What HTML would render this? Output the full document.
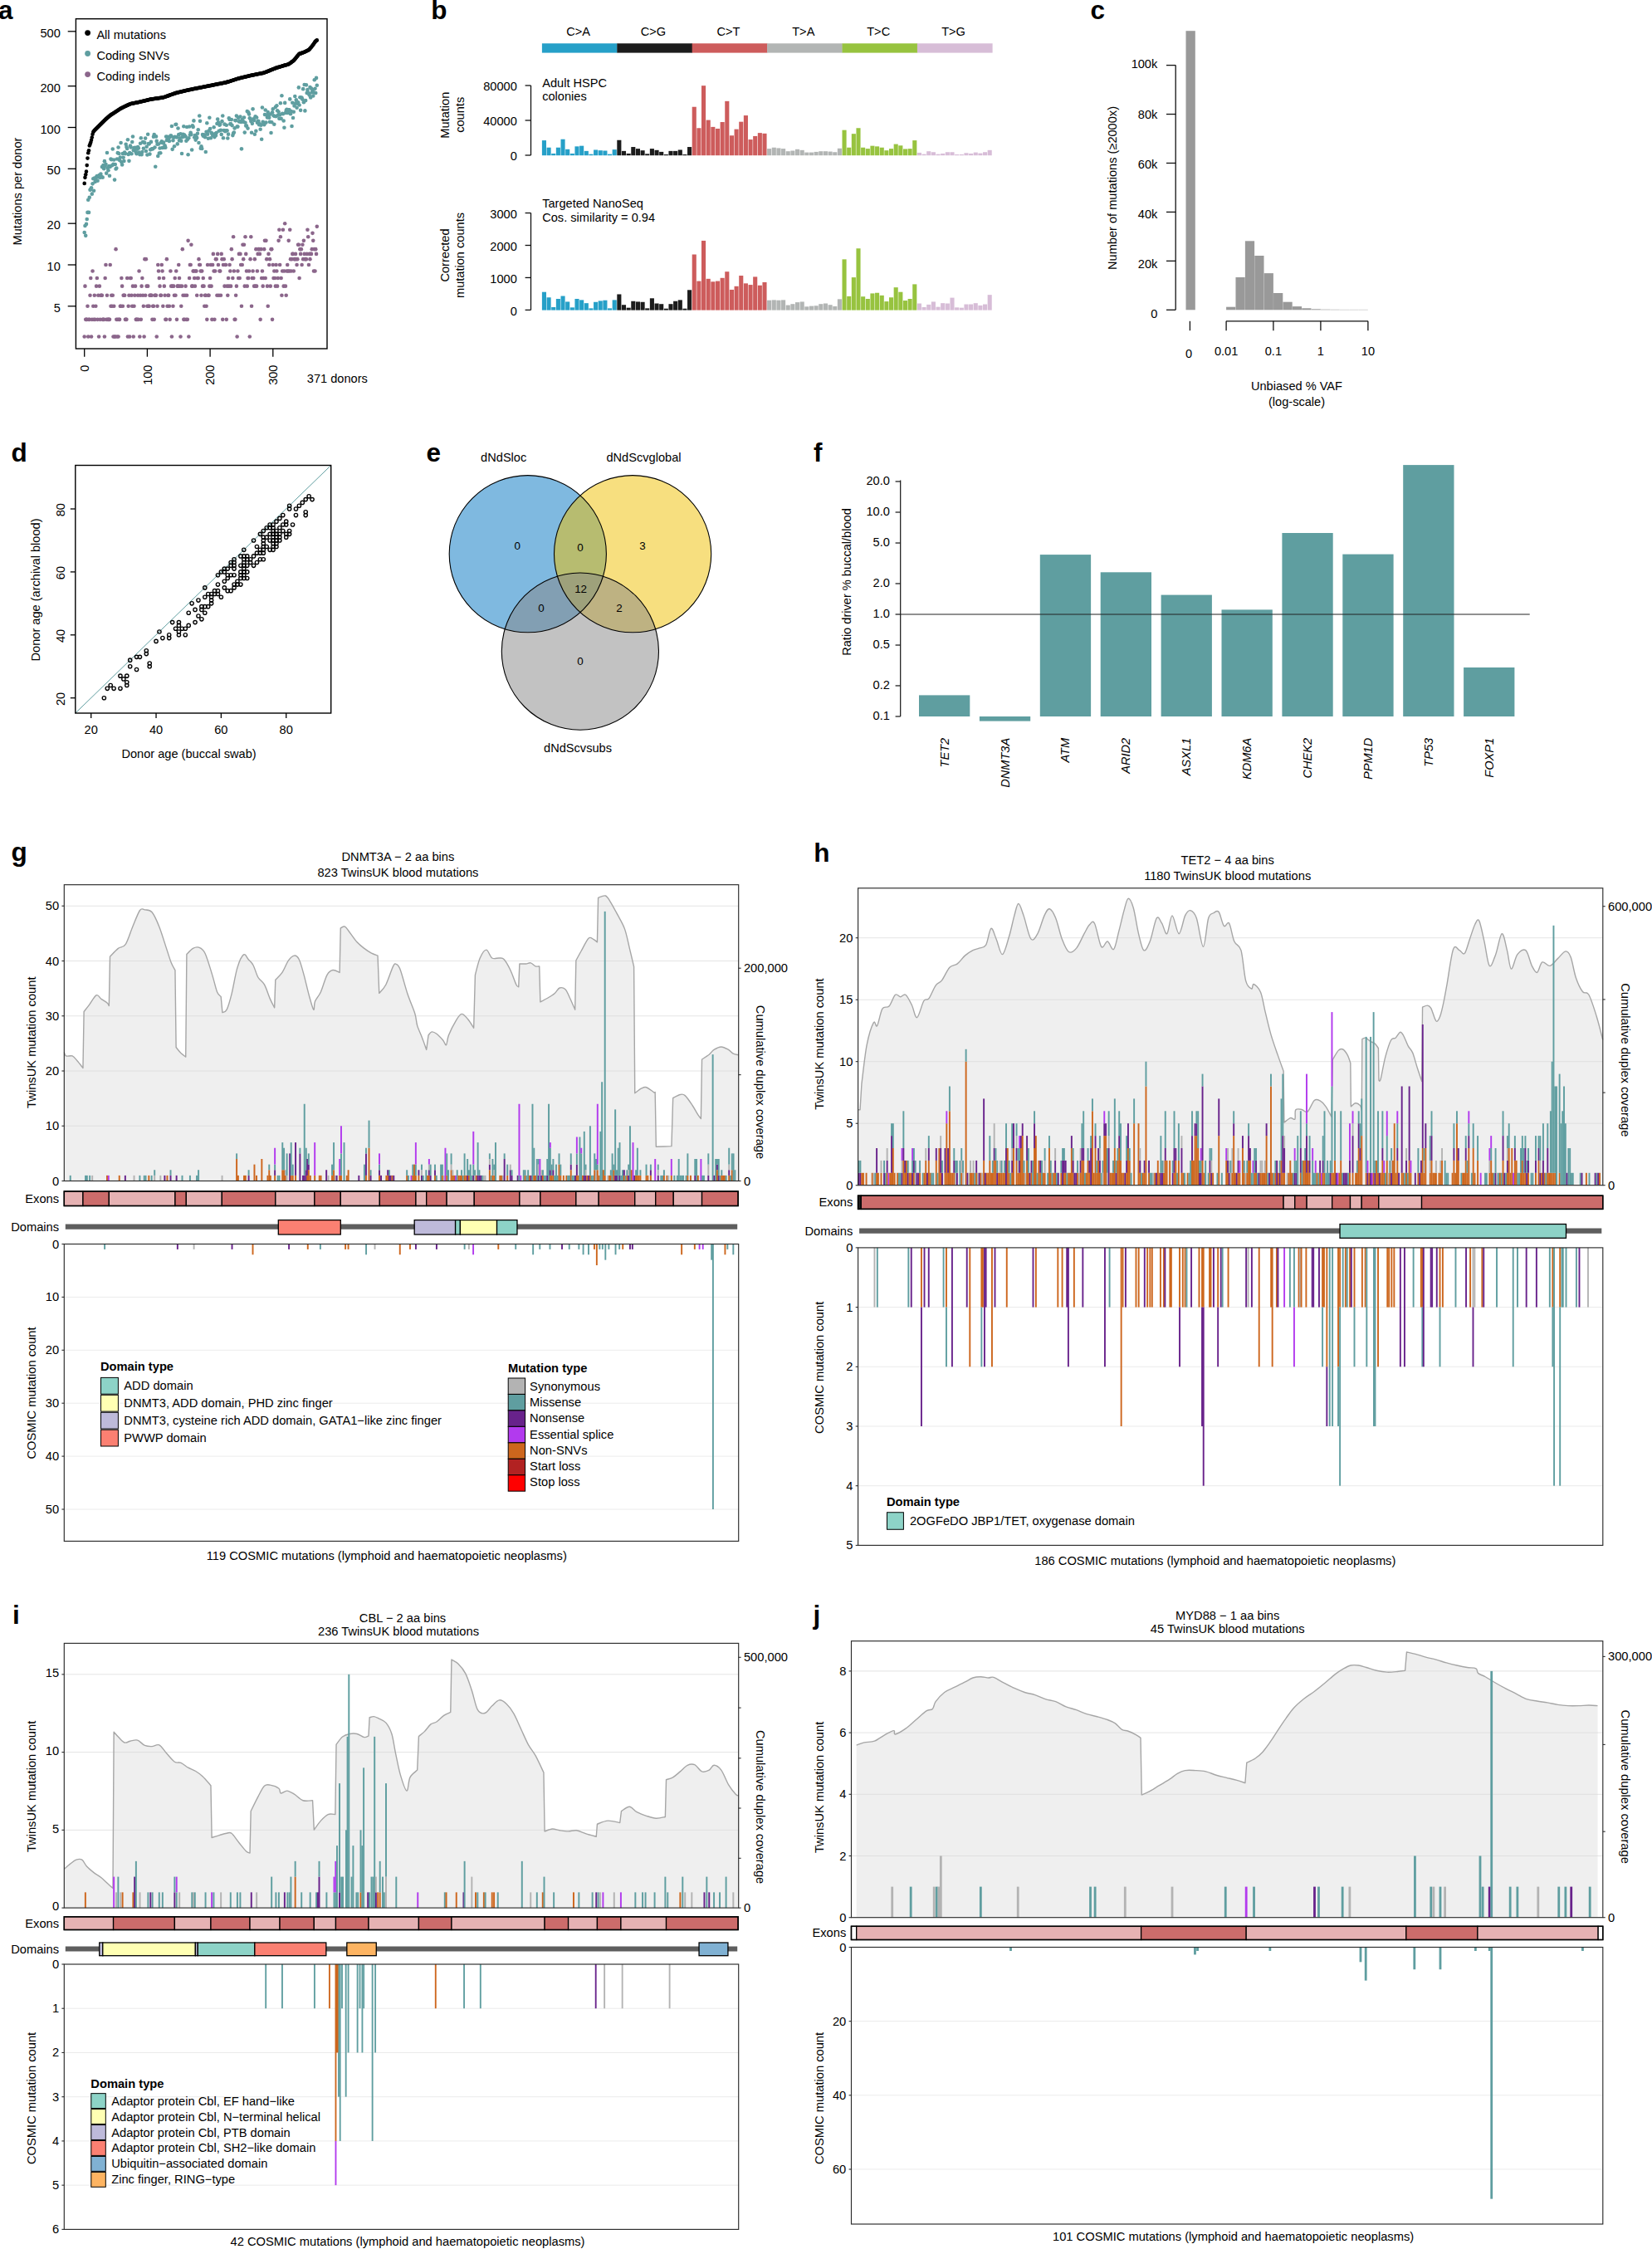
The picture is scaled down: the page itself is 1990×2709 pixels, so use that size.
<!DOCTYPE html>
<html lang="en"><head><meta charset="utf-8"><title>Figure</title>
<style>
html,body{margin:0;padding:0;background:#fff;}
body{width:1990px;height:2709px;overflow:hidden;}
svg{display:block;font-family:"Liberation Sans", Arial, Helvetica, sans-serif;}
svg text{font-family:"Liberation Sans", Arial, Helvetica, sans-serif;}
</style></head><body>
<svg width="1990" height="2709" viewBox="0 0 1990 2709">
<rect x="0" y="0" width="1990" height="2709" fill="#fff"/>
<text x="-2" y="22.7" font-size="31.5" font-weight="bold">a</text>
<text x="519.3" y="22.7" font-size="31.5" font-weight="bold">b</text>
<text x="1313.5" y="22.7" font-size="31.5" font-weight="bold">c</text>
<text x="13.5" y="556" font-size="31.5" font-weight="bold">d</text>
<text x="513.5" y="556" font-size="31.5" font-weight="bold">e</text>
<text x="980" y="556" font-size="31.5" font-weight="bold">f</text>
<text x="13.5" y="1036.5" font-size="31.5" font-weight="bold">g</text>
<text x="980.2" y="1037.9" font-size="31.5" font-weight="bold">h</text>
<text x="15" y="1956" font-size="31.5" font-weight="bold">i</text>
<text x="979.5" y="1955.5" font-size="31.5" font-weight="bold">j</text>
<line x1="81.7" y1="37.82" x2="91.4" y2="37.82" stroke="#000" stroke-width="1.3"/>
<text x="72.8" y="44.82" font-size="14.6" text-anchor="end">500</text>
<line x1="81.7" y1="103.68" x2="91.4" y2="103.68" stroke="#000" stroke-width="1.3"/>
<text x="72.8" y="110.68" font-size="14.6" text-anchor="end">200</text>
<line x1="81.7" y1="153.5" x2="91.4" y2="153.5" stroke="#000" stroke-width="1.3"/>
<text x="72.8" y="160.5" font-size="14.6" text-anchor="end">100</text>
<line x1="81.7" y1="203.32" x2="91.4" y2="203.32" stroke="#000" stroke-width="1.3"/>
<text x="72.8" y="210.32" font-size="14.6" text-anchor="end">50</text>
<line x1="81.7" y1="269.18" x2="91.4" y2="269.18" stroke="#000" stroke-width="1.3"/>
<text x="72.8" y="276.18" font-size="14.6" text-anchor="end">20</text>
<line x1="81.7" y1="319" x2="91.4" y2="319" stroke="#000" stroke-width="1.3"/>
<text x="72.8" y="326" font-size="14.6" text-anchor="end">10</text>
<line x1="81.7" y1="368.82" x2="91.4" y2="368.82" stroke="#000" stroke-width="1.3"/>
<text x="72.8" y="375.82" font-size="14.6" text-anchor="end">5</text>
<line x1="101.7" y1="420" x2="101.7" y2="429.7" stroke="#000" stroke-width="1.3"/>
<text font-size="14.6" text-anchor="end" transform="translate(106.9 439.5) rotate(-90)">0</text>
<line x1="177.4" y1="420" x2="177.4" y2="429.7" stroke="#000" stroke-width="1.3"/>
<text font-size="14.6" text-anchor="end" transform="translate(182.6 439.5) rotate(-90)">100</text>
<line x1="253.1" y1="420" x2="253.1" y2="429.7" stroke="#000" stroke-width="1.3"/>
<text font-size="14.6" text-anchor="end" transform="translate(258.3 439.5) rotate(-90)">200</text>
<line x1="328.8" y1="420" x2="328.8" y2="429.7" stroke="#000" stroke-width="1.3"/>
<text font-size="14.6" text-anchor="end" transform="translate(334 439.5) rotate(-90)">300</text>
<text x="369.8" y="461.3" font-size="14.6">371 donors</text>
<text font-size="14.6" text-anchor="middle" transform="translate(25.6 230.5) rotate(-90)">Mutations per donor</text>
<g fill="#8B668B"><circle cx="101.7" cy="405.54" r="2.3"/><circle cx="102.46" cy="344.64" r="2.3"/><circle cx="103.21" cy="384.86" r="2.3"/><circle cx="103.97" cy="384.86" r="2.3"/><circle cx="104.73" cy="384.86" r="2.3"/><circle cx="105.48" cy="368.82" r="2.3"/><circle cx="106.24" cy="405.54" r="2.3"/><circle cx="107" cy="384.86" r="2.3"/><circle cx="107.76" cy="384.86" r="2.3"/><circle cx="108.51" cy="355.72" r="2.3"/><circle cx="109.27" cy="335.04" r="2.3"/><circle cx="110.03" cy="405.54" r="2.3"/><circle cx="110.78" cy="384.86" r="2.3"/><circle cx="111.54" cy="326.57" r="2.3"/><circle cx="112.3" cy="368.82" r="2.3"/><circle cx="113.05" cy="384.86" r="2.3"/><circle cx="113.81" cy="355.72" r="2.3"/><circle cx="114.57" cy="384.86" r="2.3"/><circle cx="115.33" cy="368.82" r="2.3"/><circle cx="116.08" cy="344.64" r="2.3"/><circle cx="116.84" cy="335.04" r="2.3"/><circle cx="117.6" cy="384.86" r="2.3"/><circle cx="118.35" cy="355.72" r="2.3"/><circle cx="119.11" cy="405.54" r="2.3"/><circle cx="119.87" cy="344.64" r="2.3"/><circle cx="120.62" cy="384.86" r="2.3"/><circle cx="121.38" cy="355.72" r="2.3"/><circle cx="122.14" cy="355.72" r="2.3"/><circle cx="122.9" cy="355.72" r="2.3"/><circle cx="123.65" cy="384.86" r="2.3"/><circle cx="124.41" cy="384.86" r="2.3"/><circle cx="125.17" cy="384.86" r="2.3"/><circle cx="125.92" cy="405.54" r="2.3"/><circle cx="126.68" cy="335.04" r="2.3"/><circle cx="127.44" cy="319" r="2.3"/><circle cx="128.19" cy="384.86" r="2.3"/><circle cx="128.95" cy="355.72" r="2.3"/><circle cx="129.71" cy="384.86" r="2.3"/><circle cx="130.47" cy="384.86" r="2.3"/><circle cx="131.22" cy="384.86" r="2.3"/><circle cx="131.98" cy="384.86" r="2.3"/><circle cx="132.74" cy="319" r="2.3"/><circle cx="133.49" cy="368.82" r="2.3"/><circle cx="134.25" cy="355.72" r="2.3"/><circle cx="135.01" cy="368.82" r="2.3"/><circle cx="135.76" cy="355.72" r="2.3"/><circle cx="136.52" cy="405.54" r="2.3"/><circle cx="137.28" cy="368.82" r="2.3"/><circle cx="138.04" cy="405.54" r="2.3"/><circle cx="138.79" cy="405.54" r="2.3"/><circle cx="139.55" cy="300.14" r="2.3"/><circle cx="140.31" cy="384.86" r="2.3"/><circle cx="141.06" cy="405.54" r="2.3"/><circle cx="141.82" cy="384.86" r="2.3"/><circle cx="142.58" cy="405.54" r="2.3"/><circle cx="143.34" cy="384.86" r="2.3"/><circle cx="144.09" cy="384.86" r="2.3"/><circle cx="144.85" cy="368.82" r="2.3"/><circle cx="145.61" cy="368.82" r="2.3"/><circle cx="146.36" cy="335.04" r="2.3"/><circle cx="147.12" cy="344.64" r="2.3"/><circle cx="147.88" cy="368.82" r="2.3"/><circle cx="148.63" cy="355.72" r="2.3"/><circle cx="149.39" cy="355.72" r="2.3"/><circle cx="150.15" cy="355.72" r="2.3"/><circle cx="150.91" cy="384.86" r="2.3"/><circle cx="151.66" cy="384.86" r="2.3"/><circle cx="152.42" cy="384.86" r="2.3"/><circle cx="153.18" cy="335.04" r="2.3"/><circle cx="153.93" cy="405.54" r="2.3"/><circle cx="154.69" cy="368.82" r="2.3"/><circle cx="155.45" cy="355.72" r="2.3"/><circle cx="156.2" cy="405.54" r="2.3"/><circle cx="156.96" cy="335.04" r="2.3"/><circle cx="157.72" cy="335.04" r="2.3"/><circle cx="158.47" cy="355.72" r="2.3"/><circle cx="159.23" cy="368.82" r="2.3"/><circle cx="159.99" cy="344.64" r="2.3"/><circle cx="160.75" cy="405.54" r="2.3"/><circle cx="161.5" cy="368.82" r="2.3"/><circle cx="162.26" cy="355.72" r="2.3"/><circle cx="163.02" cy="344.64" r="2.3"/><circle cx="163.77" cy="384.86" r="2.3"/><circle cx="164.53" cy="384.86" r="2.3"/><circle cx="165.29" cy="384.86" r="2.3"/><circle cx="166.05" cy="355.72" r="2.3"/><circle cx="166.8" cy="384.86" r="2.3"/><circle cx="167.56" cy="326.57" r="2.3"/><circle cx="168.32" cy="405.54" r="2.3"/><circle cx="169.07" cy="355.72" r="2.3"/><circle cx="169.83" cy="384.86" r="2.3"/><circle cx="170.59" cy="344.64" r="2.3"/><circle cx="171.34" cy="335.04" r="2.3"/><circle cx="172.1" cy="355.72" r="2.3"/><circle cx="172.86" cy="368.82" r="2.3"/><circle cx="173.62" cy="405.54" r="2.3"/><circle cx="174.37" cy="312.15" r="2.3"/><circle cx="175.13" cy="355.72" r="2.3"/><circle cx="175.89" cy="312.15" r="2.3"/><circle cx="176.64" cy="344.64" r="2.3"/><circle cx="177.4" cy="368.82" r="2.3"/><circle cx="178.16" cy="344.64" r="2.3"/><circle cx="178.91" cy="368.82" r="2.3"/><circle cx="179.67" cy="368.82" r="2.3"/><circle cx="180.43" cy="355.72" r="2.3"/><circle cx="181.19" cy="355.72" r="2.3"/><circle cx="181.94" cy="355.72" r="2.3"/><circle cx="182.7" cy="355.72" r="2.3"/><circle cx="183.46" cy="384.86" r="2.3"/><circle cx="184.21" cy="368.82" r="2.3"/><circle cx="184.97" cy="368.82" r="2.3"/><circle cx="185.73" cy="384.86" r="2.3"/><circle cx="186.48" cy="355.72" r="2.3"/><circle cx="187.24" cy="355.72" r="2.3"/><circle cx="188" cy="355.72" r="2.3"/><circle cx="188.75" cy="405.54" r="2.3"/><circle cx="189.51" cy="368.82" r="2.3"/><circle cx="190.27" cy="319" r="2.3"/><circle cx="191.03" cy="326.57" r="2.3"/><circle cx="191.78" cy="335.04" r="2.3"/><circle cx="192.54" cy="344.64" r="2.3"/><circle cx="193.3" cy="355.72" r="2.3"/><circle cx="194.05" cy="355.72" r="2.3"/><circle cx="194.81" cy="319" r="2.3"/><circle cx="195.57" cy="326.57" r="2.3"/><circle cx="196.32" cy="368.82" r="2.3"/><circle cx="197.08" cy="335.04" r="2.3"/><circle cx="197.84" cy="344.64" r="2.3"/><circle cx="198.6" cy="355.72" r="2.3"/><circle cx="199.35" cy="384.86" r="2.3"/><circle cx="200.11" cy="384.86" r="2.3"/><circle cx="200.87" cy="312.15" r="2.3"/><circle cx="201.62" cy="368.82" r="2.3"/><circle cx="202.38" cy="355.72" r="2.3"/><circle cx="203.14" cy="355.72" r="2.3"/><circle cx="203.89" cy="368.82" r="2.3"/><circle cx="204.65" cy="384.86" r="2.3"/><circle cx="205.41" cy="326.57" r="2.3"/><circle cx="206.17" cy="344.64" r="2.3"/><circle cx="206.92" cy="405.54" r="2.3"/><circle cx="207.68" cy="344.64" r="2.3"/><circle cx="208.44" cy="368.82" r="2.3"/><circle cx="209.19" cy="344.64" r="2.3"/><circle cx="209.95" cy="355.72" r="2.3"/><circle cx="210.71" cy="335.04" r="2.3"/><circle cx="211.47" cy="355.72" r="2.3"/><circle cx="212.22" cy="326.57" r="2.3"/><circle cx="212.98" cy="384.86" r="2.3"/><circle cx="213.74" cy="344.64" r="2.3"/><circle cx="214.49" cy="344.64" r="2.3"/><circle cx="215.25" cy="319" r="2.3"/><circle cx="216.01" cy="335.04" r="2.3"/><circle cx="216.76" cy="344.64" r="2.3"/><circle cx="217.52" cy="405.54" r="2.3"/><circle cx="218.28" cy="368.82" r="2.3"/><circle cx="219.03" cy="344.64" r="2.3"/><circle cx="219.79" cy="300.14" r="2.3"/><circle cx="220.55" cy="355.72" r="2.3"/><circle cx="221.31" cy="384.86" r="2.3"/><circle cx="222.06" cy="384.86" r="2.3"/><circle cx="222.82" cy="355.72" r="2.3"/><circle cx="223.58" cy="344.64" r="2.3"/><circle cx="224.33" cy="384.86" r="2.3"/><circle cx="225.09" cy="355.72" r="2.3"/><circle cx="225.85" cy="384.86" r="2.3"/><circle cx="226.61" cy="289.86" r="2.3"/><circle cx="227.36" cy="405.54" r="2.3"/><circle cx="228.12" cy="335.04" r="2.3"/><circle cx="228.88" cy="319" r="2.3"/><circle cx="229.63" cy="319" r="2.3"/><circle cx="230.39" cy="294.82" r="2.3"/><circle cx="231.15" cy="344.64" r="2.3"/><circle cx="231.9" cy="344.64" r="2.3"/><circle cx="232.66" cy="326.57" r="2.3"/><circle cx="233.42" cy="326.57" r="2.3"/><circle cx="234.18" cy="335.04" r="2.3"/><circle cx="234.93" cy="344.64" r="2.3"/><circle cx="235.69" cy="326.57" r="2.3"/><circle cx="236.45" cy="326.57" r="2.3"/><circle cx="237.2" cy="355.72" r="2.3"/><circle cx="237.96" cy="335.04" r="2.3"/><circle cx="238.72" cy="335.04" r="2.3"/><circle cx="239.47" cy="312.15" r="2.3"/><circle cx="240.23" cy="319" r="2.3"/><circle cx="240.99" cy="319" r="2.3"/><circle cx="241.75" cy="326.57" r="2.3"/><circle cx="242.5" cy="355.72" r="2.3"/><circle cx="243.26" cy="326.57" r="2.3"/><circle cx="244.02" cy="344.64" r="2.3"/><circle cx="244.77" cy="335.04" r="2.3"/><circle cx="245.53" cy="344.64" r="2.3"/><circle cx="246.29" cy="368.82" r="2.3"/><circle cx="247.04" cy="355.72" r="2.3"/><circle cx="247.8" cy="355.72" r="2.3"/><circle cx="248.56" cy="368.82" r="2.3"/><circle cx="249.31" cy="384.86" r="2.3"/><circle cx="250.07" cy="319" r="2.3"/><circle cx="250.83" cy="355.72" r="2.3"/><circle cx="251.59" cy="355.72" r="2.3"/><circle cx="252.34" cy="344.64" r="2.3"/><circle cx="253.1" cy="335.04" r="2.3"/><circle cx="253.86" cy="319" r="2.3"/><circle cx="254.61" cy="344.64" r="2.3"/><circle cx="255.37" cy="384.86" r="2.3"/><circle cx="256.13" cy="319" r="2.3"/><circle cx="256.88" cy="305.9" r="2.3"/><circle cx="257.64" cy="326.57" r="2.3"/><circle cx="258.4" cy="384.86" r="2.3"/><circle cx="259.16" cy="326.57" r="2.3"/><circle cx="259.91" cy="312.15" r="2.3"/><circle cx="260.67" cy="312.15" r="2.3"/><circle cx="261.43" cy="355.72" r="2.3"/><circle cx="262.18" cy="305.9" r="2.3"/><circle cx="262.94" cy="319" r="2.3"/><circle cx="263.7" cy="355.72" r="2.3"/><circle cx="264.45" cy="326.57" r="2.3"/><circle cx="265.21" cy="326.57" r="2.3"/><circle cx="265.97" cy="355.72" r="2.3"/><circle cx="266.73" cy="305.9" r="2.3"/><circle cx="267.48" cy="312.15" r="2.3"/><circle cx="268.24" cy="384.86" r="2.3"/><circle cx="269" cy="319" r="2.3"/><circle cx="269.75" cy="312.15" r="2.3"/><circle cx="270.51" cy="344.64" r="2.3"/><circle cx="271.27" cy="319" r="2.3"/><circle cx="272.02" cy="319" r="2.3"/><circle cx="272.78" cy="384.86" r="2.3"/><circle cx="273.54" cy="344.64" r="2.3"/><circle cx="274.3" cy="355.72" r="2.3"/><circle cx="275.05" cy="335.04" r="2.3"/><circle cx="275.81" cy="344.64" r="2.3"/><circle cx="276.57" cy="319" r="2.3"/><circle cx="277.32" cy="326.57" r="2.3"/><circle cx="278.08" cy="344.64" r="2.3"/><circle cx="278.84" cy="300.14" r="2.3"/><circle cx="279.6" cy="312.15" r="2.3"/><circle cx="280.35" cy="335.04" r="2.3"/><circle cx="281.11" cy="285.22" r="2.3"/><circle cx="281.87" cy="326.57" r="2.3"/><circle cx="282.62" cy="384.86" r="2.3"/><circle cx="283.38" cy="384.86" r="2.3"/><circle cx="284.14" cy="355.72" r="2.3"/><circle cx="284.89" cy="344.64" r="2.3"/><circle cx="285.65" cy="405.54" r="2.3"/><circle cx="286.41" cy="326.57" r="2.3"/><circle cx="287.17" cy="335.04" r="2.3"/><circle cx="287.92" cy="305.9" r="2.3"/><circle cx="288.68" cy="335.04" r="2.3"/><circle cx="289.44" cy="305.9" r="2.3"/><circle cx="290.19" cy="319" r="2.3"/><circle cx="290.95" cy="368.82" r="2.3"/><circle cx="291.71" cy="319" r="2.3"/><circle cx="292.46" cy="294.82" r="2.3"/><circle cx="293.22" cy="312.15" r="2.3"/><circle cx="293.98" cy="294.82" r="2.3"/><circle cx="294.74" cy="344.64" r="2.3"/><circle cx="295.49" cy="285.22" r="2.3"/><circle cx="296.25" cy="305.9" r="2.3"/><circle cx="297.01" cy="326.57" r="2.3"/><circle cx="297.76" cy="344.64" r="2.3"/><circle cx="298.52" cy="335.04" r="2.3"/><circle cx="299.28" cy="335.04" r="2.3"/><circle cx="300.03" cy="326.57" r="2.3"/><circle cx="300.79" cy="405.54" r="2.3"/><circle cx="301.55" cy="312.15" r="2.3"/><circle cx="302.31" cy="285.22" r="2.3"/><circle cx="303.06" cy="368.82" r="2.3"/><circle cx="303.82" cy="335.04" r="2.3"/><circle cx="304.58" cy="326.57" r="2.3"/><circle cx="305.33" cy="335.04" r="2.3"/><circle cx="306.09" cy="344.64" r="2.3"/><circle cx="306.85" cy="312.15" r="2.3"/><circle cx="307.6" cy="344.64" r="2.3"/><circle cx="308.36" cy="300.14" r="2.3"/><circle cx="309.12" cy="344.64" r="2.3"/><circle cx="309.88" cy="326.57" r="2.3"/><circle cx="310.63" cy="305.9" r="2.3"/><circle cx="311.39" cy="300.14" r="2.3"/><circle cx="312.15" cy="300.14" r="2.3"/><circle cx="312.9" cy="305.9" r="2.3"/><circle cx="313.66" cy="384.86" r="2.3"/><circle cx="314.42" cy="300.14" r="2.3"/><circle cx="315.17" cy="335.04" r="2.3"/><circle cx="315.93" cy="326.57" r="2.3"/><circle cx="316.69" cy="344.64" r="2.3"/><circle cx="317.44" cy="335.04" r="2.3"/><circle cx="318.2" cy="300.14" r="2.3"/><circle cx="318.96" cy="289.86" r="2.3"/><circle cx="319.72" cy="335.04" r="2.3"/><circle cx="320.47" cy="289.86" r="2.3"/><circle cx="321.23" cy="312.15" r="2.3"/><circle cx="321.99" cy="344.64" r="2.3"/><circle cx="322.74" cy="368.82" r="2.3"/><circle cx="323.5" cy="305.9" r="2.3"/><circle cx="324.26" cy="319" r="2.3"/><circle cx="325.01" cy="312.15" r="2.3"/><circle cx="325.77" cy="344.64" r="2.3"/><circle cx="326.53" cy="300.14" r="2.3"/><circle cx="327.29" cy="300.14" r="2.3"/><circle cx="328.04" cy="384.86" r="2.3"/><circle cx="328.8" cy="319" r="2.3"/><circle cx="329.56" cy="335.04" r="2.3"/><circle cx="330.31" cy="326.57" r="2.3"/><circle cx="331.07" cy="335.04" r="2.3"/><circle cx="331.83" cy="344.64" r="2.3"/><circle cx="332.58" cy="319" r="2.3"/><circle cx="333.34" cy="326.57" r="2.3"/><circle cx="334.1" cy="344.64" r="2.3"/><circle cx="334.86" cy="335.04" r="2.3"/><circle cx="335.61" cy="289.86" r="2.3"/><circle cx="336.37" cy="276.75" r="2.3"/><circle cx="337.13" cy="319" r="2.3"/><circle cx="337.88" cy="285.22" r="2.3"/><circle cx="338.64" cy="335.04" r="2.3"/><circle cx="339.4" cy="355.72" r="2.3"/><circle cx="340.15" cy="326.57" r="2.3"/><circle cx="340.91" cy="276.75" r="2.3"/><circle cx="341.67" cy="344.64" r="2.3"/><circle cx="342.43" cy="326.57" r="2.3"/><circle cx="343.18" cy="269.18" r="2.3"/><circle cx="343.94" cy="344.64" r="2.3"/><circle cx="344.7" cy="355.72" r="2.3"/><circle cx="345.45" cy="326.57" r="2.3"/><circle cx="346.21" cy="319" r="2.3"/><circle cx="346.97" cy="326.57" r="2.3"/><circle cx="347.73" cy="289.86" r="2.3"/><circle cx="348.48" cy="326.57" r="2.3"/><circle cx="349.24" cy="276.75" r="2.3"/><circle cx="350" cy="312.15" r="2.3"/><circle cx="350.75" cy="326.57" r="2.3"/><circle cx="351.51" cy="312.15" r="2.3"/><circle cx="352.27" cy="305.9" r="2.3"/><circle cx="353.02" cy="305.9" r="2.3"/><circle cx="353.78" cy="326.57" r="2.3"/><circle cx="354.54" cy="312.15" r="2.3"/><circle cx="355.3" cy="312.15" r="2.3"/><circle cx="356.05" cy="305.9" r="2.3"/><circle cx="356.81" cy="312.15" r="2.3"/><circle cx="357.57" cy="319" r="2.3"/><circle cx="358.32" cy="312.15" r="2.3"/><circle cx="359.08" cy="294.82" r="2.3"/><circle cx="359.84" cy="294.82" r="2.3"/><circle cx="360.59" cy="335.04" r="2.3"/><circle cx="361.35" cy="300.14" r="2.3"/><circle cx="362.11" cy="305.9" r="2.3"/><circle cx="362.87" cy="300.14" r="2.3"/><circle cx="363.62" cy="319" r="2.3"/><circle cx="364.38" cy="294.82" r="2.3"/><circle cx="365.14" cy="312.15" r="2.3"/><circle cx="365.89" cy="289.86" r="2.3"/><circle cx="366.65" cy="305.9" r="2.3"/><circle cx="367.41" cy="312.15" r="2.3"/><circle cx="368.16" cy="312.15" r="2.3"/><circle cx="368.92" cy="312.15" r="2.3"/><circle cx="369.68" cy="305.9" r="2.3"/><circle cx="370.44" cy="276.75" r="2.3"/><circle cx="371.19" cy="285.22" r="2.3"/><circle cx="371.95" cy="319" r="2.3"/><circle cx="372.71" cy="305.9" r="2.3"/><circle cx="373.46" cy="312.15" r="2.3"/><circle cx="374.22" cy="305.9" r="2.3"/><circle cx="374.98" cy="305.9" r="2.3"/><circle cx="375.73" cy="300.14" r="2.3"/><circle cx="376.49" cy="280.86" r="2.3"/><circle cx="377.25" cy="289.86" r="2.3"/><circle cx="378" cy="326.57" r="2.3"/><circle cx="378.76" cy="300.14" r="2.3"/><circle cx="379.52" cy="326.57" r="2.3"/><circle cx="380.28" cy="300.14" r="2.3"/><circle cx="381.03" cy="305.9" r="2.3"/><circle cx="381.79" cy="272.87" r="2.3"/></g><g fill="#5F9EA0"><circle cx="101.7" cy="279.99" r="2.3"/><circle cx="102.46" cy="272.06" r="2.3"/><circle cx="103.21" cy="283.83" r="2.3"/><circle cx="103.97" cy="269.89" r="2.3"/><circle cx="104.73" cy="263.93" r="2.3"/><circle cx="105.48" cy="255.92" r="2.3"/><circle cx="106.24" cy="240.68" r="2.3"/><circle cx="107" cy="255.89" r="2.3"/><circle cx="107.76" cy="237.86" r="2.3"/><circle cx="108.51" cy="228.72" r="2.3"/><circle cx="109.27" cy="228.12" r="2.3"/><circle cx="110.03" cy="226.29" r="2.3"/><circle cx="110.78" cy="233.65" r="2.3"/><circle cx="111.54" cy="221.33" r="2.3"/><circle cx="112.3" cy="215.27" r="2.3"/><circle cx="113.05" cy="229.79" r="2.3"/><circle cx="113.81" cy="214.59" r="2.3"/><circle cx="114.57" cy="219" r="2.3"/><circle cx="115.33" cy="216.22" r="2.3"/><circle cx="116.08" cy="213.29" r="2.3"/><circle cx="116.84" cy="212.15" r="2.3"/><circle cx="117.6" cy="217.68" r="2.3"/><circle cx="118.35" cy="213.22" r="2.3"/><circle cx="119.11" cy="211.6" r="2.3"/><circle cx="119.87" cy="210.93" r="2.3"/><circle cx="120.62" cy="213.84" r="2.3"/><circle cx="121.38" cy="209.56" r="2.3"/><circle cx="122.14" cy="212.78" r="2.3"/><circle cx="122.9" cy="200.96" r="2.3"/><circle cx="123.65" cy="213.63" r="2.3"/><circle cx="124.41" cy="199.14" r="2.3"/><circle cx="125.17" cy="203.16" r="2.3"/><circle cx="125.92" cy="194.16" r="2.3"/><circle cx="126.68" cy="200.01" r="2.3"/><circle cx="127.44" cy="197.69" r="2.3"/><circle cx="128.19" cy="208.66" r="2.3"/><circle cx="128.95" cy="183.98" r="2.3"/><circle cx="129.71" cy="202.62" r="2.3"/><circle cx="130.47" cy="205.18" r="2.3"/><circle cx="131.22" cy="199.95" r="2.3"/><circle cx="131.98" cy="211.73" r="2.3"/><circle cx="132.74" cy="200.86" r="2.3"/><circle cx="133.49" cy="191.43" r="2.3"/><circle cx="134.25" cy="192.28" r="2.3"/><circle cx="135.01" cy="199.22" r="2.3"/><circle cx="135.76" cy="179.51" r="2.3"/><circle cx="136.52" cy="197.92" r="2.3"/><circle cx="137.28" cy="192.49" r="2.3"/><circle cx="138.04" cy="216.62" r="2.3"/><circle cx="138.79" cy="197.93" r="2.3"/><circle cx="139.55" cy="203.43" r="2.3"/><circle cx="140.31" cy="202.47" r="2.3"/><circle cx="141.06" cy="191.47" r="2.3"/><circle cx="141.82" cy="184.15" r="2.3"/><circle cx="142.58" cy="177.45" r="2.3"/><circle cx="143.34" cy="185" r="2.3"/><circle cx="144.09" cy="192.95" r="2.3"/><circle cx="144.85" cy="189.59" r="2.3"/><circle cx="145.61" cy="171.93" r="2.3"/><circle cx="146.36" cy="195.13" r="2.3"/><circle cx="147.12" cy="198.42" r="2.3"/><circle cx="147.88" cy="185.11" r="2.3"/><circle cx="148.63" cy="189.74" r="2.3"/><circle cx="149.39" cy="193.96" r="2.3"/><circle cx="150.15" cy="183.55" r="2.3"/><circle cx="150.91" cy="185.08" r="2.3"/><circle cx="151.66" cy="173.7" r="2.3"/><circle cx="152.42" cy="176.99" r="2.3"/><circle cx="153.18" cy="179.04" r="2.3"/><circle cx="153.93" cy="168.26" r="2.3"/><circle cx="154.69" cy="185.92" r="2.3"/><circle cx="155.45" cy="193.83" r="2.3"/><circle cx="156.2" cy="184.04" r="2.3"/><circle cx="156.96" cy="175.63" r="2.3"/><circle cx="157.72" cy="177.54" r="2.3"/><circle cx="158.47" cy="185.3" r="2.3"/><circle cx="159.23" cy="171.06" r="2.3"/><circle cx="159.99" cy="164.43" r="2.3"/><circle cx="160.75" cy="181" r="2.3"/><circle cx="161.5" cy="178.08" r="2.3"/><circle cx="162.26" cy="179.84" r="2.3"/><circle cx="163.02" cy="177.83" r="2.3"/><circle cx="163.77" cy="183.37" r="2.3"/><circle cx="164.53" cy="185.17" r="2.3"/><circle cx="165.29" cy="179.6" r="2.3"/><circle cx="166.05" cy="177.08" r="2.3"/><circle cx="166.8" cy="178.38" r="2.3"/><circle cx="167.56" cy="183.49" r="2.3"/><circle cx="168.32" cy="186.11" r="2.3"/><circle cx="169.07" cy="172.77" r="2.3"/><circle cx="169.83" cy="166.18" r="2.3"/><circle cx="170.59" cy="186.14" r="2.3"/><circle cx="171.34" cy="182.98" r="2.3"/><circle cx="172.1" cy="171.13" r="2.3"/><circle cx="172.86" cy="178.79" r="2.3"/><circle cx="173.62" cy="171.5" r="2.3"/><circle cx="174.37" cy="172.08" r="2.3"/><circle cx="175.13" cy="166.6" r="2.3"/><circle cx="175.89" cy="182" r="2.3"/><circle cx="176.64" cy="176.79" r="2.3"/><circle cx="177.4" cy="186.55" r="2.3"/><circle cx="178.16" cy="161.81" r="2.3"/><circle cx="178.91" cy="173.13" r="2.3"/><circle cx="179.67" cy="173.37" r="2.3"/><circle cx="180.43" cy="185.58" r="2.3"/><circle cx="181.19" cy="180.37" r="2.3"/><circle cx="181.94" cy="170.88" r="2.3"/><circle cx="182.7" cy="179.53" r="2.3"/><circle cx="183.46" cy="179.18" r="2.3"/><circle cx="184.21" cy="179.23" r="2.3"/><circle cx="184.97" cy="164.65" r="2.3"/><circle cx="185.73" cy="162.06" r="2.3"/><circle cx="186.48" cy="177.45" r="2.3"/><circle cx="187.24" cy="200.69" r="2.3"/><circle cx="188" cy="164.42" r="2.3"/><circle cx="188.75" cy="169.9" r="2.3"/><circle cx="189.51" cy="173.67" r="2.3"/><circle cx="190.27" cy="188.05" r="2.3"/><circle cx="191.03" cy="173.48" r="2.3"/><circle cx="191.78" cy="184.48" r="2.3"/><circle cx="192.54" cy="178.5" r="2.3"/><circle cx="193.3" cy="184.26" r="2.3"/><circle cx="194.05" cy="171.79" r="2.3"/><circle cx="194.81" cy="170.41" r="2.3"/><circle cx="195.57" cy="178.01" r="2.3"/><circle cx="196.32" cy="172.2" r="2.3"/><circle cx="197.08" cy="171.59" r="2.3"/><circle cx="197.84" cy="177.74" r="2.3"/><circle cx="198.6" cy="175.2" r="2.3"/><circle cx="199.35" cy="177.71" r="2.3"/><circle cx="200.11" cy="164.61" r="2.3"/><circle cx="200.87" cy="168.93" r="2.3"/><circle cx="201.62" cy="164.81" r="2.3"/><circle cx="202.38" cy="165.21" r="2.3"/><circle cx="203.14" cy="166.46" r="2.3"/><circle cx="203.89" cy="169.94" r="2.3"/><circle cx="204.65" cy="165.14" r="2.3"/><circle cx="205.41" cy="163.45" r="2.3"/><circle cx="206.17" cy="163.52" r="2.3"/><circle cx="206.92" cy="152" r="2.3"/><circle cx="207.68" cy="179.86" r="2.3"/><circle cx="208.44" cy="169.32" r="2.3"/><circle cx="209.19" cy="165.65" r="2.3"/><circle cx="209.95" cy="176.22" r="2.3"/><circle cx="210.71" cy="164.73" r="2.3"/><circle cx="211.47" cy="149.99" r="2.3"/><circle cx="212.22" cy="149.81" r="2.3"/><circle cx="212.98" cy="165.4" r="2.3"/><circle cx="213.74" cy="173.39" r="2.3"/><circle cx="214.49" cy="154.49" r="2.3"/><circle cx="215.25" cy="162.13" r="2.3"/><circle cx="216.01" cy="169.18" r="2.3"/><circle cx="216.76" cy="166.34" r="2.3"/><circle cx="217.52" cy="161.31" r="2.3"/><circle cx="218.28" cy="169.74" r="2.3"/><circle cx="219.03" cy="185" r="2.3"/><circle cx="219.79" cy="165.17" r="2.3"/><circle cx="220.55" cy="161.86" r="2.3"/><circle cx="221.31" cy="152.21" r="2.3"/><circle cx="222.06" cy="162.48" r="2.3"/><circle cx="222.82" cy="164.09" r="2.3"/><circle cx="223.58" cy="164.47" r="2.3"/><circle cx="224.33" cy="169.73" r="2.3"/><circle cx="225.09" cy="153.07" r="2.3"/><circle cx="225.85" cy="167.91" r="2.3"/><circle cx="226.61" cy="186.28" r="2.3"/><circle cx="227.36" cy="166.22" r="2.3"/><circle cx="228.12" cy="152.56" r="2.3"/><circle cx="228.88" cy="162.55" r="2.3"/><circle cx="229.63" cy="159.75" r="2.3"/><circle cx="230.39" cy="162.03" r="2.3"/><circle cx="231.15" cy="180.55" r="2.3"/><circle cx="231.9" cy="151.4" r="2.3"/><circle cx="232.66" cy="152.88" r="2.3"/><circle cx="233.42" cy="145.42" r="2.3"/><circle cx="234.18" cy="165.49" r="2.3"/><circle cx="234.93" cy="162.95" r="2.3"/><circle cx="235.69" cy="168.61" r="2.3"/><circle cx="236.45" cy="164.65" r="2.3"/><circle cx="237.2" cy="166.03" r="2.3"/><circle cx="237.96" cy="160.77" r="2.3"/><circle cx="238.72" cy="156.23" r="2.3"/><circle cx="239.47" cy="171.95" r="2.3"/><circle cx="240.23" cy="139.5" r="2.3"/><circle cx="240.99" cy="145.84" r="2.3"/><circle cx="241.75" cy="178.82" r="2.3"/><circle cx="242.5" cy="176.25" r="2.3"/><circle cx="243.26" cy="178.93" r="2.3"/><circle cx="244.02" cy="162.04" r="2.3"/><circle cx="244.77" cy="163.73" r="2.3"/><circle cx="245.53" cy="162.56" r="2.3"/><circle cx="246.29" cy="162.67" r="2.3"/><circle cx="247.04" cy="165.13" r="2.3"/><circle cx="247.8" cy="182.99" r="2.3"/><circle cx="248.56" cy="158.83" r="2.3"/><circle cx="249.31" cy="148.32" r="2.3"/><circle cx="250.07" cy="161.63" r="2.3"/><circle cx="250.83" cy="166.69" r="2.3"/><circle cx="251.59" cy="157.61" r="2.3"/><circle cx="252.34" cy="141.69" r="2.3"/><circle cx="253.1" cy="154.93" r="2.3"/><circle cx="253.86" cy="166.2" r="2.3"/><circle cx="254.61" cy="159.79" r="2.3"/><circle cx="255.37" cy="161.01" r="2.3"/><circle cx="256.13" cy="162.53" r="2.3"/><circle cx="256.88" cy="163.24" r="2.3"/><circle cx="257.64" cy="153.25" r="2.3"/><circle cx="258.4" cy="165.11" r="2.3"/><circle cx="259.16" cy="161.13" r="2.3"/><circle cx="259.91" cy="163.15" r="2.3"/><circle cx="260.67" cy="160.02" r="2.3"/><circle cx="261.43" cy="149.06" r="2.3"/><circle cx="262.18" cy="143.56" r="2.3"/><circle cx="262.94" cy="147.4" r="2.3"/><circle cx="263.7" cy="157.68" r="2.3"/><circle cx="264.45" cy="150.71" r="2.3"/><circle cx="265.21" cy="149.65" r="2.3"/><circle cx="265.97" cy="156.85" r="2.3"/><circle cx="266.73" cy="161.92" r="2.3"/><circle cx="267.48" cy="146.16" r="2.3"/><circle cx="268.24" cy="139.51" r="2.3"/><circle cx="269" cy="166.21" r="2.3"/><circle cx="269.75" cy="157.06" r="2.3"/><circle cx="270.51" cy="149.63" r="2.3"/><circle cx="271.27" cy="158.3" r="2.3"/><circle cx="272.02" cy="157.22" r="2.3"/><circle cx="272.78" cy="150.8" r="2.3"/><circle cx="273.54" cy="157.31" r="2.3"/><circle cx="274.3" cy="166.51" r="2.3"/><circle cx="275.05" cy="161.66" r="2.3"/><circle cx="275.81" cy="142.25" r="2.3"/><circle cx="276.57" cy="143.89" r="2.3"/><circle cx="277.32" cy="149.4" r="2.3"/><circle cx="278.08" cy="149.29" r="2.3"/><circle cx="278.84" cy="144.12" r="2.3"/><circle cx="279.6" cy="151.09" r="2.3"/><circle cx="280.35" cy="163.11" r="2.3"/><circle cx="281.11" cy="160.65" r="2.3"/><circle cx="281.87" cy="159.43" r="2.3"/><circle cx="282.62" cy="154.42" r="2.3"/><circle cx="283.38" cy="145.12" r="2.3"/><circle cx="284.14" cy="145.1" r="2.3"/><circle cx="284.89" cy="139.62" r="2.3"/><circle cx="285.65" cy="152.51" r="2.3"/><circle cx="286.41" cy="152.6" r="2.3"/><circle cx="287.17" cy="141.85" r="2.3"/><circle cx="287.92" cy="146.47" r="2.3"/><circle cx="288.68" cy="145.96" r="2.3"/><circle cx="289.44" cy="140.44" r="2.3"/><circle cx="290.19" cy="146.95" r="2.3"/><circle cx="290.95" cy="179.34" r="2.3"/><circle cx="291.71" cy="144.13" r="2.3"/><circle cx="292.46" cy="146.47" r="2.3"/><circle cx="293.22" cy="146.58" r="2.3"/><circle cx="293.98" cy="141.49" r="2.3"/><circle cx="294.74" cy="159.62" r="2.3"/><circle cx="295.49" cy="147.77" r="2.3"/><circle cx="296.25" cy="151.55" r="2.3"/><circle cx="297.01" cy="151.47" r="2.3"/><circle cx="297.76" cy="134.02" r="2.3"/><circle cx="298.52" cy="154.59" r="2.3"/><circle cx="299.28" cy="135.38" r="2.3"/><circle cx="300.03" cy="137.59" r="2.3"/><circle cx="300.79" cy="142.23" r="2.3"/><circle cx="301.55" cy="143.02" r="2.3"/><circle cx="302.31" cy="146.01" r="2.3"/><circle cx="303.06" cy="159.78" r="2.3"/><circle cx="303.82" cy="148.85" r="2.3"/><circle cx="304.58" cy="131.34" r="2.3"/><circle cx="305.33" cy="143.23" r="2.3"/><circle cx="306.09" cy="145.06" r="2.3"/><circle cx="306.85" cy="161.82" r="2.3"/><circle cx="307.6" cy="140.26" r="2.3"/><circle cx="308.36" cy="157.82" r="2.3"/><circle cx="309.12" cy="141.51" r="2.3"/><circle cx="309.88" cy="147.78" r="2.3"/><circle cx="310.63" cy="145.81" r="2.3"/><circle cx="311.39" cy="146.09" r="2.3"/><circle cx="312.15" cy="150.14" r="2.3"/><circle cx="312.9" cy="149.32" r="2.3"/><circle cx="313.66" cy="155.7" r="2.3"/><circle cx="314.42" cy="150.82" r="2.3"/><circle cx="315.17" cy="167.74" r="2.3"/><circle cx="315.93" cy="129.55" r="2.3"/><circle cx="316.69" cy="146.7" r="2.3"/><circle cx="317.44" cy="147.97" r="2.3"/><circle cx="318.2" cy="150.18" r="2.3"/><circle cx="318.96" cy="137.97" r="2.3"/><circle cx="319.72" cy="132.57" r="2.3"/><circle cx="320.47" cy="147.58" r="2.3"/><circle cx="321.23" cy="138.64" r="2.3"/><circle cx="321.99" cy="141.54" r="2.3"/><circle cx="322.74" cy="135.06" r="2.3"/><circle cx="323.5" cy="139.14" r="2.3"/><circle cx="324.26" cy="141.78" r="2.3"/><circle cx="325.01" cy="146.87" r="2.3"/><circle cx="325.77" cy="137.44" r="2.3"/><circle cx="326.53" cy="160.03" r="2.3"/><circle cx="327.29" cy="147.3" r="2.3"/><circle cx="328.04" cy="135.34" r="2.3"/><circle cx="328.8" cy="131.24" r="2.3"/><circle cx="329.56" cy="139.33" r="2.3"/><circle cx="330.31" cy="149.68" r="2.3"/><circle cx="331.07" cy="139.96" r="2.3"/><circle cx="331.83" cy="129" r="2.3"/><circle cx="332.58" cy="140.1" r="2.3"/><circle cx="333.34" cy="127.23" r="2.3"/><circle cx="334.1" cy="133.2" r="2.3"/><circle cx="334.86" cy="138.74" r="2.3"/><circle cx="335.61" cy="134.86" r="2.3"/><circle cx="336.37" cy="142.85" r="2.3"/><circle cx="337.13" cy="138.33" r="2.3"/><circle cx="337.88" cy="124.25" r="2.3"/><circle cx="338.64" cy="142.83" r="2.3"/><circle cx="339.4" cy="115.21" r="2.3"/><circle cx="340.15" cy="136.77" r="2.3"/><circle cx="340.91" cy="137.27" r="2.3"/><circle cx="341.67" cy="145.49" r="2.3"/><circle cx="342.43" cy="153.73" r="2.3"/><circle cx="343.18" cy="123.9" r="2.3"/><circle cx="343.94" cy="136.04" r="2.3"/><circle cx="344.7" cy="133" r="2.3"/><circle cx="345.45" cy="131.8" r="2.3"/><circle cx="346.21" cy="135.92" r="2.3"/><circle cx="346.97" cy="135.8" r="2.3"/><circle cx="347.73" cy="132.35" r="2.3"/><circle cx="348.48" cy="132.39" r="2.3"/><circle cx="349.24" cy="119.39" r="2.3"/><circle cx="350" cy="137.27" r="2.3"/><circle cx="350.75" cy="133.94" r="2.3"/><circle cx="351.51" cy="152" r="2.3"/><circle cx="352.27" cy="123.77" r="2.3"/><circle cx="353.02" cy="142.01" r="2.3"/><circle cx="353.78" cy="134.71" r="2.3"/><circle cx="354.54" cy="127.42" r="2.3"/><circle cx="355.3" cy="115.99" r="2.3"/><circle cx="356.05" cy="124.41" r="2.3"/><circle cx="356.81" cy="120.19" r="2.3"/><circle cx="357.57" cy="129.82" r="2.3"/><circle cx="358.32" cy="124.63" r="2.3"/><circle cx="359.08" cy="123.2" r="2.3"/><circle cx="359.84" cy="105.38" r="2.3"/><circle cx="360.59" cy="126.48" r="2.3"/><circle cx="361.35" cy="117.2" r="2.3"/><circle cx="362.11" cy="132.85" r="2.3"/><circle cx="362.87" cy="117.43" r="2.3"/><circle cx="363.62" cy="117.9" r="2.3"/><circle cx="364.38" cy="119.81" r="2.3"/><circle cx="365.14" cy="107.16" r="2.3"/><circle cx="365.89" cy="123.25" r="2.3"/><circle cx="366.65" cy="101.93" r="2.3"/><circle cx="367.41" cy="133.38" r="2.3"/><circle cx="368.16" cy="121.07" r="2.3"/><circle cx="368.92" cy="102.33" r="2.3"/><circle cx="369.68" cy="111.97" r="2.3"/><circle cx="370.44" cy="108.14" r="2.3"/><circle cx="371.19" cy="111.72" r="2.3"/><circle cx="371.95" cy="112.68" r="2.3"/><circle cx="372.71" cy="114.62" r="2.3"/><circle cx="373.46" cy="105.02" r="2.3"/><circle cx="374.22" cy="117.51" r="2.3"/><circle cx="374.98" cy="106.46" r="2.3"/><circle cx="375.73" cy="111.21" r="2.3"/><circle cx="376.49" cy="108.17" r="2.3"/><circle cx="377.25" cy="115.47" r="2.3"/><circle cx="378" cy="111.34" r="2.3"/><circle cx="378.76" cy="96.28" r="2.3"/><circle cx="379.52" cy="106.68" r="2.3"/><circle cx="380.28" cy="112.06" r="2.3"/><circle cx="381.03" cy="93.92" r="2.3"/><circle cx="381.79" cy="102.72" r="2.3"/></g><g fill="#000"><circle cx="101.7" cy="220.9" r="2.3"/><circle cx="102.46" cy="213.83" r="2.3"/><circle cx="103.21" cy="210.33" r="2.3"/><circle cx="103.97" cy="206.66" r="2.3"/><circle cx="104.73" cy="199.09" r="2.3"/><circle cx="105.48" cy="190.6" r="2.3"/><circle cx="106.24" cy="184.3" r="2.3"/><circle cx="107" cy="181.29" r="2.3"/><circle cx="107.76" cy="175.53" r="2.3"/><circle cx="108.51" cy="173.63" r="2.3"/><circle cx="109.27" cy="171.48" r="2.3"/><circle cx="110.03" cy="168.8" r="2.3"/><circle cx="110.78" cy="165.51" r="2.3"/><circle cx="111.54" cy="161.73" r="2.3"/><circle cx="112.3" cy="159.07" r="2.3"/><circle cx="113.05" cy="158.01" r="2.3"/><circle cx="113.81" cy="157.07" r="2.3"/><circle cx="114.57" cy="156.31" r="2.3"/><circle cx="115.33" cy="155.56" r="2.3"/><circle cx="116.08" cy="154.8" r="2.3"/><circle cx="116.84" cy="154.04" r="2.3"/><circle cx="117.6" cy="153.29" r="2.3"/><circle cx="118.35" cy="152.53" r="2.3"/><circle cx="119.11" cy="151.77" r="2.3"/><circle cx="119.87" cy="151.02" r="2.3"/><circle cx="120.62" cy="150.26" r="2.3"/><circle cx="121.38" cy="149.5" r="2.3"/><circle cx="122.14" cy="148.74" r="2.3"/><circle cx="122.9" cy="147.99" r="2.3"/><circle cx="123.65" cy="147.23" r="2.3"/><circle cx="124.41" cy="146.47" r="2.3"/><circle cx="125.17" cy="145.72" r="2.3"/><circle cx="125.92" cy="144.96" r="2.3"/><circle cx="126.68" cy="144.2" r="2.3"/><circle cx="127.44" cy="143.49" r="2.3"/><circle cx="128.19" cy="142.85" r="2.3"/><circle cx="128.95" cy="142.21" r="2.3"/><circle cx="129.71" cy="141.56" r="2.3"/><circle cx="130.47" cy="140.92" r="2.3"/><circle cx="131.22" cy="140.28" r="2.3"/><circle cx="131.98" cy="139.63" r="2.3"/><circle cx="132.74" cy="138.99" r="2.3"/><circle cx="133.49" cy="138.41" r="2.3"/><circle cx="134.25" cy="137.92" r="2.3"/><circle cx="135.01" cy="137.43" r="2.3"/><circle cx="135.76" cy="136.93" r="2.3"/><circle cx="136.52" cy="136.44" r="2.3"/><circle cx="137.28" cy="135.95" r="2.3"/><circle cx="138.04" cy="135.46" r="2.3"/><circle cx="138.79" cy="134.97" r="2.3"/><circle cx="139.55" cy="134.47" r="2.3"/><circle cx="140.31" cy="133.98" r="2.3"/><circle cx="141.06" cy="133.49" r="2.3"/><circle cx="141.82" cy="133" r="2.3"/><circle cx="142.58" cy="132.51" r="2.3"/><circle cx="143.34" cy="132.01" r="2.3"/><circle cx="144.09" cy="131.52" r="2.3"/><circle cx="144.85" cy="131.03" r="2.3"/><circle cx="145.61" cy="130.59" r="2.3"/><circle cx="146.36" cy="130.21" r="2.3"/><circle cx="147.12" cy="129.83" r="2.3"/><circle cx="147.88" cy="129.45" r="2.3"/><circle cx="148.63" cy="129.07" r="2.3"/><circle cx="149.39" cy="128.69" r="2.3"/><circle cx="150.15" cy="128.32" r="2.3"/><circle cx="150.91" cy="127.94" r="2.3"/><circle cx="151.66" cy="127.58" r="2.3"/><circle cx="152.42" cy="127.23" r="2.3"/><circle cx="153.18" cy="126.89" r="2.3"/><circle cx="153.93" cy="126.55" r="2.3"/><circle cx="154.69" cy="126.21" r="2.3"/><circle cx="155.45" cy="125.87" r="2.3"/><circle cx="156.2" cy="125.53" r="2.3"/><circle cx="156.96" cy="125.19" r="2.3"/><circle cx="157.72" cy="124.93" r="2.3"/><circle cx="158.47" cy="124.78" r="2.3"/><circle cx="159.23" cy="124.63" r="2.3"/><circle cx="159.99" cy="124.48" r="2.3"/><circle cx="160.75" cy="124.33" r="2.3"/><circle cx="161.5" cy="124.18" r="2.3"/><circle cx="162.26" cy="124.02" r="2.3"/><circle cx="163.02" cy="123.87" r="2.3"/><circle cx="163.77" cy="123.72" r="2.3"/><circle cx="164.53" cy="123.57" r="2.3"/><circle cx="165.29" cy="123.42" r="2.3"/><circle cx="166.05" cy="123.27" r="2.3"/><circle cx="166.8" cy="123.11" r="2.3"/><circle cx="167.56" cy="122.93" r="2.3"/><circle cx="168.32" cy="122.75" r="2.3"/><circle cx="169.07" cy="122.58" r="2.3"/><circle cx="169.83" cy="122.4" r="2.3"/><circle cx="170.59" cy="122.22" r="2.3"/><circle cx="171.34" cy="122.05" r="2.3"/><circle cx="172.1" cy="121.87" r="2.3"/><circle cx="172.86" cy="121.69" r="2.3"/><circle cx="173.62" cy="121.52" r="2.3"/><circle cx="174.37" cy="121.34" r="2.3"/><circle cx="175.13" cy="121.16" r="2.3"/><circle cx="175.89" cy="120.98" r="2.3"/><circle cx="176.64" cy="120.79" r="2.3"/><circle cx="177.4" cy="120.6" r="2.3"/><circle cx="178.16" cy="120.41" r="2.3"/><circle cx="178.91" cy="120.22" r="2.3"/><circle cx="179.67" cy="120.03" r="2.3"/><circle cx="180.43" cy="119.84" r="2.3"/><circle cx="181.19" cy="119.66" r="2.3"/><circle cx="181.94" cy="119.5" r="2.3"/><circle cx="182.7" cy="119.4" r="2.3"/><circle cx="183.46" cy="119.29" r="2.3"/><circle cx="184.21" cy="119.19" r="2.3"/><circle cx="184.97" cy="119.08" r="2.3"/><circle cx="185.73" cy="118.97" r="2.3"/><circle cx="186.48" cy="118.87" r="2.3"/><circle cx="187.24" cy="118.76" r="2.3"/><circle cx="188" cy="118.66" r="2.3"/><circle cx="188.75" cy="118.55" r="2.3"/><circle cx="189.51" cy="118.44" r="2.3"/><circle cx="190.27" cy="118.34" r="2.3"/><circle cx="191.03" cy="118.23" r="2.3"/><circle cx="191.78" cy="118.13" r="2.3"/><circle cx="192.54" cy="118.02" r="2.3"/><circle cx="193.3" cy="117.91" r="2.3"/><circle cx="194.05" cy="117.81" r="2.3"/><circle cx="194.81" cy="117.7" r="2.3"/><circle cx="195.57" cy="117.6" r="2.3"/><circle cx="196.32" cy="117.49" r="2.3"/><circle cx="197.08" cy="117.31" r="2.3"/><circle cx="197.84" cy="117.03" r="2.3"/><circle cx="198.6" cy="116.76" r="2.3"/><circle cx="199.35" cy="116.49" r="2.3"/><circle cx="200.11" cy="116.22" r="2.3"/><circle cx="200.87" cy="115.94" r="2.3"/><circle cx="201.62" cy="115.67" r="2.3"/><circle cx="202.38" cy="115.4" r="2.3"/><circle cx="203.14" cy="115.13" r="2.3"/><circle cx="203.89" cy="114.85" r="2.3"/><circle cx="204.65" cy="114.58" r="2.3"/><circle cx="205.41" cy="114.31" r="2.3"/><circle cx="206.17" cy="114.04" r="2.3"/><circle cx="206.92" cy="113.76" r="2.3"/><circle cx="207.68" cy="113.49" r="2.3"/><circle cx="208.44" cy="113.22" r="2.3"/><circle cx="209.19" cy="112.95" r="2.3"/><circle cx="209.95" cy="112.67" r="2.3"/><circle cx="210.71" cy="112.4" r="2.3"/><circle cx="211.47" cy="112.13" r="2.3"/><circle cx="212.22" cy="111.9" r="2.3"/><circle cx="212.98" cy="111.72" r="2.3"/><circle cx="213.74" cy="111.54" r="2.3"/><circle cx="214.49" cy="111.35" r="2.3"/><circle cx="215.25" cy="111.17" r="2.3"/><circle cx="216.01" cy="110.99" r="2.3"/><circle cx="216.76" cy="110.81" r="2.3"/><circle cx="217.52" cy="110.63" r="2.3"/><circle cx="218.28" cy="110.45" r="2.3"/><circle cx="219.03" cy="110.26" r="2.3"/><circle cx="219.79" cy="110.08" r="2.3"/><circle cx="220.55" cy="109.9" r="2.3"/><circle cx="221.31" cy="109.72" r="2.3"/><circle cx="222.06" cy="109.54" r="2.3"/><circle cx="222.82" cy="109.36" r="2.3"/><circle cx="223.58" cy="109.17" r="2.3"/><circle cx="224.33" cy="108.99" r="2.3"/><circle cx="225.09" cy="108.81" r="2.3"/><circle cx="225.85" cy="108.63" r="2.3"/><circle cx="226.61" cy="108.45" r="2.3"/><circle cx="227.36" cy="108.28" r="2.3"/><circle cx="228.12" cy="108.13" r="2.3"/><circle cx="228.88" cy="107.98" r="2.3"/><circle cx="229.63" cy="107.83" r="2.3"/><circle cx="230.39" cy="107.68" r="2.3"/><circle cx="231.15" cy="107.52" r="2.3"/><circle cx="231.9" cy="107.37" r="2.3"/><circle cx="232.66" cy="107.22" r="2.3"/><circle cx="233.42" cy="107.07" r="2.3"/><circle cx="234.18" cy="106.92" r="2.3"/><circle cx="234.93" cy="106.77" r="2.3"/><circle cx="235.69" cy="106.62" r="2.3"/><circle cx="236.45" cy="106.46" r="2.3"/><circle cx="237.2" cy="106.31" r="2.3"/><circle cx="237.96" cy="106.16" r="2.3"/><circle cx="238.72" cy="106.01" r="2.3"/><circle cx="239.47" cy="105.86" r="2.3"/><circle cx="240.23" cy="105.71" r="2.3"/><circle cx="240.99" cy="105.56" r="2.3"/><circle cx="241.75" cy="105.4" r="2.3"/><circle cx="242.5" cy="105.25" r="2.3"/><circle cx="243.26" cy="105.1" r="2.3"/><circle cx="244.02" cy="104.95" r="2.3"/><circle cx="244.77" cy="104.8" r="2.3"/><circle cx="245.53" cy="104.65" r="2.3"/><circle cx="246.29" cy="104.5" r="2.3"/><circle cx="247.04" cy="104.34" r="2.3"/><circle cx="247.8" cy="104.19" r="2.3"/><circle cx="248.56" cy="104.04" r="2.3"/><circle cx="249.31" cy="103.89" r="2.3"/><circle cx="250.07" cy="103.74" r="2.3"/><circle cx="250.83" cy="103.59" r="2.3"/><circle cx="251.59" cy="103.44" r="2.3"/><circle cx="252.34" cy="103.28" r="2.3"/><circle cx="253.1" cy="103.13" r="2.3"/><circle cx="253.86" cy="102.98" r="2.3"/><circle cx="254.61" cy="102.83" r="2.3"/><circle cx="255.37" cy="102.68" r="2.3"/><circle cx="256.13" cy="102.53" r="2.3"/><circle cx="256.88" cy="102.38" r="2.3"/><circle cx="257.64" cy="102.22" r="2.3"/><circle cx="258.4" cy="102.07" r="2.3"/><circle cx="259.16" cy="101.92" r="2.3"/><circle cx="259.91" cy="101.77" r="2.3"/><circle cx="260.67" cy="101.62" r="2.3"/><circle cx="261.43" cy="101.47" r="2.3"/><circle cx="262.18" cy="101.32" r="2.3"/><circle cx="262.94" cy="101.16" r="2.3"/><circle cx="263.7" cy="101.01" r="2.3"/><circle cx="264.45" cy="100.86" r="2.3"/><circle cx="265.21" cy="100.71" r="2.3"/><circle cx="265.97" cy="100.56" r="2.3"/><circle cx="266.73" cy="100.41" r="2.3"/><circle cx="267.48" cy="100.26" r="2.3"/><circle cx="268.24" cy="100.11" r="2.3"/><circle cx="269" cy="99.95" r="2.3"/><circle cx="269.75" cy="99.8" r="2.3"/><circle cx="270.51" cy="99.65" r="2.3"/><circle cx="271.27" cy="99.5" r="2.3"/><circle cx="272.02" cy="99.35" r="2.3"/><circle cx="272.78" cy="99.15" r="2.3"/><circle cx="273.54" cy="98.91" r="2.3"/><circle cx="274.3" cy="98.67" r="2.3"/><circle cx="275.05" cy="98.42" r="2.3"/><circle cx="275.81" cy="98.18" r="2.3"/><circle cx="276.57" cy="97.94" r="2.3"/><circle cx="277.32" cy="97.7" r="2.3"/><circle cx="278.08" cy="97.45" r="2.3"/><circle cx="278.84" cy="97.21" r="2.3"/><circle cx="279.6" cy="96.97" r="2.3"/><circle cx="280.35" cy="96.73" r="2.3"/><circle cx="281.11" cy="96.49" r="2.3"/><circle cx="281.87" cy="96.24" r="2.3"/><circle cx="282.62" cy="96" r="2.3"/><circle cx="283.38" cy="95.76" r="2.3"/><circle cx="284.14" cy="95.52" r="2.3"/><circle cx="284.89" cy="95.27" r="2.3"/><circle cx="285.65" cy="95.03" r="2.3"/><circle cx="286.41" cy="94.79" r="2.3"/><circle cx="287.17" cy="94.55" r="2.3"/><circle cx="287.92" cy="94.34" r="2.3"/><circle cx="288.68" cy="94.16" r="2.3"/><circle cx="289.44" cy="93.97" r="2.3"/><circle cx="290.19" cy="93.79" r="2.3"/><circle cx="290.95" cy="93.61" r="2.3"/><circle cx="291.71" cy="93.43" r="2.3"/><circle cx="292.46" cy="93.25" r="2.3"/><circle cx="293.22" cy="93.07" r="2.3"/><circle cx="293.98" cy="92.88" r="2.3"/><circle cx="294.74" cy="92.7" r="2.3"/><circle cx="295.49" cy="92.52" r="2.3"/><circle cx="296.25" cy="92.34" r="2.3"/><circle cx="297.01" cy="92.16" r="2.3"/><circle cx="297.76" cy="91.98" r="2.3"/><circle cx="298.52" cy="91.79" r="2.3"/><circle cx="299.28" cy="91.61" r="2.3"/><circle cx="300.03" cy="91.43" r="2.3"/><circle cx="300.79" cy="91.25" r="2.3"/><circle cx="301.55" cy="91.07" r="2.3"/><circle cx="302.31" cy="90.89" r="2.3"/><circle cx="303.06" cy="90.72" r="2.3"/><circle cx="303.82" cy="90.57" r="2.3"/><circle cx="304.58" cy="90.42" r="2.3"/><circle cx="305.33" cy="90.27" r="2.3"/><circle cx="306.09" cy="90.11" r="2.3"/><circle cx="306.85" cy="89.96" r="2.3"/><circle cx="307.6" cy="89.81" r="2.3"/><circle cx="308.36" cy="89.66" r="2.3"/><circle cx="309.12" cy="89.51" r="2.3"/><circle cx="309.88" cy="89.36" r="2.3"/><circle cx="310.63" cy="89.21" r="2.3"/><circle cx="311.39" cy="89.05" r="2.3"/><circle cx="312.15" cy="88.9" r="2.3"/><circle cx="312.9" cy="88.75" r="2.3"/><circle cx="313.66" cy="88.6" r="2.3"/><circle cx="314.42" cy="88.45" r="2.3"/><circle cx="315.17" cy="88.3" r="2.3"/><circle cx="315.93" cy="88.15" r="2.3"/><circle cx="316.69" cy="87.99" r="2.3"/><circle cx="317.44" cy="87.84" r="2.3"/><circle cx="318.2" cy="87.61" r="2.3"/><circle cx="318.96" cy="87.31" r="2.3"/><circle cx="319.72" cy="87" r="2.3"/><circle cx="320.47" cy="86.7" r="2.3"/><circle cx="321.23" cy="86.4" r="2.3"/><circle cx="321.99" cy="86.1" r="2.3"/><circle cx="322.74" cy="85.79" r="2.3"/><circle cx="323.5" cy="85.49" r="2.3"/><circle cx="324.26" cy="85.19" r="2.3"/><circle cx="325.01" cy="84.89" r="2.3"/><circle cx="325.77" cy="84.58" r="2.3"/><circle cx="326.53" cy="84.28" r="2.3"/><circle cx="327.29" cy="83.98" r="2.3"/><circle cx="328.04" cy="83.67" r="2.3"/><circle cx="328.8" cy="83.37" r="2.3"/><circle cx="329.56" cy="83.07" r="2.3"/><circle cx="330.31" cy="82.77" r="2.3"/><circle cx="331.07" cy="82.46" r="2.3"/><circle cx="331.83" cy="82.16" r="2.3"/><circle cx="332.58" cy="81.86" r="2.3"/><circle cx="333.34" cy="81.6" r="2.3"/><circle cx="334.1" cy="81.37" r="2.3"/><circle cx="334.86" cy="81.14" r="2.3"/><circle cx="335.61" cy="80.91" r="2.3"/><circle cx="336.37" cy="80.69" r="2.3"/><circle cx="337.13" cy="80.46" r="2.3"/><circle cx="337.88" cy="80.23" r="2.3"/><circle cx="338.64" cy="80.01" r="2.3"/><circle cx="339.4" cy="79.78" r="2.3"/><circle cx="340.15" cy="79.55" r="2.3"/><circle cx="340.91" cy="79.32" r="2.3"/><circle cx="341.67" cy="79.1" r="2.3"/><circle cx="342.43" cy="78.87" r="2.3"/><circle cx="343.18" cy="78.64" r="2.3"/><circle cx="343.94" cy="78.42" r="2.3"/><circle cx="344.7" cy="78.19" r="2.3"/><circle cx="345.45" cy="77.96" r="2.3"/><circle cx="346.21" cy="77.73" r="2.3"/><circle cx="346.97" cy="77.51" r="2.3"/><circle cx="347.73" cy="77.28" r="2.3"/><circle cx="348.48" cy="76.86" r="2.3"/><circle cx="349.24" cy="76.3" r="2.3"/><circle cx="350" cy="75.73" r="2.3"/><circle cx="350.75" cy="75.16" r="2.3"/><circle cx="351.51" cy="74.59" r="2.3"/><circle cx="352.27" cy="74.03" r="2.3"/><circle cx="353.02" cy="73.46" r="2.3"/><circle cx="353.78" cy="72.89" r="2.3"/><circle cx="354.54" cy="72.11" r="2.3"/><circle cx="355.3" cy="71.17" r="2.3"/><circle cx="356.05" cy="70.22" r="2.3"/><circle cx="356.81" cy="69.27" r="2.3"/><circle cx="357.57" cy="68.33" r="2.3"/><circle cx="358.32" cy="67.38" r="2.3"/><circle cx="359.08" cy="66.43" r="2.3"/><circle cx="359.84" cy="65.49" r="2.3"/><circle cx="360.59" cy="64.92" r="2.3"/><circle cx="361.35" cy="64.66" r="2.3"/><circle cx="362.11" cy="64.39" r="2.3"/><circle cx="362.87" cy="64.13" r="2.3"/><circle cx="363.62" cy="63.86" r="2.3"/><circle cx="364.38" cy="63.6" r="2.3"/><circle cx="365.14" cy="63.33" r="2.3"/><circle cx="365.89" cy="63.07" r="2.3"/><circle cx="366.65" cy="62.74" r="2.3"/><circle cx="367.41" cy="62.36" r="2.3"/><circle cx="368.16" cy="61.98" r="2.3"/><circle cx="368.92" cy="61.6" r="2.3"/><circle cx="369.68" cy="61.23" r="2.3"/><circle cx="370.44" cy="60.85" r="2.3"/><circle cx="371.19" cy="60.47" r="2.3"/><circle cx="371.95" cy="60.09" r="2.3"/><circle cx="372.71" cy="59.41" r="2.3"/><circle cx="373.46" cy="58.5" r="2.3"/><circle cx="374.22" cy="57.59" r="2.3"/><circle cx="374.98" cy="56.69" r="2.3"/><circle cx="375.73" cy="55.78" r="2.3"/><circle cx="376.49" cy="54.87" r="2.3"/><circle cx="377.25" cy="53.83" r="2.3"/><circle cx="378" cy="52.7" r="2.3"/><circle cx="378.76" cy="51.56" r="2.3"/><circle cx="379.52" cy="50.42" r="2.3"/><circle cx="380.28" cy="49.59" r="2.3"/><circle cx="381.03" cy="48.99" r="2.3"/><circle cx="381.79" cy="48.38" r="2.3"/></g>
<rect x="91.4" y="22.7" width="302.6" height="397.3" fill="none" stroke="#000" stroke-width="1.4"/>
<circle cx="105.6" cy="39.6" r="3.4" fill="#000"/>
<text x="116.4" y="46.9" font-size="14.6">All mutations</text>
<circle cx="105.6" cy="64.5" r="3.4" fill="#5F9EA0"/>
<text x="116.4" y="71.8" font-size="14.6">Coding SNVs</text>
<circle cx="105.6" cy="89.6" r="3.4" fill="#8B668B"/>
<text x="116.4" y="96.9" font-size="14.6">Coding indels</text>
<rect x="652.9" y="52.3" width="90.7" height="11.3" fill="#26A0C8"/>
<text x="696.6" y="43.2" font-size="14.6" text-anchor="middle">C&gt;A</text>
<rect x="743.3" y="52.3" width="90.7" height="11.3" fill="#1C1C1C"/>
<text x="787" y="43.2" font-size="14.6" text-anchor="middle">C&gt;G</text>
<rect x="833.7" y="52.3" width="90.7" height="11.3" fill="#CD5C5C"/>
<text x="877.4" y="43.2" font-size="14.6" text-anchor="middle">C&gt;T</text>
<rect x="924.1" y="52.3" width="90.7" height="11.3" fill="#B2B5B4"/>
<text x="967.8" y="43.2" font-size="14.6" text-anchor="middle">T&gt;A</text>
<rect x="1014.5" y="52.3" width="90.7" height="11.3" fill="#97C33F"/>
<text x="1058.2" y="43.2" font-size="14.6" text-anchor="middle">T&gt;C</text>
<rect x="1104.9" y="52.3" width="90.7" height="11.3" fill="#D7BDD7"/>
<text x="1148.6" y="43.2" font-size="14.6" text-anchor="middle">T&gt;G</text>
<rect x="652.9" y="169.1" width="5.1" height="18.1" fill="#26A0C8"/><rect x="658.55" y="177.73" width="5.1" height="9.47" fill="#26A0C8"/><rect x="664.2" y="184.97" width="5.1" height="2.23" fill="#26A0C8"/><rect x="669.85" y="177.73" width="5.1" height="9.47" fill="#26A0C8"/><rect x="675.5" y="167.72" width="5.1" height="19.48" fill="#26A0C8"/><rect x="681.15" y="179.8" width="5.1" height="7.4" fill="#26A0C8"/><rect x="686.8" y="184.97" width="5.1" height="2.23" fill="#26A0C8"/><rect x="692.45" y="176.35" width="5.1" height="10.85" fill="#26A0C8"/><rect x="698.1" y="175.66" width="5.1" height="11.54" fill="#26A0C8"/><rect x="703.75" y="181.87" width="5.1" height="5.33" fill="#26A0C8"/><rect x="709.4" y="185.66" width="5.1" height="1.54" fill="#26A0C8"/><rect x="715.05" y="180.49" width="5.1" height="6.71" fill="#26A0C8"/><rect x="720.7" y="181.18" width="5.1" height="6.02" fill="#26A0C8"/><rect x="726.35" y="181.52" width="5.1" height="5.68" fill="#26A0C8"/><rect x="732" y="185.66" width="5.1" height="1.54" fill="#26A0C8"/><rect x="737.65" y="180.14" width="5.1" height="7.06" fill="#26A0C8"/><rect x="743.3" y="168.76" width="5.1" height="18.44" fill="#1C1C1C"/><rect x="748.95" y="181.87" width="5.1" height="5.33" fill="#1C1C1C"/><rect x="754.6" y="184.97" width="5.1" height="2.23" fill="#1C1C1C"/><rect x="760.25" y="177.04" width="5.1" height="10.16" fill="#1C1C1C"/><rect x="765.9" y="179.11" width="5.1" height="8.09" fill="#1C1C1C"/><rect x="771.55" y="181.18" width="5.1" height="6.02" fill="#1C1C1C"/><rect x="777.2" y="185.32" width="5.1" height="1.88" fill="#1C1C1C"/><rect x="782.85" y="179.11" width="5.1" height="8.09" fill="#1C1C1C"/><rect x="788.5" y="180.83" width="5.1" height="6.37" fill="#1C1C1C"/><rect x="794.15" y="182.9" width="5.1" height="4.3" fill="#1C1C1C"/><rect x="799.8" y="186.01" width="5.1" height="1.19" fill="#1C1C1C"/><rect x="805.45" y="181.87" width="5.1" height="5.33" fill="#1C1C1C"/><rect x="811.1" y="181.87" width="5.1" height="5.33" fill="#1C1C1C"/><rect x="816.75" y="180.49" width="5.1" height="6.71" fill="#1C1C1C"/><rect x="822.4" y="186.01" width="5.1" height="1.19" fill="#1C1C1C"/><rect x="828.05" y="177.04" width="5.1" height="10.16" fill="#1C1C1C"/><rect x="833.7" y="128.73" width="5.1" height="58.47" fill="#CD5C5C"/><rect x="839.35" y="154.26" width="5.1" height="32.94" fill="#CD5C5C"/><rect x="845" y="103.19" width="5.1" height="84.01" fill="#CD5C5C"/><rect x="850.65" y="144.6" width="5.1" height="42.6" fill="#CD5C5C"/><rect x="856.3" y="152.88" width="5.1" height="34.32" fill="#CD5C5C"/><rect x="861.95" y="154.95" width="5.1" height="32.25" fill="#CD5C5C"/><rect x="867.6" y="147.02" width="5.1" height="40.18" fill="#CD5C5C"/><rect x="873.25" y="121.83" width="5.1" height="65.37" fill="#CD5C5C"/><rect x="878.9" y="163.24" width="5.1" height="23.96" fill="#CD5C5C"/><rect x="884.55" y="155.64" width="5.1" height="31.56" fill="#CD5C5C"/><rect x="890.2" y="146.67" width="5.1" height="40.53" fill="#CD5C5C"/><rect x="895.85" y="139.08" width="5.1" height="48.12" fill="#CD5C5C"/><rect x="901.5" y="168.07" width="5.1" height="19.13" fill="#CD5C5C"/><rect x="907.15" y="163.93" width="5.1" height="23.27" fill="#CD5C5C"/><rect x="912.8" y="160.13" width="5.1" height="27.07" fill="#CD5C5C"/><rect x="918.45" y="160.82" width="5.1" height="26.38" fill="#CD5C5C"/><rect x="924.1" y="179.11" width="5.1" height="8.09" fill="#B2B5B4"/><rect x="929.75" y="177.73" width="5.1" height="9.47" fill="#B2B5B4"/><rect x="935.4" y="178.42" width="5.1" height="8.78" fill="#B2B5B4"/><rect x="941.05" y="179.11" width="5.1" height="8.09" fill="#B2B5B4"/><rect x="946.7" y="182.21" width="5.1" height="4.99" fill="#B2B5B4"/><rect x="952.35" y="181.52" width="5.1" height="5.68" fill="#B2B5B4"/><rect x="958" y="179.8" width="5.1" height="7.4" fill="#B2B5B4"/><rect x="963.65" y="180.83" width="5.1" height="6.37" fill="#B2B5B4"/><rect x="969.3" y="183.59" width="5.1" height="3.61" fill="#B2B5B4"/><rect x="974.95" y="183.59" width="5.1" height="3.61" fill="#B2B5B4"/><rect x="980.6" y="182.9" width="5.1" height="4.3" fill="#B2B5B4"/><rect x="986.25" y="182.21" width="5.1" height="4.99" fill="#B2B5B4"/><rect x="991.9" y="182.21" width="5.1" height="4.99" fill="#B2B5B4"/><rect x="997.55" y="182.56" width="5.1" height="4.64" fill="#B2B5B4"/><rect x="1003.2" y="183.25" width="5.1" height="3.95" fill="#B2B5B4"/><rect x="1008.85" y="178.76" width="5.1" height="8.44" fill="#B2B5B4"/><rect x="1014.5" y="156.68" width="5.1" height="30.52" fill="#97C33F"/><rect x="1020.15" y="177.73" width="5.1" height="9.47" fill="#97C33F"/><rect x="1025.8" y="161.17" width="5.1" height="26.03" fill="#97C33F"/><rect x="1031.45" y="154.26" width="5.1" height="32.94" fill="#97C33F"/><rect x="1037.1" y="177.73" width="5.1" height="9.47" fill="#97C33F"/><rect x="1042.75" y="179.11" width="5.1" height="8.09" fill="#97C33F"/><rect x="1048.4" y="175.66" width="5.1" height="11.54" fill="#97C33F"/><rect x="1054.05" y="176.35" width="5.1" height="10.85" fill="#97C33F"/><rect x="1059.7" y="177.73" width="5.1" height="9.47" fill="#97C33F"/><rect x="1065.35" y="181.18" width="5.1" height="6.02" fill="#97C33F"/><rect x="1071" y="179.11" width="5.1" height="8.09" fill="#97C33F"/><rect x="1076.65" y="173.59" width="5.1" height="13.61" fill="#97C33F"/><rect x="1082.3" y="175.31" width="5.1" height="11.89" fill="#97C33F"/><rect x="1087.95" y="179.45" width="5.1" height="7.75" fill="#97C33F"/><rect x="1093.6" y="179.11" width="5.1" height="8.09" fill="#97C33F"/><rect x="1099.25" y="169.1" width="5.1" height="18.1" fill="#97C33F"/><rect x="1104.9" y="183.94" width="5.1" height="3.26" fill="#D7BDD7"/><rect x="1110.55" y="185.66" width="5.1" height="1.54" fill="#D7BDD7"/><rect x="1116.2" y="182.21" width="5.1" height="4.99" fill="#D7BDD7"/><rect x="1121.85" y="183.25" width="5.1" height="3.95" fill="#D7BDD7"/><rect x="1127.5" y="185.66" width="5.1" height="1.54" fill="#D7BDD7"/><rect x="1133.15" y="184.97" width="5.1" height="2.23" fill="#D7BDD7"/><rect x="1138.8" y="183.25" width="5.1" height="3.95" fill="#D7BDD7"/><rect x="1144.45" y="183.25" width="5.1" height="3.95" fill="#D7BDD7"/><rect x="1150.1" y="186.01" width="5.1" height="1.19" fill="#D7BDD7"/><rect x="1155.75" y="186.01" width="5.1" height="1.19" fill="#D7BDD7"/><rect x="1161.4" y="184.28" width="5.1" height="2.92" fill="#D7BDD7"/><rect x="1167.05" y="184.97" width="5.1" height="2.23" fill="#D7BDD7"/><rect x="1172.7" y="183.59" width="5.1" height="3.61" fill="#D7BDD7"/><rect x="1178.35" y="184.63" width="5.1" height="2.57" fill="#D7BDD7"/><rect x="1184" y="183.25" width="5.1" height="3.95" fill="#D7BDD7"/><rect x="1189.65" y="180.83" width="5.1" height="6.37" fill="#D7BDD7"/>
<rect x="652.9" y="351.71" width="5.1" height="21.89" fill="#26A0C8"/><rect x="658.55" y="358.26" width="5.1" height="15.34" fill="#26A0C8"/><rect x="664.2" y="369.99" width="5.1" height="3.61" fill="#26A0C8"/><rect x="669.85" y="359.99" width="5.1" height="13.61" fill="#26A0C8"/><rect x="675.5" y="356.54" width="5.1" height="17.06" fill="#26A0C8"/><rect x="681.15" y="363.44" width="5.1" height="10.16" fill="#26A0C8"/><rect x="686.8" y="370.34" width="5.1" height="3.26" fill="#26A0C8"/><rect x="692.45" y="359.99" width="5.1" height="13.61" fill="#26A0C8"/><rect x="698.1" y="361.37" width="5.1" height="12.23" fill="#26A0C8"/><rect x="703.75" y="365.16" width="5.1" height="8.44" fill="#26A0C8"/><rect x="709.4" y="371.37" width="5.1" height="2.23" fill="#26A0C8"/><rect x="715.05" y="363.78" width="5.1" height="9.82" fill="#26A0C8"/><rect x="720.7" y="362.4" width="5.1" height="11.2" fill="#26A0C8"/><rect x="726.35" y="361.71" width="5.1" height="11.89" fill="#26A0C8"/><rect x="732" y="371.37" width="5.1" height="2.23" fill="#26A0C8"/><rect x="737.65" y="361.37" width="5.1" height="12.23" fill="#26A0C8"/><rect x="743.3" y="354.47" width="5.1" height="19.13" fill="#1C1C1C"/><rect x="748.95" y="367.23" width="5.1" height="6.37" fill="#1C1C1C"/><rect x="754.6" y="370.68" width="5.1" height="2.92" fill="#1C1C1C"/><rect x="760.25" y="362.75" width="5.1" height="10.85" fill="#1C1C1C"/><rect x="765.9" y="363.44" width="5.1" height="10.16" fill="#1C1C1C"/><rect x="771.55" y="363.78" width="5.1" height="9.82" fill="#1C1C1C"/><rect x="777.2" y="371.37" width="5.1" height="2.23" fill="#1C1C1C"/><rect x="782.85" y="359.3" width="5.1" height="14.3" fill="#1C1C1C"/><rect x="788.5" y="365.51" width="5.1" height="8.09" fill="#1C1C1C"/><rect x="794.15" y="366.2" width="5.1" height="7.4" fill="#1C1C1C"/><rect x="799.8" y="371.72" width="5.1" height="1.88" fill="#1C1C1C"/><rect x="805.45" y="366.2" width="5.1" height="7.4" fill="#1C1C1C"/><rect x="811.1" y="362.75" width="5.1" height="10.85" fill="#1C1C1C"/><rect x="816.75" y="361.37" width="5.1" height="12.23" fill="#1C1C1C"/><rect x="822.4" y="371.72" width="5.1" height="1.88" fill="#1C1C1C"/><rect x="828.05" y="349.29" width="5.1" height="24.31" fill="#1C1C1C"/><rect x="833.7" y="306.5" width="5.1" height="67.1" fill="#CD5C5C"/><rect x="839.35" y="338.59" width="5.1" height="35.01" fill="#CD5C5C"/><rect x="845" y="289.94" width="5.1" height="83.66" fill="#CD5C5C"/><rect x="850.65" y="335.83" width="5.1" height="37.77" fill="#CD5C5C"/><rect x="856.3" y="339.28" width="5.1" height="34.32" fill="#CD5C5C"/><rect x="861.95" y="338.59" width="5.1" height="35.01" fill="#CD5C5C"/><rect x="867.6" y="334.8" width="5.1" height="38.8" fill="#CD5C5C"/><rect x="873.25" y="327.21" width="5.1" height="46.39" fill="#CD5C5C"/><rect x="878.9" y="348.95" width="5.1" height="24.65" fill="#CD5C5C"/><rect x="884.55" y="344.8" width="5.1" height="28.8" fill="#CD5C5C"/><rect x="890.2" y="332.04" width="5.1" height="41.56" fill="#CD5C5C"/><rect x="895.85" y="341.35" width="5.1" height="32.25" fill="#CD5C5C"/><rect x="901.5" y="343.08" width="5.1" height="30.52" fill="#CD5C5C"/><rect x="907.15" y="333.42" width="5.1" height="40.18" fill="#CD5C5C"/><rect x="912.8" y="343.77" width="5.1" height="29.83" fill="#CD5C5C"/><rect x="918.45" y="339.97" width="5.1" height="33.63" fill="#CD5C5C"/><rect x="924.1" y="361.71" width="5.1" height="11.89" fill="#B2B5B4"/><rect x="929.75" y="361.37" width="5.1" height="12.23" fill="#B2B5B4"/><rect x="935.4" y="361.71" width="5.1" height="11.89" fill="#B2B5B4"/><rect x="941.05" y="361.37" width="5.1" height="12.23" fill="#B2B5B4"/><rect x="946.7" y="367.58" width="5.1" height="6.02" fill="#B2B5B4"/><rect x="952.35" y="366.2" width="5.1" height="7.4" fill="#B2B5B4"/><rect x="958" y="364.13" width="5.1" height="9.47" fill="#B2B5B4"/><rect x="963.65" y="363.44" width="5.1" height="10.16" fill="#B2B5B4"/><rect x="969.3" y="369.3" width="5.1" height="4.3" fill="#B2B5B4"/><rect x="974.95" y="368.61" width="5.1" height="4.99" fill="#B2B5B4"/><rect x="980.6" y="368.27" width="5.1" height="5.33" fill="#B2B5B4"/><rect x="986.25" y="366.2" width="5.1" height="7.4" fill="#B2B5B4"/><rect x="991.9" y="365.51" width="5.1" height="8.09" fill="#B2B5B4"/><rect x="997.55" y="367.23" width="5.1" height="6.37" fill="#B2B5B4"/><rect x="1003.2" y="368.96" width="5.1" height="4.64" fill="#B2B5B4"/><rect x="1008.85" y="360.33" width="5.1" height="13.27" fill="#B2B5B4"/><rect x="1014.5" y="312.37" width="5.1" height="61.23" fill="#97C33F"/><rect x="1020.15" y="356.88" width="5.1" height="16.72" fill="#97C33F"/><rect x="1025.8" y="334.11" width="5.1" height="39.49" fill="#97C33F"/><rect x="1031.45" y="299.26" width="5.1" height="74.34" fill="#97C33F"/><rect x="1037.1" y="357.23" width="5.1" height="16.37" fill="#97C33F"/><rect x="1042.75" y="359.99" width="5.1" height="13.61" fill="#97C33F"/><rect x="1048.4" y="353.43" width="5.1" height="20.17" fill="#97C33F"/><rect x="1054.05" y="352.74" width="5.1" height="20.86" fill="#97C33F"/><rect x="1059.7" y="355.85" width="5.1" height="17.75" fill="#97C33F"/><rect x="1065.35" y="363.09" width="5.1" height="10.51" fill="#97C33F"/><rect x="1071" y="358.26" width="5.1" height="15.34" fill="#97C33F"/><rect x="1076.65" y="346.18" width="5.1" height="27.42" fill="#97C33F"/><rect x="1082.3" y="351.71" width="5.1" height="21.89" fill="#97C33F"/><rect x="1087.95" y="362.06" width="5.1" height="11.54" fill="#97C33F"/><rect x="1093.6" y="359.99" width="5.1" height="13.61" fill="#97C33F"/><rect x="1099.25" y="342.39" width="5.1" height="31.21" fill="#97C33F"/><rect x="1104.9" y="365.51" width="5.1" height="8.09" fill="#D7BDD7"/><rect x="1110.55" y="369.99" width="5.1" height="3.61" fill="#D7BDD7"/><rect x="1116.2" y="366.89" width="5.1" height="6.71" fill="#D7BDD7"/><rect x="1121.85" y="363.44" width="5.1" height="10.16" fill="#D7BDD7"/><rect x="1127.5" y="369.65" width="5.1" height="3.95" fill="#D7BDD7"/><rect x="1133.15" y="365.16" width="5.1" height="8.44" fill="#D7BDD7"/><rect x="1138.8" y="365.51" width="5.1" height="8.09" fill="#D7BDD7"/><rect x="1144.45" y="358.61" width="5.1" height="14.99" fill="#D7BDD7"/><rect x="1150.1" y="370.34" width="5.1" height="3.26" fill="#D7BDD7"/><rect x="1155.75" y="370.68" width="5.1" height="2.92" fill="#D7BDD7"/><rect x="1161.4" y="366.54" width="5.1" height="7.06" fill="#D7BDD7"/><rect x="1167.05" y="366.54" width="5.1" height="7.06" fill="#D7BDD7"/><rect x="1172.7" y="365.16" width="5.1" height="8.44" fill="#D7BDD7"/><rect x="1178.35" y="367.92" width="5.1" height="5.68" fill="#D7BDD7"/><rect x="1184" y="366.54" width="5.1" height="7.06" fill="#D7BDD7"/><rect x="1189.65" y="355.16" width="5.1" height="18.44" fill="#D7BDD7"/>
<line x1="639.5" y1="103" x2="639.5" y2="187" stroke="#111" stroke-width="1.3"/>
<line x1="632.6" y1="103" x2="639.5" y2="103" stroke="#111" stroke-width="1.3"/>
<text x="622.8" y="109.4" font-size="14.6" text-anchor="end">80000</text>
<line x1="632.6" y1="145" x2="639.5" y2="145" stroke="#111" stroke-width="1.3"/>
<text x="622.8" y="151.4" font-size="14.6" text-anchor="end">40000</text>
<line x1="632.6" y1="187" x2="639.5" y2="187" stroke="#111" stroke-width="1.3"/>
<text x="622.8" y="193.4" font-size="14.6" text-anchor="end">0</text>
<line x1="639.5" y1="256.5" x2="639.5" y2="373.4" stroke="#111" stroke-width="1.3"/>
<line x1="632.6" y1="373.4" x2="639.5" y2="373.4" stroke="#111" stroke-width="1.3"/>
<text x="622.8" y="379.8" font-size="14.6" text-anchor="end">0</text>
<line x1="632.6" y1="334.45" x2="639.5" y2="334.45" stroke="#111" stroke-width="1.3"/>
<text x="622.8" y="340.85" font-size="14.6" text-anchor="end">1000</text>
<line x1="632.6" y1="295.5" x2="639.5" y2="295.5" stroke="#111" stroke-width="1.3"/>
<text x="622.8" y="301.9" font-size="14.6" text-anchor="end">2000</text>
<line x1="632.6" y1="256.55" x2="639.5" y2="256.55" stroke="#111" stroke-width="1.3"/>
<text x="622.8" y="262.95" font-size="14.6" text-anchor="end">3000</text>
<text font-size="14.6" text-anchor="middle" transform="translate(541 138.7) rotate(-90)">Mutation</text>
<text font-size="14.6" text-anchor="middle" transform="translate(558.6 138.3) rotate(-90)">counts</text>
<text font-size="14.6" text-anchor="middle" transform="translate(541 307.5) rotate(-90)">Corrected</text>
<text font-size="14.6" text-anchor="middle" transform="translate(558.6 307.5) rotate(-90)">mutation counts</text>
<text x="653.2" y="105" font-size="14.6">Adult HSPC</text>
<text x="653.2" y="121.4" font-size="14.6">colonies</text>
<text x="653.2" y="250.3" font-size="14.6">Targeted NanoSeq</text>
<text x="653.2" y="266.7" font-size="14.6">Cos. similarity = 0.94</text>
<rect x="1428.5" y="37.2" width="11.3" height="336.1" fill="#999999"/>
<rect x="1477.1" y="369.7" width="11.24" height="3.6" fill="#999999"/>
<rect x="1488.49" y="334" width="11.24" height="39.3" fill="#999999"/>
<rect x="1499.88" y="290.3" width="11.24" height="83" fill="#999999"/>
<rect x="1511.27" y="308" width="11.24" height="65.3" fill="#999999"/>
<rect x="1522.66" y="329.1" width="11.24" height="44.2" fill="#999999"/>
<rect x="1534.05" y="353" width="11.24" height="20.3" fill="#999999"/>
<rect x="1545.44" y="363.7" width="11.24" height="9.6" fill="#999999"/>
<rect x="1556.83" y="369.1" width="11.24" height="4.2" fill="#999999"/>
<rect x="1568.22" y="371.3" width="11.24" height="2" fill="#999999"/>
<rect x="1579.61" y="372.3" width="11.24" height="1" fill="#999999"/>
<rect x="1591" y="372.7" width="11.24" height="0.6" fill="#999999"/>
<rect x="1602.39" y="372.8" width="11.24" height="0.5" fill="#999999"/>
<rect x="1613.78" y="372.9" width="11.24" height="0.4" fill="#999999"/>
<rect x="1625.17" y="372.9" width="11.24" height="0.4" fill="#999999"/>
<rect x="1636.56" y="372.9" width="11.24" height="0.4" fill="#999999"/>
<line x1="1416.2" y1="78.6" x2="1416.2" y2="373.3" stroke="#111" stroke-width="1.3"/>
<line x1="1405" y1="373.3" x2="1416.2" y2="373.3" stroke="#111" stroke-width="1.3"/>
<text x="1394.3" y="383.45" font-size="14.6" text-anchor="end">0</text>
<line x1="1405" y1="314.36" x2="1416.2" y2="314.36" stroke="#111" stroke-width="1.3"/>
<text x="1394.3" y="323.25" font-size="14.6" text-anchor="end">20k</text>
<line x1="1405" y1="255.42" x2="1416.2" y2="255.42" stroke="#111" stroke-width="1.3"/>
<text x="1394.3" y="263.05" font-size="14.6" text-anchor="end">40k</text>
<line x1="1405" y1="196.48" x2="1416.2" y2="196.48" stroke="#111" stroke-width="1.3"/>
<text x="1394.3" y="202.85" font-size="14.6" text-anchor="end">60k</text>
<line x1="1405" y1="137.54" x2="1416.2" y2="137.54" stroke="#111" stroke-width="1.3"/>
<text x="1394.3" y="142.65" font-size="14.6" text-anchor="end">80k</text>
<line x1="1405" y1="78.6" x2="1416.2" y2="78.6" stroke="#111" stroke-width="1.3"/>
<text x="1394.3" y="82.45" font-size="14.6" text-anchor="end">100k</text>
<line x1="1477.1" y1="386.8" x2="1647.9" y2="386.8" stroke="#111" stroke-width="1.3"/>
<line x1="1477.1" y1="386.8" x2="1477.1" y2="398.2" stroke="#111" stroke-width="1.3"/>
<text x="1477.1" y="428" font-size="14.6" text-anchor="middle">0.01</text>
<line x1="1533.9" y1="386.8" x2="1533.9" y2="398.2" stroke="#111" stroke-width="1.3"/>
<text x="1533.9" y="428" font-size="14.6" text-anchor="middle">0.1</text>
<line x1="1590.9" y1="386.8" x2="1590.9" y2="398.2" stroke="#111" stroke-width="1.3"/>
<text x="1590.9" y="428" font-size="14.6" text-anchor="middle">1</text>
<line x1="1647.9" y1="386.8" x2="1647.9" y2="398.2" stroke="#111" stroke-width="1.3"/>
<text x="1647.9" y="428" font-size="14.6" text-anchor="middle">10</text>
<line x1="1433.4" y1="386.8" x2="1433.4" y2="398.2" stroke="#111" stroke-width="1.3"/>
<text x="1432" y="430.7" font-size="14.6" text-anchor="middle">0</text>
<text x="1562" y="470.3" font-size="14.6" text-anchor="middle">Unbiased % VAF</text>
<text x="1562" y="488.5" font-size="14.6" text-anchor="middle">(log-scale)</text>
<text font-size="14.6" text-anchor="middle" transform="translate(1345 226.5) rotate(-90)">Number of mutations (≥2000x)</text>
<line x1="90.8" y1="859" x2="398.7" y2="560.5" stroke="#5F9EA0" stroke-width="1"/>
<g fill="none" stroke="#000" stroke-width="1.35"><circle cx="125.37" cy="840.7" r="2.15"/><circle cx="129.28" cy="829.32" r="2.15"/><circle cx="133.2" cy="825.52" r="2.15"/><circle cx="137.12" cy="829.32" r="2.15"/><circle cx="144.95" cy="829.32" r="2.15"/><circle cx="144.95" cy="814.13" r="2.15"/><circle cx="148.87" cy="817.93" r="2.15"/><circle cx="152.79" cy="825.52" r="2.15"/><circle cx="152.79" cy="821.73" r="2.15"/><circle cx="152.79" cy="814.13" r="2.15"/><circle cx="156.7" cy="802.75" r="2.15"/><circle cx="156.7" cy="795.16" r="2.15"/><circle cx="164.54" cy="806.55" r="2.15"/><circle cx="164.54" cy="791.37" r="2.15"/><circle cx="168.45" cy="791.37" r="2.15"/><circle cx="176.29" cy="787.57" r="2.15"/><circle cx="176.29" cy="783.78" r="2.15"/><circle cx="180.21" cy="802.75" r="2.15"/><circle cx="180.21" cy="798.96" r="2.15"/><circle cx="188.04" cy="772.39" r="2.15"/><circle cx="191.96" cy="761.01" r="2.15"/><circle cx="195.87" cy="768.6" r="2.15"/><circle cx="203.71" cy="768.6" r="2.15"/><circle cx="203.71" cy="764.8" r="2.15"/><circle cx="207.62" cy="749.62" r="2.15"/><circle cx="211.54" cy="757.21" r="2.15"/><circle cx="215.46" cy="764.8" r="2.15"/><circle cx="215.46" cy="761.01" r="2.15"/><circle cx="215.46" cy="753.42" r="2.15"/><circle cx="215.46" cy="749.62" r="2.15"/><circle cx="219.38" cy="757.21" r="2.15"/><circle cx="223.29" cy="764.8" r="2.15"/><circle cx="223.29" cy="757.21" r="2.15"/><circle cx="227.21" cy="753.42" r="2.15"/><circle cx="227.21" cy="738.24" r="2.15"/><circle cx="231.13" cy="726.85" r="2.15"/><circle cx="235.04" cy="749.62" r="2.15"/><circle cx="235.04" cy="734.44" r="2.15"/><circle cx="238.96" cy="742.03" r="2.15"/><circle cx="238.96" cy="723.06" r="2.15"/><circle cx="242.88" cy="745.83" r="2.15"/><circle cx="242.88" cy="734.44" r="2.15"/><circle cx="242.88" cy="730.65" r="2.15"/><circle cx="246.8" cy="738.24" r="2.15"/><circle cx="246.8" cy="730.65" r="2.15"/><circle cx="246.8" cy="719.26" r="2.15"/><circle cx="246.8" cy="707.88" r="2.15"/><circle cx="250.71" cy="730.65" r="2.15"/><circle cx="250.71" cy="715.47" r="2.15"/><circle cx="254.63" cy="726.85" r="2.15"/><circle cx="254.63" cy="723.06" r="2.15"/><circle cx="254.63" cy="719.26" r="2.15"/><circle cx="254.63" cy="715.47" r="2.15"/><circle cx="258.55" cy="715.47" r="2.15"/><circle cx="258.55" cy="711.67" r="2.15"/><circle cx="262.46" cy="715.47" r="2.15"/><circle cx="262.46" cy="711.67" r="2.15"/><circle cx="262.46" cy="704.08" r="2.15"/><circle cx="262.46" cy="692.7" r="2.15"/><circle cx="266.38" cy="719.26" r="2.15"/><circle cx="266.38" cy="688.9" r="2.15"/><circle cx="270.3" cy="707.88" r="2.15"/><circle cx="270.3" cy="700.29" r="2.15"/><circle cx="270.3" cy="688.9" r="2.15"/><circle cx="270.3" cy="685.11" r="2.15"/><circle cx="274.21" cy="711.67" r="2.15"/><circle cx="274.21" cy="696.49" r="2.15"/><circle cx="274.21" cy="692.7" r="2.15"/><circle cx="274.21" cy="685.11" r="2.15"/><circle cx="278.13" cy="711.67" r="2.15"/><circle cx="278.13" cy="692.7" r="2.15"/><circle cx="278.13" cy="681.31" r="2.15"/><circle cx="278.13" cy="677.52" r="2.15"/><circle cx="282.05" cy="707.88" r="2.15"/><circle cx="282.05" cy="704.08" r="2.15"/><circle cx="282.05" cy="692.7" r="2.15"/><circle cx="282.05" cy="685.11" r="2.15"/><circle cx="282.05" cy="681.31" r="2.15"/><circle cx="282.05" cy="677.52" r="2.15"/><circle cx="282.05" cy="673.72" r="2.15"/><circle cx="285.96" cy="704.08" r="2.15"/><circle cx="285.96" cy="700.29" r="2.15"/><circle cx="289.88" cy="704.08" r="2.15"/><circle cx="289.88" cy="696.49" r="2.15"/><circle cx="289.88" cy="692.7" r="2.15"/><circle cx="289.88" cy="688.9" r="2.15"/><circle cx="289.88" cy="681.31" r="2.15"/><circle cx="289.88" cy="669.93" r="2.15"/><circle cx="293.8" cy="696.49" r="2.15"/><circle cx="293.8" cy="692.7" r="2.15"/><circle cx="293.8" cy="688.9" r="2.15"/><circle cx="293.8" cy="685.11" r="2.15"/><circle cx="293.8" cy="681.31" r="2.15"/><circle cx="293.8" cy="677.52" r="2.15"/><circle cx="293.8" cy="673.72" r="2.15"/><circle cx="293.8" cy="669.93" r="2.15"/><circle cx="293.8" cy="662.34" r="2.15"/><circle cx="297.72" cy="696.49" r="2.15"/><circle cx="297.72" cy="688.9" r="2.15"/><circle cx="297.72" cy="681.31" r="2.15"/><circle cx="297.72" cy="673.72" r="2.15"/><circle cx="297.72" cy="669.93" r="2.15"/><circle cx="301.63" cy="677.52" r="2.15"/><circle cx="301.63" cy="673.72" r="2.15"/><circle cx="305.55" cy="681.31" r="2.15"/><circle cx="305.55" cy="669.93" r="2.15"/><circle cx="305.55" cy="650.95" r="2.15"/><circle cx="309.47" cy="677.52" r="2.15"/><circle cx="309.47" cy="666.13" r="2.15"/><circle cx="309.47" cy="658.54" r="2.15"/><circle cx="313.38" cy="673.72" r="2.15"/><circle cx="313.38" cy="666.13" r="2.15"/><circle cx="313.38" cy="662.34" r="2.15"/><circle cx="313.38" cy="643.36" r="2.15"/><circle cx="317.3" cy="673.72" r="2.15"/><circle cx="317.3" cy="666.13" r="2.15"/><circle cx="317.3" cy="662.34" r="2.15"/><circle cx="317.3" cy="658.54" r="2.15"/><circle cx="317.3" cy="654.75" r="2.15"/><circle cx="317.3" cy="650.95" r="2.15"/><circle cx="317.3" cy="647.16" r="2.15"/><circle cx="317.3" cy="639.57" r="2.15"/><circle cx="321.22" cy="658.54" r="2.15"/><circle cx="321.22" cy="647.16" r="2.15"/><circle cx="321.22" cy="635.77" r="2.15"/><circle cx="325.13" cy="662.34" r="2.15"/><circle cx="325.13" cy="650.95" r="2.15"/><circle cx="325.13" cy="643.36" r="2.15"/><circle cx="325.13" cy="635.77" r="2.15"/><circle cx="325.13" cy="631.98" r="2.15"/><circle cx="329.05" cy="662.34" r="2.15"/><circle cx="329.05" cy="658.54" r="2.15"/><circle cx="329.05" cy="654.75" r="2.15"/><circle cx="329.05" cy="650.95" r="2.15"/><circle cx="329.05" cy="647.16" r="2.15"/><circle cx="329.05" cy="643.36" r="2.15"/><circle cx="329.05" cy="639.57" r="2.15"/><circle cx="329.05" cy="635.77" r="2.15"/><circle cx="329.05" cy="631.98" r="2.15"/><circle cx="332.97" cy="658.54" r="2.15"/><circle cx="332.97" cy="654.75" r="2.15"/><circle cx="332.97" cy="650.95" r="2.15"/><circle cx="332.97" cy="647.16" r="2.15"/><circle cx="332.97" cy="643.36" r="2.15"/><circle cx="332.97" cy="639.57" r="2.15"/><circle cx="332.97" cy="628.18" r="2.15"/><circle cx="336.89" cy="650.95" r="2.15"/><circle cx="336.89" cy="647.16" r="2.15"/><circle cx="336.89" cy="643.36" r="2.15"/><circle cx="336.89" cy="635.77" r="2.15"/><circle cx="336.89" cy="624.38" r="2.15"/><circle cx="340.8" cy="639.57" r="2.15"/><circle cx="340.8" cy="631.98" r="2.15"/><circle cx="340.8" cy="620.59" r="2.15"/><circle cx="344.72" cy="647.16" r="2.15"/><circle cx="344.72" cy="643.36" r="2.15"/><circle cx="344.72" cy="631.98" r="2.15"/><circle cx="344.72" cy="628.18" r="2.15"/><circle cx="348.64" cy="643.36" r="2.15"/><circle cx="348.64" cy="639.57" r="2.15"/><circle cx="348.64" cy="613" r="2.15"/><circle cx="348.64" cy="609.21" r="2.15"/><circle cx="352.55" cy="631.98" r="2.15"/><circle cx="356.47" cy="620.59" r="2.15"/><circle cx="356.47" cy="613" r="2.15"/><circle cx="360.39" cy="609.21" r="2.15"/><circle cx="364.31" cy="605.41" r="2.15"/><circle cx="368.22" cy="620.59" r="2.15"/><circle cx="368.22" cy="616.8" r="2.15"/><circle cx="368.22" cy="601.62" r="2.15"/><circle cx="372.14" cy="597.82" r="2.15"/><circle cx="376.06" cy="601.62" r="2.15"/></g>
<rect x="90.8" y="560.5" width="307.9" height="298.5" fill="none" stroke="#000" stroke-width="1.4"/>
<line x1="109.7" y1="859" x2="109.7" y2="865" stroke="#000" stroke-width="1.3"/>
<text x="109.7" y="884" font-size="14.6" text-anchor="middle">20</text>
<line x1="84.8" y1="840.7" x2="90.8" y2="840.7" stroke="#000" stroke-width="1.3"/>
<text font-size="14.6" text-anchor="middle" transform="translate(77.5 841.9) rotate(-90)">20</text>
<line x1="188.04" y1="859" x2="188.04" y2="865" stroke="#000" stroke-width="1.3"/>
<text x="188.04" y="884" font-size="14.6" text-anchor="middle">40</text>
<line x1="84.8" y1="764.8" x2="90.8" y2="764.8" stroke="#000" stroke-width="1.3"/>
<text font-size="14.6" text-anchor="middle" transform="translate(77.5 766) rotate(-90)">40</text>
<line x1="266.38" y1="859" x2="266.38" y2="865" stroke="#000" stroke-width="1.3"/>
<text x="266.38" y="884" font-size="14.6" text-anchor="middle">60</text>
<line x1="84.8" y1="688.9" x2="90.8" y2="688.9" stroke="#000" stroke-width="1.3"/>
<text font-size="14.6" text-anchor="middle" transform="translate(77.5 690.1) rotate(-90)">60</text>
<line x1="344.72" y1="859" x2="344.72" y2="865" stroke="#000" stroke-width="1.3"/>
<text x="344.72" y="884" font-size="14.6" text-anchor="middle">80</text>
<line x1="84.8" y1="613" x2="90.8" y2="613" stroke="#000" stroke-width="1.3"/>
<text font-size="14.6" text-anchor="middle" transform="translate(77.5 614.2) rotate(-90)">80</text>
<text x="227.5" y="913.3" font-size="14.6" text-anchor="middle">Donor age (buccal swab)</text>
<text font-size="14.6" text-anchor="middle" transform="translate(48 710.5) rotate(-90)">Donor age (archival blood)</text>
<circle cx="635.8" cy="667.2" r="94.6" fill="#0073C2" fill-opacity="0.5"/>
<circle cx="762.1" cy="667.2" r="94.6" fill="#EFC000" fill-opacity="0.5"/>
<circle cx="698.9" cy="784.6" r="94.6" fill="#868686" fill-opacity="0.5"/>
<circle cx="635.8" cy="667.2" r="94.6" fill="none" stroke="#000" stroke-width="1.1"/>
<circle cx="762.1" cy="667.2" r="94.6" fill="none" stroke="#000" stroke-width="1.1"/>
<circle cx="698.9" cy="784.6" r="94.6" fill="none" stroke="#000" stroke-width="1.1"/>
<text x="606.7" y="556.2" font-size="14.6" text-anchor="middle">dNdSloc</text>
<text x="775.5" y="556.2" font-size="14.6" text-anchor="middle">dNdScvglobal</text>
<text x="696" y="905.7" font-size="14.6" text-anchor="middle">dNdScvsubs</text>
<text x="623.2" y="662.4" font-size="13.4" text-anchor="middle">0</text>
<text x="699" y="664" font-size="13.4" text-anchor="middle">0</text>
<text x="774" y="662.4" font-size="13.4" text-anchor="middle">3</text>
<text x="699.6" y="714.2" font-size="13.4" text-anchor="middle">12</text>
<text x="652" y="737" font-size="13.4" text-anchor="middle">0</text>
<text x="746" y="737" font-size="13.4" text-anchor="middle">2</text>
<text x="699" y="801" font-size="13.4" text-anchor="middle">0</text>
<rect x="1107" y="837.4" width="61.3" height="25.6" fill="#5F9EA0"/>
<text font-size="14.6" text-anchor="end" font-style="italic" transform="translate(1142.6 888.8) rotate(-90)">TET2</text>
<rect x="1179.9" y="863" width="61.3" height="5.6" fill="#5F9EA0"/>
<text font-size="14.6" text-anchor="end" font-style="italic" transform="translate(1215.5 888.8) rotate(-90)">DNMT3A</text>
<rect x="1252.8" y="668.1" width="61.3" height="194.9" fill="#5F9EA0"/>
<text font-size="14.6" text-anchor="end" font-style="italic" transform="translate(1288.4 888.8) rotate(-90)">ATM</text>
<rect x="1325.7" y="689.3" width="61.3" height="173.7" fill="#5F9EA0"/>
<text font-size="14.6" text-anchor="end" font-style="italic" transform="translate(1361.3 888.8) rotate(-90)">ARID2</text>
<rect x="1398.6" y="716.6" width="61.3" height="146.4" fill="#5F9EA0"/>
<text font-size="14.6" text-anchor="end" font-style="italic" transform="translate(1434.2 888.8) rotate(-90)">ASXL1</text>
<rect x="1471.5" y="734.4" width="61.3" height="128.6" fill="#5F9EA0"/>
<text font-size="14.6" text-anchor="end" font-style="italic" transform="translate(1507.1 888.8) rotate(-90)">KDM6A</text>
<rect x="1544.4" y="642" width="61.3" height="221" fill="#5F9EA0"/>
<text font-size="14.6" text-anchor="end" font-style="italic" transform="translate(1580 888.8) rotate(-90)">CHEK2</text>
<rect x="1617.3" y="667.6" width="61.3" height="195.4" fill="#5F9EA0"/>
<text font-size="14.6" text-anchor="end" font-style="italic" transform="translate(1652.9 888.8) rotate(-90)">PPM1D</text>
<rect x="1690.2" y="560.1" width="61.3" height="302.9" fill="#5F9EA0"/>
<text font-size="14.6" text-anchor="end" font-style="italic" transform="translate(1725.8 888.8) rotate(-90)">TP53</text>
<rect x="1763.1" y="804" width="61.3" height="59" fill="#5F9EA0"/>
<text font-size="14.6" text-anchor="end" font-style="italic" transform="translate(1798.7 888.8) rotate(-90)">FOXP1</text>
<line x1="1084.7" y1="740" x2="1842.7" y2="740" stroke="#222" stroke-width="1.2"/>
<line x1="1084.7" y1="578.5" x2="1084.7" y2="863" stroke="#111" stroke-width="1.2"/>
<line x1="1078.6" y1="579.97" x2="1084.7" y2="579.97" stroke="#111" stroke-width="1.2"/>
<text x="1071.9" y="584.17" font-size="14.6" text-anchor="end">20.0</text>
<line x1="1078.6" y1="617" x2="1084.7" y2="617" stroke="#111" stroke-width="1.2"/>
<text x="1071.9" y="621.2" font-size="14.6" text-anchor="end">10.0</text>
<line x1="1078.6" y1="654.03" x2="1084.7" y2="654.03" stroke="#111" stroke-width="1.2"/>
<text x="1071.9" y="658.23" font-size="14.6" text-anchor="end">5.0</text>
<line x1="1078.6" y1="702.97" x2="1084.7" y2="702.97" stroke="#111" stroke-width="1.2"/>
<text x="1071.9" y="707.17" font-size="14.6" text-anchor="end">2.0</text>
<line x1="1078.6" y1="740" x2="1084.7" y2="740" stroke="#111" stroke-width="1.2"/>
<text x="1071.9" y="744.2" font-size="14.6" text-anchor="end">1.0</text>
<line x1="1078.6" y1="777.03" x2="1084.7" y2="777.03" stroke="#111" stroke-width="1.2"/>
<text x="1071.9" y="781.23" font-size="14.6" text-anchor="end">0.5</text>
<line x1="1078.6" y1="825.97" x2="1084.7" y2="825.97" stroke="#111" stroke-width="1.2"/>
<text x="1071.9" y="830.17" font-size="14.6" text-anchor="end">0.2</text>
<line x1="1078.6" y1="863" x2="1084.7" y2="863" stroke="#111" stroke-width="1.2"/>
<text x="1071.9" y="867.2" font-size="14.6" text-anchor="end">0.1</text>
<text font-size="14.6" text-anchor="middle" transform="translate(1024.5 701) rotate(-90)">Ratio driver % buccal/blood</text>
<line x1="77.3" y1="1356.25" x2="889.7" y2="1356.25" stroke="#E4E4E4" stroke-width="1"/>
<line x1="77.3" y1="1290" x2="889.7" y2="1290" stroke="#E4E4E4" stroke-width="1"/>
<line x1="77.3" y1="1223.75" x2="889.7" y2="1223.75" stroke="#E4E4E4" stroke-width="1"/>
<line x1="77.3" y1="1157.5" x2="889.7" y2="1157.5" stroke="#E4E4E4" stroke-width="1"/>
<line x1="77.3" y1="1091.25" x2="889.7" y2="1091.25" stroke="#E4E4E4" stroke-width="1"/>
<path d="M77.29 1422.5L77.29 1267.32C77.68 1268.09 77.97 1271.19 79.61 1271.97C81.26 1272.74 84.94 1271 87.17 1271.97C89.4 1272.94 90.85 1275.36 92.98 1277.78C95.11 1280.2 98.79 1285.04 99.95 1286.49L101.12 1218.5C102.18 1217.15 104.99 1213.66 107.51 1210.37C110.03 1207.07 113.8 1199.91 116.23 1198.74C118.65 1197.58 119.91 1201.84 122.04 1203.39C124.17 1204.94 127.46 1206.69 129.01 1208.04C130.56 1209.4 130.95 1210.95 131.33 1211.53L132.5 1152.25C134.14 1150.61 139.28 1144.8 142.38 1142.38C145.47 1139.95 148.19 1142.09 151.09 1137.73C154 1133.37 156.9 1123.1 159.81 1116.23C162.72 1109.35 166.1 1099.86 168.53 1096.47C170.95 1093.08 171.92 1095.5 174.34 1095.89C176.76 1096.27 180.15 1095.4 183.05 1098.79C185.96 1102.18 188.87 1108.96 191.77 1116.23C194.68 1123.49 198.07 1135.11 200.49 1142.38C202.91 1149.64 204.56 1155.45 206.3 1159.81C208.04 1164.17 210.17 1167.07 210.95 1168.53L212.11 1261.51C213.08 1262.67 215.98 1266.54 217.92 1268.48C219.86 1270.42 222.76 1272.35 223.73 1273.13L224.9 1149.35C226.15 1148.19 230.03 1143.73 232.45 1142.38C234.87 1141.02 237 1140.24 239.42 1141.21C241.84 1142.18 244.27 1142.67 246.98 1148.19C249.69 1153.71 253.27 1166.59 255.7 1174.34C258.12 1182.09 259.76 1190.32 261.51 1194.68C263.25 1199.04 265.38 1199.52 266.16 1200.49L267.9 1219.67C268.77 1219.08 271.29 1219.86 273.13 1216.18C274.97 1212.5 276.81 1206.01 278.94 1197.58C281.07 1189.16 283.49 1173.56 285.91 1165.62C288.33 1157.68 291.24 1151.58 293.47 1149.93C295.7 1148.28 297.34 1153.61 299.28 1155.74C301.22 1157.87 303.15 1159.13 305.09 1162.72C307.03 1166.3 308.67 1173.37 310.9 1177.24C313.13 1181.12 316.04 1181.6 318.46 1185.96C320.88 1190.32 323.4 1198.74 325.43 1203.39C327.46 1208.04 329.79 1212.11 330.66 1213.85L331.82 1180.15C333.18 1178.7 337.34 1175.31 339.96 1171.43C342.57 1167.56 345.09 1160.29 347.51 1156.9C349.93 1153.51 352.36 1151.29 354.49 1151.09C356.62 1150.9 358.36 1151.87 360.3 1155.74C362.23 1159.62 364.17 1167.36 366.11 1174.34C368.05 1181.31 369.98 1190.61 371.92 1197.58C373.86 1204.56 376.47 1214.73 377.73 1216.18C378.99 1217.63 378.02 1209.88 379.47 1206.3C380.93 1202.72 384.03 1200 386.45 1194.68C388.87 1189.35 391.58 1178.7 394 1174.34C396.42 1169.98 398.46 1169.01 400.98 1168.53C403.49 1168.04 407.76 1170.95 409.11 1171.43L410.27 1117.97C411.15 1117.68 413.66 1115.35 415.5 1116.23C417.34 1117.1 418.89 1120.1 421.32 1123.2C423.74 1126.3 427.13 1131.62 430.03 1134.82C432.94 1138.02 435.84 1140.15 438.75 1142.38C441.66 1144.6 444.75 1146.73 447.47 1148.19C450.18 1149.64 453.76 1150.61 455.02 1151.09L456.76 1196.42C458.12 1194.68 462.09 1191.38 464.9 1185.96C467.71 1180.54 471.49 1167.95 473.62 1163.88C475.75 1159.81 476.23 1160.78 477.68 1161.55C479.14 1162.33 480.11 1162.52 482.33 1168.53C484.56 1174.53 488.15 1188.87 491.05 1197.58C493.96 1206.3 497.83 1214.53 499.77 1220.83C501.7 1227.12 501.22 1230.51 502.67 1235.36C504.13 1240.2 506.64 1245.04 508.48 1249.88C510.32 1254.73 512.84 1261.99 513.71 1264.41L516.04 1246.98C516.72 1246.3 518.46 1243.2 520.11 1242.91C521.75 1242.62 523.69 1243.59 525.92 1245.23C528.15 1246.88 531.54 1250.56 533.47 1252.79C535.41 1255.02 536.38 1259.57 537.54 1258.6C538.7 1257.63 538.51 1251.82 540.45 1246.98C542.38 1242.14 546.55 1233.81 549.16 1229.54C551.78 1225.28 553.72 1221.7 556.14 1221.41C558.56 1221.12 561.27 1224.99 563.69 1227.8C566.11 1230.61 569.5 1236.52 570.66 1238.26L572.41 1174.34C573.38 1170.95 575.99 1159.03 578.22 1154C580.45 1148.96 583.35 1144.12 585.77 1144.12C588.2 1144.12 590.13 1152.35 592.75 1154C595.36 1155.64 599.04 1153.71 601.46 1154C603.89 1154.29 605.05 1153.32 607.28 1155.74C609.5 1158.16 612.41 1163.49 614.83 1168.53C617.25 1173.56 620.16 1182.57 621.8 1185.96C623.45 1189.35 624.23 1188.38 624.71 1188.87L625.87 1160.97C627.13 1160.97 631.2 1161.17 633.43 1160.97C635.65 1160.78 637.3 1159.33 639.24 1159.81C641.17 1160.29 643.31 1163.2 645.05 1163.88C646.79 1164.56 648.92 1163.88 649.7 1163.88L650.86 1206.88C652.31 1206.11 656.67 1203.97 659.58 1202.23C662.48 1200.49 665.87 1198.45 668.29 1196.42C670.72 1194.39 671.97 1190.8 674.11 1190.03C676.24 1189.25 679.14 1190.03 681.08 1191.77C683.02 1193.51 683.79 1196.42 685.73 1200.49C687.66 1204.56 691.54 1213.56 692.7 1216.18L693.86 1156.9C694.93 1154.97 697.74 1149.74 700.26 1145.28C702.77 1140.83 706.55 1132.5 708.97 1130.17C711.39 1127.85 713.04 1130.56 714.78 1131.33C716.53 1132.11 718.66 1134.24 719.43 1134.82L720.6 1081.36C722.05 1080.97 726.89 1078.26 729.31 1079.03C731.73 1079.81 732.7 1082.23 735.12 1086.01C737.54 1089.78 740.93 1096.18 743.84 1101.7C746.75 1107.22 750.14 1112.35 752.56 1119.13C754.98 1125.91 756.53 1134.82 758.37 1142.38C760.21 1149.93 762.73 1160.78 763.6 1164.46L764.76 1316.71C766.12 1315.74 770.57 1312.06 772.9 1310.9C775.22 1309.74 776.29 1308.96 778.71 1309.74C781.13 1310.51 785.68 1314.58 787.42 1315.55C789.17 1316.52 788.88 1315.55 789.17 1315.55L790.33 1381.22C793.43 1381.12 805.83 1380.73 808.93 1380.64L810.67 1322.52C812.12 1321.85 816.96 1318.94 819.39 1318.46C821.81 1317.97 822.78 1317.49 825.2 1319.62C827.62 1321.75 831.3 1327.37 833.91 1331.24C836.53 1335.12 839.14 1340.15 840.89 1342.86C842.63 1345.58 843.79 1346.74 844.37 1347.51L845.54 1276.03C846.99 1275.07 851.83 1272.16 854.25 1270.22C856.68 1268.29 857.64 1265.96 860.07 1264.41C862.49 1262.86 865.88 1260.93 868.78 1260.93C871.69 1260.93 875.08 1263.06 877.5 1264.41C879.92 1265.77 881.28 1268 883.31 1269.06C885.34 1270.13 888.64 1270.51 889.7 1270.8L889.7 1422.5Z" fill="#D8D8D8" fill-opacity="0.42"/>
<path d="M77.29 1267.32C77.68 1268.09 77.97 1271.19 79.61 1271.97C81.26 1272.74 84.94 1271 87.17 1271.97C89.4 1272.94 90.85 1275.36 92.98 1277.78C95.11 1280.2 98.79 1285.04 99.95 1286.49L101.12 1218.5C102.18 1217.15 104.99 1213.66 107.51 1210.37C110.03 1207.07 113.8 1199.91 116.23 1198.74C118.65 1197.58 119.91 1201.84 122.04 1203.39C124.17 1204.94 127.46 1206.69 129.01 1208.04C130.56 1209.4 130.95 1210.95 131.33 1211.53L132.5 1152.25C134.14 1150.61 139.28 1144.8 142.38 1142.38C145.47 1139.95 148.19 1142.09 151.09 1137.73C154 1133.37 156.9 1123.1 159.81 1116.23C162.72 1109.35 166.1 1099.86 168.53 1096.47C170.95 1093.08 171.92 1095.5 174.34 1095.89C176.76 1096.27 180.15 1095.4 183.05 1098.79C185.96 1102.18 188.87 1108.96 191.77 1116.23C194.68 1123.49 198.07 1135.11 200.49 1142.38C202.91 1149.64 204.56 1155.45 206.3 1159.81C208.04 1164.17 210.17 1167.07 210.95 1168.53L212.11 1261.51C213.08 1262.67 215.98 1266.54 217.92 1268.48C219.86 1270.42 222.76 1272.35 223.73 1273.13L224.9 1149.35C226.15 1148.19 230.03 1143.73 232.45 1142.38C234.87 1141.02 237 1140.24 239.42 1141.21C241.84 1142.18 244.27 1142.67 246.98 1148.19C249.69 1153.71 253.27 1166.59 255.7 1174.34C258.12 1182.09 259.76 1190.32 261.51 1194.68C263.25 1199.04 265.38 1199.52 266.16 1200.49L267.9 1219.67C268.77 1219.08 271.29 1219.86 273.13 1216.18C274.97 1212.5 276.81 1206.01 278.94 1197.58C281.07 1189.16 283.49 1173.56 285.91 1165.62C288.33 1157.68 291.24 1151.58 293.47 1149.93C295.7 1148.28 297.34 1153.61 299.28 1155.74C301.22 1157.87 303.15 1159.13 305.09 1162.72C307.03 1166.3 308.67 1173.37 310.9 1177.24C313.13 1181.12 316.04 1181.6 318.46 1185.96C320.88 1190.32 323.4 1198.74 325.43 1203.39C327.46 1208.04 329.79 1212.11 330.66 1213.85L331.82 1180.15C333.18 1178.7 337.34 1175.31 339.96 1171.43C342.57 1167.56 345.09 1160.29 347.51 1156.9C349.93 1153.51 352.36 1151.29 354.49 1151.09C356.62 1150.9 358.36 1151.87 360.3 1155.74C362.23 1159.62 364.17 1167.36 366.11 1174.34C368.05 1181.31 369.98 1190.61 371.92 1197.58C373.86 1204.56 376.47 1214.73 377.73 1216.18C378.99 1217.63 378.02 1209.88 379.47 1206.3C380.93 1202.72 384.03 1200 386.45 1194.68C388.87 1189.35 391.58 1178.7 394 1174.34C396.42 1169.98 398.46 1169.01 400.98 1168.53C403.49 1168.04 407.76 1170.95 409.11 1171.43L410.27 1117.97C411.15 1117.68 413.66 1115.35 415.5 1116.23C417.34 1117.1 418.89 1120.1 421.32 1123.2C423.74 1126.3 427.13 1131.62 430.03 1134.82C432.94 1138.02 435.84 1140.15 438.75 1142.38C441.66 1144.6 444.75 1146.73 447.47 1148.19C450.18 1149.64 453.76 1150.61 455.02 1151.09L456.76 1196.42C458.12 1194.68 462.09 1191.38 464.9 1185.96C467.71 1180.54 471.49 1167.95 473.62 1163.88C475.75 1159.81 476.23 1160.78 477.68 1161.55C479.14 1162.33 480.11 1162.52 482.33 1168.53C484.56 1174.53 488.15 1188.87 491.05 1197.58C493.96 1206.3 497.83 1214.53 499.77 1220.83C501.7 1227.12 501.22 1230.51 502.67 1235.36C504.13 1240.2 506.64 1245.04 508.48 1249.88C510.32 1254.73 512.84 1261.99 513.71 1264.41L516.04 1246.98C516.72 1246.3 518.46 1243.2 520.11 1242.91C521.75 1242.62 523.69 1243.59 525.92 1245.23C528.15 1246.88 531.54 1250.56 533.47 1252.79C535.41 1255.02 536.38 1259.57 537.54 1258.6C538.7 1257.63 538.51 1251.82 540.45 1246.98C542.38 1242.14 546.55 1233.81 549.16 1229.54C551.78 1225.28 553.72 1221.7 556.14 1221.41C558.56 1221.12 561.27 1224.99 563.69 1227.8C566.11 1230.61 569.5 1236.52 570.66 1238.26L572.41 1174.34C573.38 1170.95 575.99 1159.03 578.22 1154C580.45 1148.96 583.35 1144.12 585.77 1144.12C588.2 1144.12 590.13 1152.35 592.75 1154C595.36 1155.64 599.04 1153.71 601.46 1154C603.89 1154.29 605.05 1153.32 607.28 1155.74C609.5 1158.16 612.41 1163.49 614.83 1168.53C617.25 1173.56 620.16 1182.57 621.8 1185.96C623.45 1189.35 624.23 1188.38 624.71 1188.87L625.87 1160.97C627.13 1160.97 631.2 1161.17 633.43 1160.97C635.65 1160.78 637.3 1159.33 639.24 1159.81C641.17 1160.29 643.31 1163.2 645.05 1163.88C646.79 1164.56 648.92 1163.88 649.7 1163.88L650.86 1206.88C652.31 1206.11 656.67 1203.97 659.58 1202.23C662.48 1200.49 665.87 1198.45 668.29 1196.42C670.72 1194.39 671.97 1190.8 674.11 1190.03C676.24 1189.25 679.14 1190.03 681.08 1191.77C683.02 1193.51 683.79 1196.42 685.73 1200.49C687.66 1204.56 691.54 1213.56 692.7 1216.18L693.86 1156.9C694.93 1154.97 697.74 1149.74 700.26 1145.28C702.77 1140.83 706.55 1132.5 708.97 1130.17C711.39 1127.85 713.04 1130.56 714.78 1131.33C716.53 1132.11 718.66 1134.24 719.43 1134.82L720.6 1081.36C722.05 1080.97 726.89 1078.26 729.31 1079.03C731.73 1079.81 732.7 1082.23 735.12 1086.01C737.54 1089.78 740.93 1096.18 743.84 1101.7C746.75 1107.22 750.14 1112.35 752.56 1119.13C754.98 1125.91 756.53 1134.82 758.37 1142.38C760.21 1149.93 762.73 1160.78 763.6 1164.46L764.76 1316.71C766.12 1315.74 770.57 1312.06 772.9 1310.9C775.22 1309.74 776.29 1308.96 778.71 1309.74C781.13 1310.51 785.68 1314.58 787.42 1315.55C789.17 1316.52 788.88 1315.55 789.17 1315.55L790.33 1381.22C793.43 1381.12 805.83 1380.73 808.93 1380.64L810.67 1322.52C812.12 1321.85 816.96 1318.94 819.39 1318.46C821.81 1317.97 822.78 1317.49 825.2 1319.62C827.62 1321.75 831.3 1327.37 833.91 1331.24C836.53 1335.12 839.14 1340.15 840.89 1342.86C842.63 1345.58 843.79 1346.74 844.37 1347.51L845.54 1276.03C846.99 1275.07 851.83 1272.16 854.25 1270.22C856.68 1268.29 857.64 1265.96 860.07 1264.41C862.49 1262.86 865.88 1260.93 868.78 1260.93C871.69 1260.93 875.08 1263.06 877.5 1264.41C879.92 1265.77 881.28 1268 883.31 1269.06C885.34 1270.13 888.64 1270.51 889.7 1270.8" fill="none" stroke="#A6A6A6" stroke-width="1.4" stroke-linejoin="round"/>
<g><rect x="83.77" y="1415.88" width="1.95" height="6.62" fill="#5F9EA0"/><rect x="102.08" y="1415.88" width="1.95" height="6.62" fill="#5F9EA0"/><rect x="103.86" y="1415.88" width="1.95" height="6.62" fill="#5F9EA0"/><rect x="107.16" y="1415.88" width="1.95" height="6.62" fill="#5F9EA0"/><rect x="110.21" y="1415.88" width="1.95" height="6.62" fill="#B3B3B3"/><rect x="128.01" y="1415.88" width="1.95" height="6.62" fill="#CD661D"/><rect x="129.79" y="1415.88" width="1.95" height="6.62" fill="#B23AEE"/><rect x="142.76" y="1415.88" width="1.95" height="6.62" fill="#CD661D"/><rect x="149.88" y="1415.88" width="1.95" height="6.62" fill="#68228B"/><rect x="160.56" y="1415.88" width="1.95" height="6.62" fill="#B3B3B3"/><rect x="167.42" y="1415.88" width="1.95" height="6.62" fill="#5F9EA0"/><rect x="172.76" y="1415.88" width="1.95" height="6.62" fill="#5F9EA0"/><rect x="174.54" y="1415.88" width="1.95" height="6.62" fill="#5F9EA0"/><rect x="178.36" y="1415.88" width="1.95" height="6.62" fill="#CD661D"/><rect x="181.66" y="1415.88" width="1.95" height="6.62" fill="#5F9EA0"/><rect x="185.22" y="1415.88" width="1.95" height="6.62" fill="#B3B3B3"/><rect x="185.22" y="1409.25" width="1.95" height="6.62" fill="#5F9EA0"/><rect x="192.34" y="1415.88" width="1.95" height="6.62" fill="#B3B3B3"/><rect x="197.43" y="1415.88" width="1.95" height="6.62" fill="#68228B"/><rect x="200.48" y="1415.88" width="1.95" height="6.62" fill="#CD661D"/><rect x="204.54" y="1415.88" width="1.95" height="6.62" fill="#68228B"/><rect x="204.54" y="1409.25" width="1.95" height="6.62" fill="#5F9EA0"/><rect x="211.66" y="1415.88" width="1.95" height="6.62" fill="#68228B"/><rect x="218.53" y="1415.88" width="1.95" height="6.62" fill="#5F9EA0"/><rect x="227.94" y="1415.88" width="1.95" height="6.62" fill="#5F9EA0"/><rect x="236.07" y="1415.88" width="1.95" height="6.62" fill="#5F9EA0"/><rect x="238.11" y="1409.25" width="1.95" height="13.25" fill="#5F9EA0"/><rect x="266.58" y="1415.88" width="1.95" height="6.62" fill="#B3B3B3"/><rect x="284.13" y="1396" width="1.95" height="26.5" fill="#CD661D"/><rect x="284.13" y="1389.38" width="1.95" height="6.62" fill="#5F9EA0"/><rect x="285.91" y="1415.88" width="1.95" height="6.62" fill="#CD661D"/><rect x="293.03" y="1415.88" width="1.95" height="6.62" fill="#CD661D"/><rect x="294.81" y="1415.88" width="1.95" height="6.62" fill="#CD661D"/><rect x="298.62" y="1415.88" width="1.95" height="6.62" fill="#68228B"/><rect x="298.62" y="1409.25" width="1.95" height="6.62" fill="#5F9EA0"/><rect x="305.49" y="1402.62" width="1.95" height="19.88" fill="#CD661D"/><rect x="308.03" y="1415.88" width="1.95" height="6.62" fill="#CD661D"/><rect x="314.38" y="1396" width="1.95" height="26.5" fill="#CD661D"/><rect x="321.5" y="1415.88" width="1.95" height="6.62" fill="#CD661D"/><rect x="323.28" y="1409.25" width="1.95" height="13.25" fill="#CD661D"/><rect x="323.28" y="1402.62" width="1.95" height="6.62" fill="#5F9EA0"/><rect x="324.81" y="1415.88" width="1.95" height="6.62" fill="#CD661D"/><rect x="330.15" y="1415.88" width="1.95" height="6.62" fill="#CD661D"/><rect x="330.15" y="1409.25" width="1.95" height="6.62" fill="#68228B"/><rect x="330.15" y="1402.62" width="1.95" height="6.62" fill="#5F9EA0"/><rect x="330.15" y="1382.75" width="1.95" height="19.88" fill="#B23AEE"/><rect x="333.71" y="1415.88" width="1.95" height="6.62" fill="#5F9EA0"/><rect x="335.49" y="1415.88" width="1.95" height="6.62" fill="#5F9EA0"/><rect x="339.3" y="1409.25" width="1.95" height="13.25" fill="#CD661D"/><rect x="339.3" y="1376.12" width="1.95" height="33.12" fill="#5F9EA0"/><rect x="341.08" y="1409.25" width="1.95" height="13.25" fill="#CD661D"/><rect x="341.08" y="1382.75" width="1.95" height="26.5" fill="#5F9EA0"/><rect x="342.86" y="1415.88" width="1.95" height="6.62" fill="#CD661D"/><rect x="342.86" y="1409.25" width="1.95" height="6.62" fill="#B3B3B3"/><rect x="344.64" y="1415.88" width="1.95" height="6.62" fill="#B3B3B3"/><rect x="344.64" y="1389.38" width="1.95" height="26.5" fill="#5F9EA0"/><rect x="348.2" y="1389.38" width="1.95" height="33.12" fill="#68228B"/><rect x="349.73" y="1415.88" width="1.95" height="6.62" fill="#CD661D"/><rect x="349.73" y="1376.12" width="1.95" height="39.75" fill="#5F9EA0"/><rect x="351.76" y="1415.88" width="1.95" height="6.62" fill="#CD661D"/><rect x="351.76" y="1402.62" width="1.95" height="13.25" fill="#5F9EA0"/><rect x="355.07" y="1415.88" width="1.95" height="6.62" fill="#CD661D"/><rect x="355.07" y="1376.12" width="1.95" height="39.75" fill="#68228B"/><rect x="360.41" y="1389.38" width="1.95" height="33.12" fill="#68228B"/><rect x="360.41" y="1382.75" width="1.95" height="6.62" fill="#5F9EA0"/><rect x="363.97" y="1415.88" width="1.95" height="6.62" fill="#68228B"/><rect x="365.75" y="1415.88" width="1.95" height="6.62" fill="#68228B"/><rect x="365.75" y="1329.75" width="1.95" height="86.12" fill="#5F9EA0"/><rect x="367.78" y="1409.25" width="1.95" height="13.25" fill="#68228B"/><rect x="367.78" y="1382.75" width="1.95" height="26.5" fill="#5F9EA0"/><rect x="369.3" y="1415.88" width="1.95" height="6.62" fill="#CD661D"/><rect x="369.3" y="1396" width="1.95" height="19.88" fill="#68228B"/><rect x="370.83" y="1409.25" width="1.95" height="13.25" fill="#CD661D"/><rect x="370.83" y="1402.62" width="1.95" height="6.62" fill="#68228B"/><rect x="370.83" y="1389.38" width="1.95" height="13.25" fill="#5F9EA0"/><rect x="372.86" y="1415.88" width="1.95" height="6.62" fill="#CD661D"/><rect x="378.2" y="1415.88" width="1.95" height="6.62" fill="#CD661D"/><rect x="378.2" y="1376.12" width="1.95" height="39.75" fill="#B23AEE"/><rect x="383.8" y="1415.88" width="1.95" height="6.62" fill="#CD661D"/><rect x="385.58" y="1415.88" width="1.95" height="6.62" fill="#CD661D"/><rect x="392.19" y="1409.25" width="1.95" height="13.25" fill="#68228B"/><rect x="394.48" y="1415.88" width="1.95" height="6.62" fill="#B3B3B3"/><rect x="399.05" y="1415.88" width="1.95" height="6.62" fill="#CD661D"/><rect x="399.05" y="1402.62" width="1.95" height="13.25" fill="#5F9EA0"/><rect x="401.09" y="1409.25" width="1.95" height="13.25" fill="#CD661D"/><rect x="401.09" y="1376.12" width="1.95" height="33.12" fill="#5F9EA0"/><rect x="402.87" y="1415.88" width="1.95" height="6.62" fill="#B3B3B3"/><rect x="404.65" y="1415.88" width="1.95" height="6.62" fill="#68228B"/><rect x="408.21" y="1415.88" width="1.95" height="6.62" fill="#CD661D"/><rect x="408.21" y="1396" width="1.95" height="19.88" fill="#B23AEE"/><rect x="409.99" y="1415.88" width="1.95" height="6.62" fill="#CD661D"/><rect x="409.99" y="1389.38" width="1.95" height="26.5" fill="#5F9EA0"/><rect x="409.99" y="1356.25" width="1.95" height="33.12" fill="#B23AEE"/><rect x="413.55" y="1376.12" width="1.95" height="46.38" fill="#5F9EA0"/><rect x="416.85" y="1415.88" width="1.95" height="6.62" fill="#CD661D"/><rect x="418.63" y="1409.25" width="1.95" height="13.25" fill="#CD661D"/><rect x="431.34" y="1415.88" width="1.95" height="6.62" fill="#68228B"/><rect x="437.95" y="1402.62" width="1.95" height="19.88" fill="#5F9EA0"/><rect x="439.99" y="1415.88" width="1.95" height="6.62" fill="#CD661D"/><rect x="439.99" y="1389.38" width="1.95" height="26.5" fill="#68228B"/><rect x="439.99" y="1382.75" width="1.95" height="6.62" fill="#5F9EA0"/><rect x="443.55" y="1382.75" width="1.95" height="39.75" fill="#CD661D"/><rect x="443.55" y="1349.62" width="1.95" height="33.12" fill="#5F9EA0"/><rect x="445.58" y="1415.88" width="1.95" height="6.62" fill="#68228B"/><rect x="445.58" y="1409.25" width="1.95" height="6.62" fill="#5F9EA0"/><rect x="456.01" y="1415.88" width="1.95" height="6.62" fill="#CD661D"/><rect x="456.01" y="1409.25" width="1.95" height="6.62" fill="#68228B"/><rect x="456.01" y="1402.62" width="1.95" height="6.62" fill="#5F9EA0"/><rect x="456.01" y="1389.38" width="1.95" height="13.25" fill="#B23AEE"/><rect x="458.04" y="1415.88" width="1.95" height="6.62" fill="#68228B"/><rect x="464.4" y="1415.88" width="1.95" height="6.62" fill="#CD661D"/><rect x="466.18" y="1415.88" width="1.95" height="6.62" fill="#CD661D"/><rect x="466.18" y="1409.25" width="1.95" height="6.62" fill="#68228B"/><rect x="467.96" y="1415.88" width="1.95" height="6.62" fill="#68228B"/><rect x="467.96" y="1409.25" width="1.95" height="6.62" fill="#5F9EA0"/><rect x="469.74" y="1415.88" width="1.95" height="6.62" fill="#68228B"/><rect x="471.52" y="1415.88" width="1.95" height="6.62" fill="#CD661D"/><rect x="473.3" y="1415.88" width="1.95" height="6.62" fill="#68228B"/><rect x="489.2" y="1415.88" width="1.95" height="6.62" fill="#CD661D"/><rect x="489.2" y="1409.25" width="1.95" height="6.62" fill="#5F9EA0"/><rect x="490.98" y="1415.88" width="1.95" height="6.62" fill="#5F9EA0"/><rect x="494.54" y="1415.88" width="1.95" height="6.62" fill="#B23AEE"/><rect x="496.32" y="1415.88" width="1.95" height="6.62" fill="#CD661D"/><rect x="496.32" y="1402.62" width="1.95" height="13.25" fill="#5F9EA0"/><rect x="498.1" y="1402.62" width="1.95" height="19.88" fill="#CD661D"/><rect x="499.88" y="1415.88" width="1.95" height="6.62" fill="#CD661D"/><rect x="499.88" y="1402.62" width="1.95" height="13.25" fill="#5F9EA0"/><rect x="499.88" y="1376.12" width="1.95" height="26.5" fill="#B23AEE"/><rect x="503.44" y="1415.88" width="1.95" height="6.62" fill="#CD661D"/><rect x="503.44" y="1409.25" width="1.95" height="6.62" fill="#68228B"/><rect x="507" y="1415.88" width="1.95" height="6.62" fill="#68228B"/><rect x="507" y="1409.25" width="1.95" height="6.62" fill="#B3B3B3"/><rect x="507" y="1402.62" width="1.95" height="6.62" fill="#5F9EA0"/><rect x="508.78" y="1415.88" width="1.95" height="6.62" fill="#5F9EA0"/><rect x="512.34" y="1409.25" width="1.95" height="13.25" fill="#5F9EA0"/><rect x="514.12" y="1415.88" width="1.95" height="6.62" fill="#CD661D"/><rect x="515.9" y="1415.88" width="1.95" height="6.62" fill="#CD661D"/><rect x="515.9" y="1409.25" width="1.95" height="6.62" fill="#68228B"/><rect x="515.9" y="1402.62" width="1.95" height="6.62" fill="#B3B3B3"/><rect x="515.9" y="1396" width="1.95" height="6.62" fill="#B23AEE"/><rect x="517.68" y="1415.88" width="1.95" height="6.62" fill="#68228B"/><rect x="517.68" y="1402.62" width="1.95" height="13.25" fill="#5F9EA0"/><rect x="523.02" y="1415.88" width="1.95" height="6.62" fill="#CD661D"/><rect x="523.02" y="1409.25" width="1.95" height="6.62" fill="#68228B"/><rect x="523.02" y="1402.62" width="1.95" height="6.62" fill="#5F9EA0"/><rect x="524.8" y="1415.88" width="1.95" height="6.62" fill="#5F9EA0"/><rect x="530.14" y="1402.62" width="1.95" height="19.88" fill="#5F9EA0"/><rect x="531.92" y="1415.88" width="1.95" height="6.62" fill="#CD661D"/><rect x="531.92" y="1402.62" width="1.95" height="13.25" fill="#5F9EA0"/><rect x="533.7" y="1415.88" width="1.95" height="6.62" fill="#B3B3B3"/><rect x="535.48" y="1382.75" width="1.95" height="39.75" fill="#B23AEE"/><rect x="537.26" y="1415.88" width="1.95" height="6.62" fill="#CD661D"/><rect x="537.26" y="1389.38" width="1.95" height="26.5" fill="#5F9EA0"/><rect x="539.04" y="1409.25" width="1.95" height="13.25" fill="#5F9EA0"/><rect x="542.6" y="1409.25" width="1.95" height="13.25" fill="#CD661D"/><rect x="542.6" y="1402.62" width="1.95" height="6.62" fill="#B3B3B3"/><rect x="542.6" y="1389.38" width="1.95" height="13.25" fill="#5F9EA0"/><rect x="544.38" y="1415.88" width="1.95" height="6.62" fill="#CD661D"/><rect x="544.38" y="1409.25" width="1.95" height="6.62" fill="#B3B3B3"/><rect x="546.16" y="1415.88" width="1.95" height="6.62" fill="#CD661D"/><rect x="547.94" y="1415.88" width="1.95" height="6.62" fill="#B23AEE"/><rect x="549.72" y="1409.25" width="1.95" height="13.25" fill="#5F9EA0"/><rect x="551.5" y="1415.88" width="1.95" height="6.62" fill="#CD661D"/><rect x="553.28" y="1415.88" width="1.95" height="6.62" fill="#CD661D"/><rect x="555.06" y="1415.88" width="1.95" height="6.62" fill="#CD661D"/><rect x="555.06" y="1409.25" width="1.95" height="6.62" fill="#5F9EA0"/><rect x="556.84" y="1415.88" width="1.95" height="6.62" fill="#5F9EA0"/><rect x="558.62" y="1415.88" width="1.95" height="6.62" fill="#CD661D"/><rect x="558.62" y="1389.38" width="1.95" height="26.5" fill="#5F9EA0"/><rect x="560.4" y="1415.88" width="1.95" height="6.62" fill="#CD661D"/><rect x="562.18" y="1415.88" width="1.95" height="6.62" fill="#68228B"/><rect x="562.18" y="1396" width="1.95" height="19.88" fill="#5F9EA0"/><rect x="563.96" y="1415.88" width="1.95" height="6.62" fill="#CD661D"/><rect x="563.96" y="1409.25" width="1.95" height="6.62" fill="#5F9EA0"/><rect x="565.74" y="1402.62" width="1.95" height="19.88" fill="#5F9EA0"/><rect x="567.52" y="1415.88" width="1.95" height="6.62" fill="#5F9EA0"/><rect x="569.3" y="1415.88" width="1.95" height="6.62" fill="#68228B"/><rect x="569.3" y="1402.62" width="1.95" height="13.25" fill="#5F9EA0"/><rect x="569.3" y="1362.88" width="1.95" height="39.75" fill="#B23AEE"/><rect x="571.08" y="1415.88" width="1.95" height="6.62" fill="#B3B3B3"/><rect x="571.08" y="1409.25" width="1.95" height="6.62" fill="#5F9EA0"/><rect x="572.86" y="1415.88" width="1.95" height="6.62" fill="#CD661D"/><rect x="574.64" y="1415.88" width="1.95" height="6.62" fill="#68228B"/><rect x="574.64" y="1376.12" width="1.95" height="39.75" fill="#5F9EA0"/><rect x="576.42" y="1415.88" width="1.95" height="6.62" fill="#68228B"/><rect x="576.42" y="1409.25" width="1.95" height="6.62" fill="#5F9EA0"/><rect x="578.2" y="1415.88" width="1.95" height="6.62" fill="#68228B"/><rect x="579.98" y="1415.88" width="1.95" height="6.62" fill="#5F9EA0"/><rect x="581.76" y="1415.88" width="1.95" height="6.62" fill="#B3B3B3"/><rect x="583.54" y="1415.88" width="1.95" height="6.62" fill="#B3B3B3"/><rect x="588.88" y="1409.25" width="1.95" height="13.25" fill="#CD661D"/><rect x="588.88" y="1402.62" width="1.95" height="6.62" fill="#68228B"/><rect x="588.88" y="1396" width="1.95" height="6.62" fill="#B3B3B3"/><rect x="588.88" y="1389.38" width="1.95" height="6.62" fill="#5F9EA0"/><rect x="590.66" y="1415.88" width="1.95" height="6.62" fill="#5F9EA0"/><rect x="592.44" y="1415.88" width="1.95" height="6.62" fill="#CD661D"/><rect x="592.44" y="1396" width="1.95" height="19.88" fill="#5F9EA0"/><rect x="594.22" y="1415.88" width="1.95" height="6.62" fill="#CD661D"/><rect x="594.22" y="1409.25" width="1.95" height="6.62" fill="#B3B3B3"/><rect x="594.22" y="1402.62" width="1.95" height="6.62" fill="#5F9EA0"/><rect x="596" y="1376.12" width="1.95" height="46.38" fill="#5F9EA0"/><rect x="601.34" y="1415.88" width="1.95" height="6.62" fill="#CD661D"/><rect x="603.12" y="1415.88" width="1.95" height="6.62" fill="#CD661D"/><rect x="604.9" y="1415.88" width="1.95" height="6.62" fill="#B3B3B3"/><rect x="606.68" y="1396" width="1.95" height="26.5" fill="#68228B"/><rect x="606.68" y="1389.38" width="1.95" height="6.62" fill="#5F9EA0"/><rect x="610.24" y="1415.88" width="1.95" height="6.62" fill="#CD661D"/><rect x="610.24" y="1402.62" width="1.95" height="13.25" fill="#5F9EA0"/><rect x="613.8" y="1409.25" width="1.95" height="13.25" fill="#68228B"/><rect x="613.8" y="1402.62" width="1.95" height="6.62" fill="#B3B3B3"/><rect x="615.58" y="1415.88" width="1.95" height="6.62" fill="#68228B"/><rect x="615.58" y="1409.25" width="1.95" height="6.62" fill="#5F9EA0"/><rect x="622.7" y="1415.88" width="1.95" height="6.62" fill="#68228B"/><rect x="624.48" y="1415.88" width="1.95" height="6.62" fill="#5F9EA0"/><rect x="624.48" y="1329.75" width="1.95" height="86.12" fill="#B23AEE"/><rect x="626.26" y="1415.88" width="1.95" height="6.62" fill="#B23AEE"/><rect x="629.82" y="1409.25" width="1.95" height="13.25" fill="#5F9EA0"/><rect x="631.6" y="1415.88" width="1.95" height="6.62" fill="#CD661D"/><rect x="631.6" y="1409.25" width="1.95" height="6.62" fill="#5F9EA0"/><rect x="633.38" y="1415.88" width="1.95" height="6.62" fill="#5F9EA0"/><rect x="635.16" y="1409.25" width="1.95" height="13.25" fill="#5F9EA0"/><rect x="636.94" y="1415.88" width="1.95" height="6.62" fill="#CD661D"/><rect x="638.72" y="1415.88" width="1.95" height="6.62" fill="#68228B"/><rect x="640.5" y="1329.75" width="1.95" height="92.75" fill="#5F9EA0"/><rect x="642.28" y="1415.88" width="1.95" height="6.62" fill="#CD661D"/><rect x="642.28" y="1382.75" width="1.95" height="33.12" fill="#5F9EA0"/><rect x="644.06" y="1415.88" width="1.95" height="6.62" fill="#CD661D"/><rect x="645.84" y="1396" width="1.95" height="26.5" fill="#5F9EA0"/><rect x="647.62" y="1415.88" width="1.95" height="6.62" fill="#68228B"/><rect x="647.62" y="1402.62" width="1.95" height="13.25" fill="#B3B3B3"/><rect x="647.62" y="1396" width="1.95" height="6.62" fill="#5F9EA0"/><rect x="649.4" y="1415.88" width="1.95" height="6.62" fill="#5F9EA0"/><rect x="649.4" y="1396" width="1.95" height="19.88" fill="#B23AEE"/><rect x="651.18" y="1415.88" width="1.95" height="6.62" fill="#68228B"/><rect x="651.18" y="1409.25" width="1.95" height="6.62" fill="#B3B3B3"/><rect x="652.96" y="1415.88" width="1.95" height="6.62" fill="#CD661D"/><rect x="652.96" y="1409.25" width="1.95" height="6.62" fill="#5F9EA0"/><rect x="654.74" y="1415.88" width="1.95" height="6.62" fill="#5F9EA0"/><rect x="656.52" y="1415.88" width="1.95" height="6.62" fill="#5F9EA0"/><rect x="658.3" y="1415.88" width="1.95" height="6.62" fill="#68228B"/><rect x="658.3" y="1396" width="1.95" height="19.88" fill="#5F9EA0"/><rect x="660.08" y="1329.75" width="1.95" height="92.75" fill="#5F9EA0"/><rect x="661.86" y="1415.88" width="1.95" height="6.62" fill="#CD661D"/><rect x="661.86" y="1409.25" width="1.95" height="6.62" fill="#68228B"/><rect x="661.86" y="1382.75" width="1.95" height="26.5" fill="#5F9EA0"/><rect x="661.86" y="1376.12" width="1.95" height="6.62" fill="#B23AEE"/><rect x="663.64" y="1415.88" width="1.95" height="6.62" fill="#CD661D"/><rect x="663.64" y="1402.62" width="1.95" height="13.25" fill="#5F9EA0"/><rect x="665.42" y="1415.88" width="1.95" height="6.62" fill="#CD661D"/><rect x="665.42" y="1409.25" width="1.95" height="6.62" fill="#68228B"/><rect x="665.42" y="1396" width="1.95" height="13.25" fill="#5F9EA0"/><rect x="667.2" y="1415.88" width="1.95" height="6.62" fill="#5F9EA0"/><rect x="668.98" y="1402.62" width="1.95" height="19.88" fill="#5F9EA0"/><rect x="670.76" y="1415.88" width="1.95" height="6.62" fill="#5F9EA0"/><rect x="672.54" y="1402.62" width="1.95" height="19.88" fill="#CD661D"/><rect x="672.54" y="1389.38" width="1.95" height="13.25" fill="#5F9EA0"/><rect x="674.32" y="1415.88" width="1.95" height="6.62" fill="#CD661D"/><rect x="674.32" y="1402.62" width="1.95" height="13.25" fill="#5F9EA0"/><rect x="677.88" y="1415.88" width="1.95" height="6.62" fill="#CD661D"/><rect x="681.44" y="1415.88" width="1.95" height="6.62" fill="#CD661D"/><rect x="683.22" y="1415.88" width="1.95" height="6.62" fill="#5F9EA0"/><rect x="685" y="1415.88" width="1.95" height="6.62" fill="#5F9EA0"/><rect x="686.78" y="1409.25" width="1.95" height="13.25" fill="#CD661D"/><rect x="686.78" y="1402.62" width="1.95" height="6.62" fill="#68228B"/><rect x="686.78" y="1389.38" width="1.95" height="13.25" fill="#5F9EA0"/><rect x="688.56" y="1415.88" width="1.95" height="6.62" fill="#5F9EA0"/><rect x="690.34" y="1415.88" width="1.95" height="6.62" fill="#5F9EA0"/><rect x="692.12" y="1415.88" width="1.95" height="6.62" fill="#68228B"/><rect x="693.9" y="1415.88" width="1.95" height="6.62" fill="#CD661D"/><rect x="693.9" y="1402.62" width="1.95" height="13.25" fill="#68228B"/><rect x="693.9" y="1389.38" width="1.95" height="13.25" fill="#5F9EA0"/><rect x="693.9" y="1369.5" width="1.95" height="19.88" fill="#B23AEE"/><rect x="695.68" y="1415.88" width="1.95" height="6.62" fill="#CD661D"/><rect x="697.46" y="1369.5" width="1.95" height="53" fill="#5F9EA0"/><rect x="699.24" y="1389.38" width="1.95" height="33.12" fill="#5F9EA0"/><rect x="699.24" y="1382.75" width="1.95" height="6.62" fill="#B23AEE"/><rect x="701.02" y="1415.88" width="1.95" height="6.62" fill="#CD661D"/><rect x="702.8" y="1415.88" width="1.95" height="6.62" fill="#68228B"/><rect x="702.8" y="1362.88" width="1.95" height="53" fill="#5F9EA0"/><rect x="704.58" y="1415.88" width="1.95" height="6.62" fill="#68228B"/><rect x="704.58" y="1409.25" width="1.95" height="6.62" fill="#B3B3B3"/><rect x="704.58" y="1402.62" width="1.95" height="6.62" fill="#5F9EA0"/><rect x="706.36" y="1415.88" width="1.95" height="6.62" fill="#CD661D"/><rect x="708.14" y="1415.88" width="1.95" height="6.62" fill="#68228B"/><rect x="709.92" y="1415.88" width="1.95" height="6.62" fill="#CD661D"/><rect x="709.92" y="1356.25" width="1.95" height="59.62" fill="#5F9EA0"/><rect x="711.7" y="1415.88" width="1.95" height="6.62" fill="#5F9EA0"/><rect x="713.48" y="1415.88" width="1.95" height="6.62" fill="#5F9EA0"/><rect x="715.26" y="1409.25" width="1.95" height="13.25" fill="#CD661D"/><rect x="715.26" y="1389.38" width="1.95" height="19.88" fill="#5F9EA0"/><rect x="717.04" y="1409.25" width="1.95" height="13.25" fill="#B3B3B3"/><rect x="717.04" y="1396" width="1.95" height="13.25" fill="#5F9EA0"/><rect x="718.82" y="1409.25" width="1.95" height="13.25" fill="#CD661D"/><rect x="718.82" y="1402.62" width="1.95" height="6.62" fill="#5F9EA0"/><rect x="718.82" y="1329.75" width="1.95" height="72.88" fill="#B23AEE"/><rect x="720.6" y="1415.88" width="1.95" height="6.62" fill="#CD661D"/><rect x="722.38" y="1362.88" width="1.95" height="59.62" fill="#5F9EA0"/><rect x="724.16" y="1303.25" width="1.95" height="119.25" fill="#5F9EA0"/><rect x="725.94" y="1409.25" width="1.95" height="13.25" fill="#CD661D"/><rect x="727.72" y="1415.88" width="1.95" height="6.62" fill="#CD661D"/><rect x="727.72" y="1097.88" width="1.95" height="318" fill="#5F9EA0"/><rect x="731.28" y="1415.88" width="1.95" height="6.62" fill="#B3B3B3"/><rect x="733.06" y="1415.88" width="1.95" height="6.62" fill="#CD661D"/><rect x="734.84" y="1415.88" width="1.95" height="6.62" fill="#CD661D"/><rect x="734.84" y="1409.25" width="1.95" height="6.62" fill="#5F9EA0"/><rect x="736.62" y="1389.38" width="1.95" height="33.12" fill="#5F9EA0"/><rect x="738.4" y="1409.25" width="1.95" height="13.25" fill="#CD661D"/><rect x="738.4" y="1402.62" width="1.95" height="6.62" fill="#5F9EA0"/><rect x="740.18" y="1415.88" width="1.95" height="6.62" fill="#68228B"/><rect x="740.18" y="1336.38" width="1.95" height="79.5" fill="#5F9EA0"/><rect x="741.96" y="1415.88" width="1.95" height="6.62" fill="#68228B"/><rect x="741.96" y="1409.25" width="1.95" height="6.62" fill="#5F9EA0"/><rect x="743.74" y="1382.75" width="1.95" height="39.75" fill="#5F9EA0"/><rect x="745.52" y="1415.88" width="1.95" height="6.62" fill="#68228B"/><rect x="745.52" y="1376.12" width="1.95" height="39.75" fill="#5F9EA0"/><rect x="747.3" y="1415.88" width="1.95" height="6.62" fill="#5F9EA0"/><rect x="749.08" y="1409.25" width="1.95" height="13.25" fill="#5F9EA0"/><rect x="750.86" y="1415.88" width="1.95" height="6.62" fill="#CD661D"/><rect x="750.86" y="1409.25" width="1.95" height="6.62" fill="#68228B"/><rect x="752.64" y="1415.88" width="1.95" height="6.62" fill="#5F9EA0"/><rect x="754.42" y="1415.88" width="1.95" height="6.62" fill="#CD661D"/><rect x="754.42" y="1409.25" width="1.95" height="6.62" fill="#5F9EA0"/><rect x="756.2" y="1415.88" width="1.95" height="6.62" fill="#68228B"/><rect x="756.2" y="1409.25" width="1.95" height="6.62" fill="#B3B3B3"/><rect x="756.2" y="1402.62" width="1.95" height="6.62" fill="#5F9EA0"/><rect x="757.98" y="1356.25" width="1.95" height="66.25" fill="#5F9EA0"/><rect x="759.76" y="1409.25" width="1.95" height="13.25" fill="#CD661D"/><rect x="761.54" y="1376.12" width="1.95" height="46.38" fill="#B23AEE"/><rect x="763.32" y="1415.88" width="1.95" height="6.62" fill="#68228B"/><rect x="765.1" y="1415.88" width="1.95" height="6.62" fill="#CD661D"/><rect x="765.1" y="1409.25" width="1.95" height="6.62" fill="#5F9EA0"/><rect x="766.88" y="1415.88" width="1.95" height="6.62" fill="#CD661D"/><rect x="766.88" y="1382.75" width="1.95" height="33.12" fill="#5F9EA0"/><rect x="768.66" y="1415.88" width="1.95" height="6.62" fill="#CD661D"/><rect x="770.44" y="1415.88" width="1.95" height="6.62" fill="#CD661D"/><rect x="770.44" y="1409.25" width="1.95" height="6.62" fill="#5F9EA0"/><rect x="777.56" y="1415.88" width="1.95" height="6.62" fill="#CD661D"/><rect x="777.56" y="1402.62" width="1.95" height="13.25" fill="#5F9EA0"/><rect x="779.34" y="1415.88" width="1.95" height="6.62" fill="#CD661D"/><rect x="782.9" y="1415.88" width="1.95" height="6.62" fill="#CD661D"/><rect x="782.9" y="1409.25" width="1.95" height="6.62" fill="#68228B"/><rect x="782.9" y="1402.62" width="1.95" height="6.62" fill="#5F9EA0"/><rect x="788.24" y="1396" width="1.95" height="26.5" fill="#B23AEE"/><rect x="791.8" y="1415.88" width="1.95" height="6.62" fill="#68228B"/><rect x="791.8" y="1409.25" width="1.95" height="6.62" fill="#B3B3B3"/><rect x="791.8" y="1402.62" width="1.95" height="6.62" fill="#5F9EA0"/><rect x="795.36" y="1415.88" width="1.95" height="6.62" fill="#5F9EA0"/><rect x="797.14" y="1415.88" width="1.95" height="6.62" fill="#5F9EA0"/><rect x="798.92" y="1415.88" width="1.95" height="6.62" fill="#CD661D"/><rect x="798.92" y="1409.25" width="1.95" height="6.62" fill="#5F9EA0"/><rect x="802.48" y="1415.88" width="1.95" height="6.62" fill="#CD661D"/><rect x="804.26" y="1415.88" width="1.95" height="6.62" fill="#B3B3B3"/><rect x="807.82" y="1415.88" width="1.95" height="6.62" fill="#CD661D"/><rect x="807.82" y="1396" width="1.95" height="19.88" fill="#B23AEE"/><rect x="811.38" y="1415.88" width="1.95" height="6.62" fill="#5F9EA0"/><rect x="814.94" y="1415.88" width="1.95" height="6.62" fill="#5F9EA0"/><rect x="816.72" y="1396" width="1.95" height="26.5" fill="#5F9EA0"/><rect x="818.5" y="1415.88" width="1.95" height="6.62" fill="#5F9EA0"/><rect x="820.28" y="1415.88" width="1.95" height="6.62" fill="#5F9EA0"/><rect x="822.06" y="1415.88" width="1.95" height="6.62" fill="#5F9EA0"/><rect x="825.62" y="1415.88" width="1.95" height="6.62" fill="#5F9EA0"/><rect x="827.4" y="1415.88" width="1.95" height="6.62" fill="#CD661D"/><rect x="827.4" y="1389.38" width="1.95" height="26.5" fill="#5F9EA0"/><rect x="830.96" y="1415.88" width="1.95" height="6.62" fill="#CD661D"/><rect x="836.3" y="1415.88" width="1.95" height="6.62" fill="#68228B"/><rect x="836.3" y="1396" width="1.95" height="19.88" fill="#5F9EA0"/><rect x="838.08" y="1396" width="1.95" height="26.5" fill="#5F9EA0"/><rect x="839.86" y="1415.88" width="1.95" height="6.62" fill="#CD661D"/><rect x="843.42" y="1396" width="1.95" height="26.5" fill="#B23AEE"/><rect x="845.2" y="1415.88" width="1.95" height="6.62" fill="#5F9EA0"/><rect x="846.98" y="1415.88" width="1.95" height="6.62" fill="#5F9EA0"/><rect x="852.32" y="1415.88" width="1.95" height="6.62" fill="#68228B"/><rect x="852.32" y="1402.62" width="1.95" height="13.25" fill="#B3B3B3"/><rect x="852.32" y="1389.38" width="1.95" height="13.25" fill="#5F9EA0"/><rect x="857.66" y="1270.12" width="1.95" height="152.38" fill="#5F9EA0"/><rect x="859.44" y="1415.88" width="1.95" height="6.62" fill="#68228B"/><rect x="861.22" y="1396" width="1.95" height="26.5" fill="#5F9EA0"/><rect x="863" y="1409.25" width="1.95" height="13.25" fill="#CD661D"/><rect x="863" y="1402.62" width="1.95" height="6.62" fill="#68228B"/><rect x="863" y="1396" width="1.95" height="6.62" fill="#5F9EA0"/><rect x="864.78" y="1415.88" width="1.95" height="6.62" fill="#68228B"/><rect x="864.78" y="1396" width="1.95" height="19.88" fill="#5F9EA0"/><rect x="866.56" y="1415.88" width="1.95" height="6.62" fill="#5F9EA0"/><rect x="868.34" y="1415.88" width="1.95" height="6.62" fill="#CD661D"/><rect x="868.34" y="1409.25" width="1.95" height="6.62" fill="#5F9EA0"/><rect x="870.12" y="1415.88" width="1.95" height="6.62" fill="#CD661D"/><rect x="871.9" y="1415.88" width="1.95" height="6.62" fill="#CD661D"/><rect x="873.68" y="1415.88" width="1.95" height="6.62" fill="#5F9EA0"/><rect x="877.24" y="1415.88" width="1.95" height="6.62" fill="#CD661D"/><rect x="877.24" y="1409.25" width="1.95" height="6.62" fill="#68228B"/><rect x="877.24" y="1402.62" width="1.95" height="6.62" fill="#B3B3B3"/><rect x="877.24" y="1382.75" width="1.95" height="19.88" fill="#5F9EA0"/><rect x="879.02" y="1415.88" width="1.95" height="6.62" fill="#5F9EA0"/><rect x="880.8" y="1409.25" width="1.95" height="13.25" fill="#CD661D"/><rect x="880.8" y="1389.38" width="1.95" height="19.88" fill="#5F9EA0"/><rect x="882.58" y="1389.38" width="1.95" height="33.12" fill="#5F9EA0"/><rect x="884.36" y="1409.25" width="1.95" height="13.25" fill="#5F9EA0"/></g>
<rect x="77.3" y="1065.7" width="812.4" height="356.8" fill="none" stroke="#2B2B2B" stroke-width="1.15"/>
<line x1="74.4" y1="1422.5" x2="77.3" y2="1422.5" stroke="#2B2B2B" stroke-width="1.1"/>
<text x="71.1" y="1427.5" font-size="14.7" text-anchor="end">0</text>
<line x1="74.4" y1="1356.25" x2="77.3" y2="1356.25" stroke="#2B2B2B" stroke-width="1.1"/>
<text x="71.1" y="1361.25" font-size="14.7" text-anchor="end">10</text>
<line x1="74.4" y1="1290" x2="77.3" y2="1290" stroke="#2B2B2B" stroke-width="1.1"/>
<text x="71.1" y="1295" font-size="14.7" text-anchor="end">20</text>
<line x1="74.4" y1="1223.75" x2="77.3" y2="1223.75" stroke="#2B2B2B" stroke-width="1.1"/>
<text x="71.1" y="1228.75" font-size="14.7" text-anchor="end">30</text>
<line x1="74.4" y1="1157.5" x2="77.3" y2="1157.5" stroke="#2B2B2B" stroke-width="1.1"/>
<text x="71.1" y="1162.5" font-size="14.7" text-anchor="end">40</text>
<line x1="74.4" y1="1091.25" x2="77.3" y2="1091.25" stroke="#2B2B2B" stroke-width="1.1"/>
<text x="71.1" y="1096.25" font-size="14.7" text-anchor="end">50</text>
<line x1="889.7" y1="1166.2" x2="892.6" y2="1166.2" stroke="#2B2B2B" stroke-width="1.1"/>
<text x="895.9" y="1171.2" font-size="14.7">200,000</text>
<line x1="889.7" y1="1294.6" x2="892.6" y2="1294.6" stroke="#2B2B2B" stroke-width="1.1"/>
<line x1="889.7" y1="1422.5" x2="892.6" y2="1422.5" stroke="#2B2B2B" stroke-width="1.1"/>
<text x="895.9" y="1427.5" font-size="14.7">0</text>
<text x="479.4" y="1037" font-size="14.7" text-anchor="middle">DNMT3A − 2 aa bins</text>
<text x="479.4" y="1055.6" font-size="14.7" text-anchor="middle">823 TwinsUK blood mutations</text>
<text font-size="14.7" text-anchor="middle" transform="translate(42.5 1255.7) rotate(-90)">TwinsUK mutation count</text>
<text font-size="14.7" text-anchor="middle" transform="translate(910.5 1303.5) rotate(90)">Cumulative duplex coverage</text>
<rect x="77.29" y="1435" width="22.66" height="17.5" fill="#E6B2B3" stroke="#000" stroke-width="1.3"/>
<rect x="99.95" y="1435" width="31.38" height="17.5" fill="#CC6C6B" stroke="#000" stroke-width="1.3"/>
<rect x="131.33" y="1435" width="79.61" height="17.5" fill="#E6B2B3" stroke="#000" stroke-width="1.3"/>
<rect x="210.95" y="1435" width="13.37" height="17.5" fill="#CC6C6B" stroke="#000" stroke-width="1.3"/>
<rect x="224.31" y="1435" width="43" height="17.5" fill="#E6B2B3" stroke="#000" stroke-width="1.3"/>
<rect x="267.32" y="1435" width="64.5" height="17.5" fill="#CC6C6B" stroke="#000" stroke-width="1.3"/>
<rect x="331.82" y="1435" width="47.07" height="17.5" fill="#E6B2B3" stroke="#000" stroke-width="1.3"/>
<rect x="378.89" y="1435" width="31.38" height="17.5" fill="#CC6C6B" stroke="#000" stroke-width="1.3"/>
<rect x="410.27" y="1435" width="47.07" height="17.5" fill="#E6B2B3" stroke="#000" stroke-width="1.3"/>
<rect x="457.35" y="1435" width="43.58" height="17.5" fill="#CC6C6B" stroke="#000" stroke-width="1.3"/>
<rect x="500.93" y="1435" width="12.78" height="17.5" fill="#E6B2B3" stroke="#000" stroke-width="1.3"/>
<rect x="513.71" y="1435" width="24.41" height="17.5" fill="#CC6C6B" stroke="#000" stroke-width="1.3"/>
<rect x="538.12" y="1435" width="33.12" height="17.5" fill="#E6B2B3" stroke="#000" stroke-width="1.3"/>
<rect x="571.25" y="1435" width="54.63" height="17.5" fill="#CC6C6B" stroke="#000" stroke-width="1.3"/>
<rect x="625.87" y="1435" width="24.99" height="17.5" fill="#E6B2B3" stroke="#000" stroke-width="1.3"/>
<rect x="650.86" y="1435" width="43" height="17.5" fill="#CC6C6B" stroke="#000" stroke-width="1.3"/>
<rect x="693.86" y="1435" width="27.31" height="17.5" fill="#E6B2B3" stroke="#000" stroke-width="1.3"/>
<rect x="721.18" y="1435" width="43.58" height="17.5" fill="#CC6C6B" stroke="#000" stroke-width="1.3"/>
<rect x="764.76" y="1435" width="24.99" height="17.5" fill="#E6B2B3" stroke="#000" stroke-width="1.3"/>
<rect x="789.75" y="1435" width="21.5" height="17.5" fill="#CC6C6B" stroke="#000" stroke-width="1.3"/>
<rect x="811.25" y="1435" width="34.29" height="17.5" fill="#E6B2B3" stroke="#000" stroke-width="1.3"/>
<rect x="845.54" y="1435" width="43.58" height="17.5" fill="#CC6C6B" stroke="#000" stroke-width="1.3"/>
<rect x="77.29" y="1435" width="811.83" height="17.5" fill="none" stroke="#000" stroke-width="1.5"/>
<text x="71.1" y="1448.75" font-size="14.7" text-anchor="end">Exons</text>
<line x1="78.8" y1="1477.7" x2="888.2" y2="1477.7" stroke="#5E5E5E" stroke-width="6.2"/>
<rect x="335.31" y="1469.6" width="74.97" height="17.4" fill="#FB8072" stroke="#000" stroke-width="1.3"/>
<rect x="499.19" y="1469.6" width="49.4" height="17.4" fill="#BEBADA" stroke="#000" stroke-width="1.3"/>
<rect x="548.58" y="1469.6" width="5.81" height="17.4" fill="#8DD3C7" stroke="#000" stroke-width="1.3"/>
<rect x="554.39" y="1469.6" width="44.17" height="17.4" fill="#FFFFB3" stroke="#000" stroke-width="1.3"/>
<rect x="598.56" y="1469.6" width="24.41" height="17.4" fill="#8DD3C7" stroke="#000" stroke-width="1.3"/>
<text x="71.1" y="1482.7" font-size="14.7" text-anchor="end">Domains</text>
<line x1="77.3" y1="1562.4" x2="889.7" y2="1562.4" stroke="#EBEBEB" stroke-width="1"/>
<line x1="77.3" y1="1626.3" x2="889.7" y2="1626.3" stroke="#EBEBEB" stroke-width="1"/>
<line x1="77.3" y1="1690.2" x2="889.7" y2="1690.2" stroke="#EBEBEB" stroke-width="1"/>
<line x1="77.3" y1="1754.1" x2="889.7" y2="1754.1" stroke="#EBEBEB" stroke-width="1"/>
<line x1="77.3" y1="1818" x2="889.7" y2="1818" stroke="#EBEBEB" stroke-width="1"/>
<g><rect x="125.15" y="1498.5" width="1.9" height="6.39" fill="#5F9EA0"/><rect x="212.9" y="1498.5" width="1.9" height="6.39" fill="#68228B"/><rect x="232.66" y="1498.5" width="1.9" height="6.39" fill="#B3B3B3"/><rect x="278.57" y="1498.5" width="1.9" height="6.39" fill="#68228B"/><rect x="303.56" y="1498.5" width="1.9" height="12.78" fill="#CD661D"/><rect x="347.14" y="1498.5" width="1.9" height="6.39" fill="#68228B"/><rect x="369.81" y="1498.5" width="1.9" height="6.39" fill="#CD661D"/><rect x="384.92" y="1498.5" width="1.9" height="6.39" fill="#5F9EA0"/><rect x="415.14" y="1498.5" width="1.9" height="6.39" fill="#CD661D"/><rect x="418.62" y="1498.5" width="1.9" height="6.39" fill="#CD661D"/><rect x="440.12" y="1498.5" width="1.9" height="12.78" fill="#5F9EA0"/><rect x="450.58" y="1498.5" width="1.9" height="6.39" fill="#B3B3B3"/><rect x="480.8" y="1498.5" width="1.9" height="12.78" fill="#CD661D"/><rect x="493.01" y="1498.5" width="1.9" height="6.39" fill="#CD661D"/><rect x="499.98" y="1498.5" width="1.9" height="6.39" fill="#68228B"/><rect x="524.97" y="1498.5" width="1.9" height="6.39" fill="#68228B"/><rect x="558.67" y="1498.5" width="1.9" height="6.39" fill="#5F9EA0"/><rect x="563.9" y="1498.5" width="1.9" height="6.39" fill="#B3B3B3"/><rect x="569.13" y="1498.5" width="1.9" height="12.78" fill="#B23AEE"/><rect x="599.35" y="1498.5" width="1.9" height="6.39" fill="#CD661D"/><rect x="620.27" y="1498.5" width="1.9" height="6.39" fill="#5F9EA0"/><rect x="641.19" y="1498.5" width="1.9" height="12.78" fill="#5F9EA0"/><rect x="649.33" y="1498.5" width="1.9" height="6.39" fill="#5F9EA0"/><rect x="661.53" y="1498.5" width="1.9" height="6.39" fill="#5F9EA0"/><rect x="676.06" y="1498.5" width="1.9" height="6.39" fill="#68228B"/><rect x="684.78" y="1498.5" width="1.9" height="6.39" fill="#5F9EA0"/><rect x="696.4" y="1498.5" width="1.9" height="6.39" fill="#5F9EA0"/><rect x="701.63" y="1498.5" width="1.9" height="12.78" fill="#5F9EA0"/><rect x="708.02" y="1498.5" width="1.9" height="12.78" fill="#5F9EA0"/><rect x="715" y="1498.5" width="1.9" height="6.39" fill="#CD661D"/><rect x="717.9" y="1498.5" width="1.9" height="25.56" fill="#CD661D"/><rect x="721.39" y="1498.5" width="1.9" height="6.39" fill="#5F9EA0"/><rect x="724.88" y="1498.5" width="1.9" height="6.39" fill="#5F9EA0"/><rect x="728.36" y="1498.5" width="1.9" height="19.17" fill="#5F9EA0"/><rect x="732.43" y="1498.5" width="1.9" height="6.39" fill="#5F9EA0"/><rect x="740.57" y="1498.5" width="1.9" height="12.78" fill="#5F9EA0"/><rect x="745.21" y="1498.5" width="1.9" height="6.39" fill="#5F9EA0"/><rect x="749.28" y="1498.5" width="1.9" height="6.39" fill="#CD661D"/><rect x="758" y="1498.5" width="1.9" height="6.39" fill="#68228B"/><rect x="760.9" y="1498.5" width="1.9" height="6.39" fill="#68228B"/><rect x="820.18" y="1498.5" width="1.9" height="12.78" fill="#CD661D"/><rect x="835.87" y="1498.5" width="1.9" height="6.39" fill="#CD661D"/><rect x="841.68" y="1498.5" width="1.9" height="6.39" fill="#B23AEE"/><rect x="845.75" y="1498.5" width="1.9" height="6.39" fill="#B23AEE"/><rect x="856.21" y="1498.5" width="1.9" height="19.17" fill="#5F9EA0"/><rect x="857.95" y="1498.5" width="1.9" height="319.5" fill="#5F9EA0"/><rect x="872.48" y="1498.5" width="1.9" height="12.78" fill="#CD661D"/><rect x="875.39" y="1498.5" width="1.9" height="6.39" fill="#5F9EA0"/><rect x="882.36" y="1498.5" width="1.9" height="12.78" fill="#5F9EA0"/></g>
<rect x="77.3" y="1498.5" width="812.4" height="357.9" fill="none" stroke="#2B2B2B" stroke-width="1.15"/>
<line x1="74.4" y1="1498.5" x2="77.3" y2="1498.5" stroke="#2B2B2B" stroke-width="1.1"/>
<text x="71.1" y="1503.5" font-size="14.7" text-anchor="end">0</text>
<line x1="74.4" y1="1562.4" x2="77.3" y2="1562.4" stroke="#2B2B2B" stroke-width="1.1"/>
<text x="71.1" y="1567.4" font-size="14.7" text-anchor="end">10</text>
<line x1="74.4" y1="1626.3" x2="77.3" y2="1626.3" stroke="#2B2B2B" stroke-width="1.1"/>
<text x="71.1" y="1631.3" font-size="14.7" text-anchor="end">20</text>
<line x1="74.4" y1="1690.2" x2="77.3" y2="1690.2" stroke="#2B2B2B" stroke-width="1.1"/>
<text x="71.1" y="1695.2" font-size="14.7" text-anchor="end">30</text>
<line x1="74.4" y1="1754.1" x2="77.3" y2="1754.1" stroke="#2B2B2B" stroke-width="1.1"/>
<text x="71.1" y="1759.1" font-size="14.7" text-anchor="end">40</text>
<line x1="74.4" y1="1818" x2="77.3" y2="1818" stroke="#2B2B2B" stroke-width="1.1"/>
<text x="71.1" y="1823" font-size="14.7" text-anchor="end">50</text>
<text font-size="14.7" text-anchor="middle" transform="translate(42.5 1678) rotate(-90)">COSMIC mutation count</text>
<text x="465.8" y="1878.8" font-size="14.7" text-anchor="middle">119 COSMIC mutations (lymphoid and haematopoietic neoplasms)</text>
<text x="120.9" y="1650.5" font-size="14.7" font-weight="bold">Domain type</text>
<rect x="121.5" y="1659.4" width="20.9" height="19.8" fill="#8DD3C7" stroke="#000" stroke-width="1"/>
<text x="149.3" y="1674.3" font-size="14.7">ADD domain</text>
<rect x="121.5" y="1680.33" width="20.9" height="19.8" fill="#FFFFB3" stroke="#000" stroke-width="1"/>
<text x="149.3" y="1695.23" font-size="14.7">DNMT3, ADD domain, PHD zinc finger</text>
<rect x="121.5" y="1701.26" width="20.9" height="19.8" fill="#BEBADA" stroke="#000" stroke-width="1"/>
<text x="149.3" y="1716.16" font-size="14.7">DNMT3, cysteine rich ADD domain, GATA1−like zinc finger</text>
<rect x="121.5" y="1722.19" width="20.9" height="19.8" fill="#FB8072" stroke="#000" stroke-width="1"/>
<text x="149.3" y="1737.09" font-size="14.7">PWWP domain</text>
<text x="611.9" y="1652.8" font-size="14.7" font-weight="bold">Mutation type</text>
<rect x="612.2" y="1660" width="20.4" height="19.4" fill="#B3B3B3" stroke="#000" stroke-width="1"/>
<text x="638.1" y="1674.7" font-size="14.7">Synonymous</text>
<rect x="612.2" y="1679.46" width="20.4" height="19.4" fill="#5F9EA0" stroke="#000" stroke-width="1"/>
<text x="638.1" y="1693.98" font-size="14.7">Missense</text>
<rect x="612.2" y="1698.92" width="20.4" height="19.4" fill="#68228B" stroke="#000" stroke-width="1"/>
<text x="638.1" y="1713.26" font-size="14.7">Nonsense</text>
<rect x="612.2" y="1718.38" width="20.4" height="19.4" fill="#B23AEE" stroke="#000" stroke-width="1"/>
<text x="638.1" y="1732.54" font-size="14.7">Essential splice</text>
<rect x="612.2" y="1737.84" width="20.4" height="19.4" fill="#CD661D" stroke="#000" stroke-width="1"/>
<text x="638.1" y="1751.82" font-size="14.7">Non-SNVs</text>
<rect x="612.2" y="1757.3" width="20.4" height="19.4" fill="#B22222" stroke="#000" stroke-width="1"/>
<text x="638.1" y="1771.1" font-size="14.7">Start loss</text>
<rect x="612.2" y="1776.76" width="20.4" height="19.4" fill="#FF0000" stroke="#000" stroke-width="1"/>
<text x="638.1" y="1790.38" font-size="14.7">Stop loss</text>
<line x1="1033.6" y1="1353.2" x2="1930.8" y2="1353.2" stroke="#E4E4E4" stroke-width="1"/>
<line x1="1033.6" y1="1278.7" x2="1930.8" y2="1278.7" stroke="#E4E4E4" stroke-width="1"/>
<line x1="1033.6" y1="1204.2" x2="1930.8" y2="1204.2" stroke="#E4E4E4" stroke-width="1"/>
<line x1="1033.6" y1="1129.7" x2="1930.8" y2="1129.7" stroke="#E4E4E4" stroke-width="1"/>
<path d="M1033.57 1427.7L1033.57 1336.68C1033.99 1336.68 1035.65 1336.68 1036.06 1336.68L1037.94 1305.51C1038.97 1297.71 1041.78 1271.01 1044.17 1258.74C1046.56 1246.48 1050.2 1235.78 1052.28 1231.93C1054.35 1228.09 1054.87 1238.48 1056.64 1235.68C1058.41 1232.87 1060.48 1219.05 1062.87 1215.1C1065.26 1211.15 1068.38 1214.79 1070.98 1211.98C1073.58 1209.18 1076.18 1200.14 1078.46 1198.27C1080.75 1196.4 1082.62 1200.76 1084.7 1200.76C1086.77 1200.76 1088.64 1196.6 1090.93 1198.27C1093.22 1199.93 1096.13 1206.16 1098.41 1210.74C1100.7 1215.31 1102.26 1226.53 1104.65 1225.7C1107.04 1224.87 1110.36 1209.59 1112.75 1205.75C1115.14 1201.9 1116.6 1205.75 1118.99 1202.63C1121.38 1199.51 1124.49 1190.68 1127.09 1187.04C1129.69 1183.41 1131.77 1184.45 1134.57 1180.81C1137.38 1177.17 1140.81 1168.55 1143.93 1165.22C1147.04 1161.9 1150.16 1163.25 1153.28 1160.86C1156.4 1158.47 1159.51 1153.58 1162.63 1150.88C1165.75 1148.18 1169.18 1146.1 1171.98 1144.65C1174.79 1143.19 1176.87 1143.19 1179.47 1142.15C1182.06 1141.11 1185.18 1142.36 1187.57 1138.41C1189.96 1134.46 1191.73 1119.71 1193.81 1118.46C1195.88 1117.21 1197.75 1125.74 1200.04 1130.93C1202.33 1136.13 1204.92 1150.15 1207.52 1149.64C1210.12 1149.12 1213.24 1135.61 1215.63 1127.81C1218.02 1120.02 1219.99 1109.42 1221.86 1102.87C1223.73 1096.33 1224.98 1088.53 1226.85 1088.53C1228.72 1088.53 1230.59 1095.81 1233.08 1102.87C1235.58 1109.94 1239.01 1127.29 1241.81 1130.93C1244.62 1134.57 1247.22 1129.37 1249.92 1124.7C1252.62 1120.02 1255.63 1107.86 1258.02 1102.87C1260.41 1097.89 1261.97 1094.25 1264.26 1094.77C1266.54 1095.29 1269.25 1099.96 1271.74 1105.99C1274.23 1112.02 1276.62 1124.18 1279.22 1130.93C1281.82 1137.69 1284.42 1144.65 1287.33 1146.52C1290.24 1148.39 1293.56 1145.79 1296.68 1142.15C1299.8 1138.52 1303.43 1129.37 1306.03 1124.7C1308.63 1120.02 1310.19 1116.18 1312.27 1114.1C1314.34 1112.02 1316.11 1107.86 1318.5 1112.23C1320.89 1116.59 1324.01 1136.65 1326.61 1140.28C1329.2 1143.92 1331.59 1133.53 1334.09 1134.05C1336.58 1134.57 1339.28 1145.48 1341.57 1143.4C1343.86 1141.32 1345.73 1129.37 1347.8 1121.58C1349.88 1113.79 1352.17 1103.19 1354.04 1096.64C1355.91 1090.09 1357.16 1082.82 1359.03 1082.3C1360.9 1081.78 1363.18 1086.46 1365.26 1093.52C1367.34 1100.59 1369.42 1116.18 1371.5 1124.7C1373.58 1133.22 1375.45 1143.09 1377.73 1144.65C1380.02 1146.21 1382.62 1140.49 1385.21 1134.05C1387.81 1127.61 1390.93 1109.63 1393.32 1105.99C1395.71 1102.35 1397.48 1109.11 1399.55 1112.23C1401.63 1115.34 1403.71 1126.25 1405.79 1124.7C1407.87 1123.14 1409.63 1102.87 1412.02 1102.87C1414.41 1102.87 1417.53 1124.7 1420.13 1124.7C1422.73 1124.7 1425.32 1107.55 1427.61 1102.87C1429.9 1098.2 1431.56 1096.12 1433.85 1096.64C1436.13 1097.16 1438.73 1098.72 1441.33 1105.99C1443.92 1113.27 1447.04 1140.28 1449.43 1140.28C1451.82 1140.28 1453.59 1112.75 1455.67 1105.99C1457.75 1099.24 1459.82 1101 1461.9 1099.76C1463.98 1098.51 1466.06 1095.91 1468.14 1098.51C1470.21 1101.11 1472.29 1113.06 1474.37 1115.34C1476.45 1117.63 1478.53 1109.11 1480.61 1112.23C1482.68 1115.34 1484.45 1128.64 1486.84 1134.05C1489.23 1139.45 1492.64 1136.76 1494.95 1144.65C1497.25 1152.54 1498.56 1173.65 1500.66 1181.38C1502.76 1189.11 1505.94 1190.33 1507.54 1191.02C1509.15 1191.71 1508.46 1184.82 1510.3 1185.51C1512.13 1186.2 1516.26 1189.64 1518.56 1195.15C1520.85 1200.66 1522 1210.07 1524.07 1218.56C1526.13 1227.05 1528.43 1237.38 1530.95 1246.1C1533.48 1254.82 1536.69 1263.54 1539.22 1270.89C1541.74 1278.23 1544.95 1286.96 1546.1 1290.17L1546.93 1352.14C1548.17 1351.22 1552.21 1347.32 1554.36 1346.63C1556.52 1345.94 1558.82 1349.61 1559.87 1348.01C1560.93 1346.4 1559.32 1338.92 1560.7 1336.99C1562.08 1335.06 1565.75 1336.07 1568.13 1336.44C1570.52 1336.81 1572.5 1341.03 1575.02 1339.19C1577.55 1337.36 1580.76 1327.63 1583.28 1325.42C1585.81 1323.22 1587.87 1324.73 1590.17 1325.97C1592.46 1327.21 1594.76 1329.65 1597.05 1332.86C1599.35 1336.07 1602.79 1343.19 1603.94 1345.25L1605.32 1276.4C1606.46 1274.56 1610.14 1267.45 1612.2 1265.38C1614.27 1263.31 1615.87 1263.09 1617.71 1264C1619.55 1264.92 1621.7 1268.13 1623.22 1270.89C1624.73 1273.64 1626.2 1278.92 1626.8 1280.53L1627.35 1332.86C1628.27 1332.17 1631.02 1328.96 1632.86 1328.73C1634.7 1328.5 1637.13 1330.1 1638.37 1331.48C1639.61 1332.86 1639.97 1336.07 1640.3 1336.99L1640.85 1251.61C1641.58 1251.38 1643.6 1249.77 1645.25 1250.23C1646.91 1250.69 1648.93 1253.22 1650.76 1254.36C1652.6 1255.51 1654.66 1255.74 1656.27 1257.12C1657.88 1258.5 1659.71 1261.71 1660.4 1262.63L1660.95 1301.19C1661.32 1300.96 1661.87 1304.4 1663.16 1299.81C1664.44 1295.22 1666.6 1281.45 1668.66 1273.64C1670.73 1265.84 1673.48 1256.89 1675.55 1252.99C1677.61 1249.08 1679.22 1251.84 1681.06 1250.23C1682.89 1248.63 1684.96 1243.81 1686.57 1243.35C1688.17 1242.89 1689.09 1244.72 1690.7 1247.48C1692.3 1250.23 1694.37 1256.43 1696.21 1259.87C1698.04 1263.31 1699.88 1263.77 1701.71 1268.13C1703.55 1272.5 1705.39 1280.3 1707.22 1286.04C1709.06 1291.78 1711.81 1299.81 1712.73 1302.56L1713.56 1213.05C1714.57 1212.73 1717.92 1210.89 1719.62 1211.12C1721.32 1211.35 1722.37 1212.04 1723.75 1214.43C1725.13 1216.81 1726.73 1222.78 1727.88 1225.44C1729.03 1228.11 1729.49 1230.63 1730.63 1230.4C1731.78 1230.17 1733.39 1227.88 1734.76 1224.07C1736.14 1220.26 1737.52 1213.97 1738.9 1207.54C1740.27 1201.12 1741.08 1196.2 1743.03 1185.51C1744.97 1174.82 1748.07 1150.21 1750.57 1143.4C1753.08 1136.59 1755.77 1143.82 1758.05 1144.65C1760.34 1145.48 1762.21 1150.67 1764.29 1148.39C1766.37 1146.1 1768.45 1136.75 1770.52 1130.93C1772.6 1125.11 1774.89 1117.11 1776.76 1113.47C1778.63 1109.84 1779.88 1105.68 1781.75 1109.11C1783.62 1112.54 1785.9 1125.01 1787.98 1134.05C1790.06 1143.09 1791.93 1160.75 1794.22 1163.35C1796.5 1165.95 1799.2 1156.08 1801.7 1149.64C1804.19 1143.19 1806.89 1125.53 1809.18 1124.7C1811.47 1123.86 1813.54 1137.58 1815.41 1144.65C1817.29 1151.71 1818.32 1166.26 1820.4 1167.09C1822.48 1167.92 1824.97 1153.38 1827.88 1149.64C1830.79 1145.89 1834.95 1142.36 1837.86 1144.65C1840.77 1146.93 1843.06 1158.88 1845.34 1163.35C1847.63 1167.82 1849.5 1172.18 1851.58 1171.46C1853.66 1170.73 1855.21 1160.34 1857.81 1158.99C1860.41 1157.64 1864.05 1164.08 1867.16 1163.35C1870.28 1162.62 1873.4 1157.53 1876.52 1154.62C1879.63 1151.71 1883.27 1146.21 1885.87 1145.89C1888.47 1145.58 1890.02 1147.45 1892.1 1152.75C1894.18 1158.05 1895.95 1170.73 1898.34 1177.69C1900.73 1184.65 1903.85 1191.1 1906.44 1194.53C1909.04 1197.95 1911.12 1193.28 1913.92 1198.27C1916.73 1203.25 1920.47 1215.41 1923.28 1224.45C1926.08 1233.49 1929.51 1247.83 1930.76 1252.51L1930.76 1427.7Z" fill="#D8D8D8" fill-opacity="0.42"/>
<path d="M1033.57 1336.68C1033.99 1336.68 1035.65 1336.68 1036.06 1336.68L1037.94 1305.51C1038.97 1297.71 1041.78 1271.01 1044.17 1258.74C1046.56 1246.48 1050.2 1235.78 1052.28 1231.93C1054.35 1228.09 1054.87 1238.48 1056.64 1235.68C1058.41 1232.87 1060.48 1219.05 1062.87 1215.1C1065.26 1211.15 1068.38 1214.79 1070.98 1211.98C1073.58 1209.18 1076.18 1200.14 1078.46 1198.27C1080.75 1196.4 1082.62 1200.76 1084.7 1200.76C1086.77 1200.76 1088.64 1196.6 1090.93 1198.27C1093.22 1199.93 1096.13 1206.16 1098.41 1210.74C1100.7 1215.31 1102.26 1226.53 1104.65 1225.7C1107.04 1224.87 1110.36 1209.59 1112.75 1205.75C1115.14 1201.9 1116.6 1205.75 1118.99 1202.63C1121.38 1199.51 1124.49 1190.68 1127.09 1187.04C1129.69 1183.41 1131.77 1184.45 1134.57 1180.81C1137.38 1177.17 1140.81 1168.55 1143.93 1165.22C1147.04 1161.9 1150.16 1163.25 1153.28 1160.86C1156.4 1158.47 1159.51 1153.58 1162.63 1150.88C1165.75 1148.18 1169.18 1146.1 1171.98 1144.65C1174.79 1143.19 1176.87 1143.19 1179.47 1142.15C1182.06 1141.11 1185.18 1142.36 1187.57 1138.41C1189.96 1134.46 1191.73 1119.71 1193.81 1118.46C1195.88 1117.21 1197.75 1125.74 1200.04 1130.93C1202.33 1136.13 1204.92 1150.15 1207.52 1149.64C1210.12 1149.12 1213.24 1135.61 1215.63 1127.81C1218.02 1120.02 1219.99 1109.42 1221.86 1102.87C1223.73 1096.33 1224.98 1088.53 1226.85 1088.53C1228.72 1088.53 1230.59 1095.81 1233.08 1102.87C1235.58 1109.94 1239.01 1127.29 1241.81 1130.93C1244.62 1134.57 1247.22 1129.37 1249.92 1124.7C1252.62 1120.02 1255.63 1107.86 1258.02 1102.87C1260.41 1097.89 1261.97 1094.25 1264.26 1094.77C1266.54 1095.29 1269.25 1099.96 1271.74 1105.99C1274.23 1112.02 1276.62 1124.18 1279.22 1130.93C1281.82 1137.69 1284.42 1144.65 1287.33 1146.52C1290.24 1148.39 1293.56 1145.79 1296.68 1142.15C1299.8 1138.52 1303.43 1129.37 1306.03 1124.7C1308.63 1120.02 1310.19 1116.18 1312.27 1114.1C1314.34 1112.02 1316.11 1107.86 1318.5 1112.23C1320.89 1116.59 1324.01 1136.65 1326.61 1140.28C1329.2 1143.92 1331.59 1133.53 1334.09 1134.05C1336.58 1134.57 1339.28 1145.48 1341.57 1143.4C1343.86 1141.32 1345.73 1129.37 1347.8 1121.58C1349.88 1113.79 1352.17 1103.19 1354.04 1096.64C1355.91 1090.09 1357.16 1082.82 1359.03 1082.3C1360.9 1081.78 1363.18 1086.46 1365.26 1093.52C1367.34 1100.59 1369.42 1116.18 1371.5 1124.7C1373.58 1133.22 1375.45 1143.09 1377.73 1144.65C1380.02 1146.21 1382.62 1140.49 1385.21 1134.05C1387.81 1127.61 1390.93 1109.63 1393.32 1105.99C1395.71 1102.35 1397.48 1109.11 1399.55 1112.23C1401.63 1115.34 1403.71 1126.25 1405.79 1124.7C1407.87 1123.14 1409.63 1102.87 1412.02 1102.87C1414.41 1102.87 1417.53 1124.7 1420.13 1124.7C1422.73 1124.7 1425.32 1107.55 1427.61 1102.87C1429.9 1098.2 1431.56 1096.12 1433.85 1096.64C1436.13 1097.16 1438.73 1098.72 1441.33 1105.99C1443.92 1113.27 1447.04 1140.28 1449.43 1140.28C1451.82 1140.28 1453.59 1112.75 1455.67 1105.99C1457.75 1099.24 1459.82 1101 1461.9 1099.76C1463.98 1098.51 1466.06 1095.91 1468.14 1098.51C1470.21 1101.11 1472.29 1113.06 1474.37 1115.34C1476.45 1117.63 1478.53 1109.11 1480.61 1112.23C1482.68 1115.34 1484.45 1128.64 1486.84 1134.05C1489.23 1139.45 1492.64 1136.76 1494.95 1144.65C1497.25 1152.54 1498.56 1173.65 1500.66 1181.38C1502.76 1189.11 1505.94 1190.33 1507.54 1191.02C1509.15 1191.71 1508.46 1184.82 1510.3 1185.51C1512.13 1186.2 1516.26 1189.64 1518.56 1195.15C1520.85 1200.66 1522 1210.07 1524.07 1218.56C1526.13 1227.05 1528.43 1237.38 1530.95 1246.1C1533.48 1254.82 1536.69 1263.54 1539.22 1270.89C1541.74 1278.23 1544.95 1286.96 1546.1 1290.17L1546.93 1352.14C1548.17 1351.22 1552.21 1347.32 1554.36 1346.63C1556.52 1345.94 1558.82 1349.61 1559.87 1348.01C1560.93 1346.4 1559.32 1338.92 1560.7 1336.99C1562.08 1335.06 1565.75 1336.07 1568.13 1336.44C1570.52 1336.81 1572.5 1341.03 1575.02 1339.19C1577.55 1337.36 1580.76 1327.63 1583.28 1325.42C1585.81 1323.22 1587.87 1324.73 1590.17 1325.97C1592.46 1327.21 1594.76 1329.65 1597.05 1332.86C1599.35 1336.07 1602.79 1343.19 1603.94 1345.25L1605.32 1276.4C1606.46 1274.56 1610.14 1267.45 1612.2 1265.38C1614.27 1263.31 1615.87 1263.09 1617.71 1264C1619.55 1264.92 1621.7 1268.13 1623.22 1270.89C1624.73 1273.64 1626.2 1278.92 1626.8 1280.53L1627.35 1332.86C1628.27 1332.17 1631.02 1328.96 1632.86 1328.73C1634.7 1328.5 1637.13 1330.1 1638.37 1331.48C1639.61 1332.86 1639.97 1336.07 1640.3 1336.99L1640.85 1251.61C1641.58 1251.38 1643.6 1249.77 1645.25 1250.23C1646.91 1250.69 1648.93 1253.22 1650.76 1254.36C1652.6 1255.51 1654.66 1255.74 1656.27 1257.12C1657.88 1258.5 1659.71 1261.71 1660.4 1262.63L1660.95 1301.19C1661.32 1300.96 1661.87 1304.4 1663.16 1299.81C1664.44 1295.22 1666.6 1281.45 1668.66 1273.64C1670.73 1265.84 1673.48 1256.89 1675.55 1252.99C1677.61 1249.08 1679.22 1251.84 1681.06 1250.23C1682.89 1248.63 1684.96 1243.81 1686.57 1243.35C1688.17 1242.89 1689.09 1244.72 1690.7 1247.48C1692.3 1250.23 1694.37 1256.43 1696.21 1259.87C1698.04 1263.31 1699.88 1263.77 1701.71 1268.13C1703.55 1272.5 1705.39 1280.3 1707.22 1286.04C1709.06 1291.78 1711.81 1299.81 1712.73 1302.56L1713.56 1213.05C1714.57 1212.73 1717.92 1210.89 1719.62 1211.12C1721.32 1211.35 1722.37 1212.04 1723.75 1214.43C1725.13 1216.81 1726.73 1222.78 1727.88 1225.44C1729.03 1228.11 1729.49 1230.63 1730.63 1230.4C1731.78 1230.17 1733.39 1227.88 1734.76 1224.07C1736.14 1220.26 1737.52 1213.97 1738.9 1207.54C1740.27 1201.12 1741.08 1196.2 1743.03 1185.51C1744.97 1174.82 1748.07 1150.21 1750.57 1143.4C1753.08 1136.59 1755.77 1143.82 1758.05 1144.65C1760.34 1145.48 1762.21 1150.67 1764.29 1148.39C1766.37 1146.1 1768.45 1136.75 1770.52 1130.93C1772.6 1125.11 1774.89 1117.11 1776.76 1113.47C1778.63 1109.84 1779.88 1105.68 1781.75 1109.11C1783.62 1112.54 1785.9 1125.01 1787.98 1134.05C1790.06 1143.09 1791.93 1160.75 1794.22 1163.35C1796.5 1165.95 1799.2 1156.08 1801.7 1149.64C1804.19 1143.19 1806.89 1125.53 1809.18 1124.7C1811.47 1123.86 1813.54 1137.58 1815.41 1144.65C1817.29 1151.71 1818.32 1166.26 1820.4 1167.09C1822.48 1167.92 1824.97 1153.38 1827.88 1149.64C1830.79 1145.89 1834.95 1142.36 1837.86 1144.65C1840.77 1146.93 1843.06 1158.88 1845.34 1163.35C1847.63 1167.82 1849.5 1172.18 1851.58 1171.46C1853.66 1170.73 1855.21 1160.34 1857.81 1158.99C1860.41 1157.64 1864.05 1164.08 1867.16 1163.35C1870.28 1162.62 1873.4 1157.53 1876.52 1154.62C1879.63 1151.71 1883.27 1146.21 1885.87 1145.89C1888.47 1145.58 1890.02 1147.45 1892.1 1152.75C1894.18 1158.05 1895.95 1170.73 1898.34 1177.69C1900.73 1184.65 1903.85 1191.1 1906.44 1194.53C1909.04 1197.95 1911.12 1193.28 1913.92 1198.27C1916.73 1203.25 1920.47 1215.41 1923.28 1224.45C1926.08 1233.49 1929.51 1247.83 1930.76 1252.51" fill="none" stroke="#A6A6A6" stroke-width="1.4" stroke-linejoin="round"/>
<g><rect x="1033.64" y="1412.8" width="1.92" height="14.9" fill="#68228B"/><rect x="1033.64" y="1397.9" width="1.92" height="14.9" fill="#5F9EA0"/><rect x="1035.43" y="1412.8" width="1.92" height="14.9" fill="#68228B"/><rect x="1035.43" y="1397.9" width="1.92" height="14.9" fill="#5F9EA0"/><rect x="1037.22" y="1412.8" width="1.92" height="14.9" fill="#CD661D"/><rect x="1039.02" y="1412.8" width="1.92" height="14.9" fill="#CD661D"/><rect x="1042.6" y="1412.8" width="1.92" height="14.9" fill="#CD661D"/><rect x="1049.77" y="1412.8" width="1.92" height="14.9" fill="#CD661D"/><rect x="1051.56" y="1412.8" width="1.92" height="14.9" fill="#B3B3B3"/><rect x="1053.35" y="1412.8" width="1.92" height="14.9" fill="#5F9EA0"/><rect x="1055.14" y="1412.8" width="1.92" height="14.9" fill="#CD661D"/><rect x="1055.14" y="1383" width="1.92" height="29.8" fill="#68228B"/><rect x="1056.94" y="1412.8" width="1.92" height="14.9" fill="#CD661D"/><rect x="1060.52" y="1412.8" width="1.92" height="14.9" fill="#CD661D"/><rect x="1060.52" y="1397.9" width="1.92" height="14.9" fill="#B3B3B3"/><rect x="1064.1" y="1412.8" width="1.92" height="14.9" fill="#68228B"/><rect x="1064.1" y="1397.9" width="1.92" height="14.9" fill="#5F9EA0"/><rect x="1065.9" y="1412.8" width="1.92" height="14.9" fill="#5F9EA0"/><rect x="1067.69" y="1412.8" width="1.92" height="14.9" fill="#CD661D"/><rect x="1067.69" y="1397.9" width="1.92" height="14.9" fill="#68228B"/><rect x="1067.69" y="1383" width="1.92" height="14.9" fill="#B3B3B3"/><rect x="1069.48" y="1412.8" width="1.92" height="14.9" fill="#B23AEE"/><rect x="1071.27" y="1412.8" width="1.92" height="14.9" fill="#CD661D"/><rect x="1073.06" y="1412.8" width="1.92" height="14.9" fill="#CD661D"/><rect x="1073.06" y="1368.1" width="1.92" height="44.7" fill="#68228B"/><rect x="1073.06" y="1353.2" width="1.92" height="14.9" fill="#5F9EA0"/><rect x="1074.86" y="1383" width="1.92" height="44.7" fill="#CD661D"/><rect x="1074.86" y="1353.2" width="1.92" height="29.8" fill="#5F9EA0"/><rect x="1076.65" y="1412.8" width="1.92" height="14.9" fill="#CD661D"/><rect x="1080.23" y="1412.8" width="1.92" height="14.9" fill="#CD661D"/><rect x="1082.02" y="1412.8" width="1.92" height="14.9" fill="#5F9EA0"/><rect x="1083.82" y="1412.8" width="1.92" height="14.9" fill="#5F9EA0"/><rect x="1085.61" y="1412.8" width="1.92" height="14.9" fill="#68228B"/><rect x="1085.61" y="1397.9" width="1.92" height="14.9" fill="#B3B3B3"/><rect x="1085.61" y="1383" width="1.92" height="14.9" fill="#B23AEE"/><rect x="1087.4" y="1397.9" width="1.92" height="29.8" fill="#CD661D"/><rect x="1087.4" y="1383" width="1.92" height="14.9" fill="#68228B"/><rect x="1087.4" y="1338.3" width="1.92" height="44.7" fill="#5F9EA0"/><rect x="1089.19" y="1412.8" width="1.92" height="14.9" fill="#CD661D"/><rect x="1089.19" y="1397.9" width="1.92" height="14.9" fill="#68228B"/><rect x="1090.98" y="1397.9" width="1.92" height="29.8" fill="#CD661D"/><rect x="1092.78" y="1412.8" width="1.92" height="14.9" fill="#68228B"/><rect x="1092.78" y="1397.9" width="1.92" height="14.9" fill="#5F9EA0"/><rect x="1094.57" y="1412.8" width="1.92" height="14.9" fill="#CD661D"/><rect x="1096.36" y="1412.8" width="1.92" height="14.9" fill="#CD661D"/><rect x="1098.15" y="1412.8" width="1.92" height="14.9" fill="#68228B"/><rect x="1098.15" y="1397.9" width="1.92" height="14.9" fill="#5F9EA0"/><rect x="1098.15" y="1383" width="1.92" height="14.9" fill="#B23AEE"/><rect x="1099.94" y="1412.8" width="1.92" height="14.9" fill="#CD661D"/><rect x="1099.94" y="1397.9" width="1.92" height="14.9" fill="#68228B"/><rect x="1099.94" y="1383" width="1.92" height="14.9" fill="#5F9EA0"/><rect x="1101.74" y="1412.8" width="1.92" height="14.9" fill="#B3B3B3"/><rect x="1101.74" y="1397.9" width="1.92" height="14.9" fill="#5F9EA0"/><rect x="1103.53" y="1412.8" width="1.92" height="14.9" fill="#68228B"/><rect x="1105.32" y="1412.8" width="1.92" height="14.9" fill="#68228B"/><rect x="1107.11" y="1412.8" width="1.92" height="14.9" fill="#CD661D"/><rect x="1107.11" y="1397.9" width="1.92" height="14.9" fill="#5F9EA0"/><rect x="1110.7" y="1412.8" width="1.92" height="14.9" fill="#5F9EA0"/><rect x="1112.49" y="1412.8" width="1.92" height="14.9" fill="#CD661D"/><rect x="1114.28" y="1397.9" width="1.92" height="29.8" fill="#CD661D"/><rect x="1114.28" y="1383" width="1.92" height="14.9" fill="#B3B3B3"/><rect x="1116.07" y="1412.8" width="1.92" height="14.9" fill="#68228B"/><rect x="1117.86" y="1397.9" width="1.92" height="29.8" fill="#CD661D"/><rect x="1117.86" y="1383" width="1.92" height="14.9" fill="#68228B"/><rect x="1117.86" y="1368.1" width="1.92" height="14.9" fill="#5F9EA0"/><rect x="1119.66" y="1412.8" width="1.92" height="14.9" fill="#CD661D"/><rect x="1121.45" y="1412.8" width="1.92" height="14.9" fill="#5F9EA0"/><rect x="1123.24" y="1412.8" width="1.92" height="14.9" fill="#5F9EA0"/><rect x="1126.82" y="1397.9" width="1.92" height="29.8" fill="#CD661D"/><rect x="1126.82" y="1383" width="1.92" height="14.9" fill="#68228B"/><rect x="1128.62" y="1412.8" width="1.92" height="14.9" fill="#5F9EA0"/><rect x="1130.41" y="1383" width="1.92" height="44.7" fill="#CD661D"/><rect x="1132.2" y="1412.8" width="1.92" height="14.9" fill="#CD661D"/><rect x="1132.2" y="1383" width="1.92" height="29.8" fill="#68228B"/><rect x="1132.2" y="1368.1" width="1.92" height="14.9" fill="#B3B3B3"/><rect x="1133.99" y="1412.8" width="1.92" height="14.9" fill="#68228B"/><rect x="1133.99" y="1397.9" width="1.92" height="14.9" fill="#5F9EA0"/><rect x="1137.58" y="1412.8" width="1.92" height="14.9" fill="#CD661D"/><rect x="1137.58" y="1383" width="1.92" height="29.8" fill="#68228B"/><rect x="1139.37" y="1353.2" width="1.92" height="74.5" fill="#CD661D"/><rect x="1139.37" y="1338.3" width="1.92" height="14.9" fill="#B23AEE"/><rect x="1141.16" y="1412.8" width="1.92" height="14.9" fill="#CD661D"/><rect x="1141.16" y="1383" width="1.92" height="29.8" fill="#68228B"/><rect x="1142.95" y="1338.3" width="1.92" height="89.4" fill="#CD661D"/><rect x="1142.95" y="1308.5" width="1.92" height="29.8" fill="#5F9EA0"/><rect x="1144.74" y="1412.8" width="1.92" height="14.9" fill="#CD661D"/><rect x="1146.54" y="1412.8" width="1.92" height="14.9" fill="#CD661D"/><rect x="1148.33" y="1412.8" width="1.92" height="14.9" fill="#CD661D"/><rect x="1148.33" y="1397.9" width="1.92" height="14.9" fill="#68228B"/><rect x="1148.33" y="1383" width="1.92" height="14.9" fill="#5F9EA0"/><rect x="1150.12" y="1412.8" width="1.92" height="14.9" fill="#B3B3B3"/><rect x="1150.12" y="1397.9" width="1.92" height="14.9" fill="#5F9EA0"/><rect x="1151.91" y="1412.8" width="1.92" height="14.9" fill="#68228B"/><rect x="1151.91" y="1397.9" width="1.92" height="14.9" fill="#5F9EA0"/><rect x="1155.5" y="1397.9" width="1.92" height="29.8" fill="#5F9EA0"/><rect x="1157.29" y="1412.8" width="1.92" height="14.9" fill="#CD661D"/><rect x="1157.29" y="1397.9" width="1.92" height="14.9" fill="#B3B3B3"/><rect x="1157.29" y="1383" width="1.92" height="14.9" fill="#5F9EA0"/><rect x="1159.08" y="1412.8" width="1.92" height="14.9" fill="#B3B3B3"/><rect x="1159.08" y="1397.9" width="1.92" height="14.9" fill="#5F9EA0"/><rect x="1162.66" y="1278.7" width="1.92" height="149" fill="#CD661D"/><rect x="1162.66" y="1263.8" width="1.92" height="14.9" fill="#5F9EA0"/><rect x="1164.46" y="1412.8" width="1.92" height="14.9" fill="#68228B"/><rect x="1166.25" y="1412.8" width="1.92" height="14.9" fill="#B3B3B3"/><rect x="1168.04" y="1412.8" width="1.92" height="14.9" fill="#CD661D"/><rect x="1168.04" y="1397.9" width="1.92" height="14.9" fill="#B3B3B3"/><rect x="1169.83" y="1412.8" width="1.92" height="14.9" fill="#CD661D"/><rect x="1171.62" y="1412.8" width="1.92" height="14.9" fill="#CD661D"/><rect x="1171.62" y="1397.9" width="1.92" height="14.9" fill="#B3B3B3"/><rect x="1173.42" y="1412.8" width="1.92" height="14.9" fill="#5F9EA0"/><rect x="1175.21" y="1412.8" width="1.92" height="14.9" fill="#CD661D"/><rect x="1175.21" y="1397.9" width="1.92" height="14.9" fill="#68228B"/><rect x="1177" y="1412.8" width="1.92" height="14.9" fill="#B3B3B3"/><rect x="1178.79" y="1412.8" width="1.92" height="14.9" fill="#68228B"/><rect x="1180.58" y="1412.8" width="1.92" height="14.9" fill="#CD661D"/><rect x="1182.38" y="1412.8" width="1.92" height="14.9" fill="#B3B3B3"/><rect x="1184.17" y="1397.9" width="1.92" height="29.8" fill="#CD661D"/><rect x="1184.17" y="1323.4" width="1.92" height="74.5" fill="#68228B"/><rect x="1185.96" y="1412.8" width="1.92" height="14.9" fill="#68228B"/><rect x="1187.75" y="1412.8" width="1.92" height="14.9" fill="#CD661D"/><rect x="1189.54" y="1412.8" width="1.92" height="14.9" fill="#CD661D"/><rect x="1191.34" y="1397.9" width="1.92" height="29.8" fill="#CD661D"/><rect x="1191.34" y="1368.1" width="1.92" height="29.8" fill="#5F9EA0"/><rect x="1193.13" y="1412.8" width="1.92" height="14.9" fill="#CD661D"/><rect x="1194.92" y="1412.8" width="1.92" height="14.9" fill="#CD661D"/><rect x="1194.92" y="1397.9" width="1.92" height="14.9" fill="#5F9EA0"/><rect x="1196.71" y="1397.9" width="1.92" height="29.8" fill="#CD661D"/><rect x="1196.71" y="1383" width="1.92" height="14.9" fill="#68228B"/><rect x="1196.71" y="1353.2" width="1.92" height="29.8" fill="#B3B3B3"/><rect x="1198.5" y="1397.9" width="1.92" height="29.8" fill="#CD661D"/><rect x="1198.5" y="1383" width="1.92" height="14.9" fill="#5F9EA0"/><rect x="1200.3" y="1412.8" width="1.92" height="14.9" fill="#68228B"/><rect x="1200.3" y="1397.9" width="1.92" height="14.9" fill="#5F9EA0"/><rect x="1202.09" y="1412.8" width="1.92" height="14.9" fill="#CD661D"/><rect x="1203.88" y="1412.8" width="1.92" height="14.9" fill="#CD661D"/><rect x="1203.88" y="1397.9" width="1.92" height="14.9" fill="#B3B3B3"/><rect x="1205.67" y="1412.8" width="1.92" height="14.9" fill="#CD661D"/><rect x="1205.67" y="1397.9" width="1.92" height="14.9" fill="#5F9EA0"/><rect x="1207.46" y="1412.8" width="1.92" height="14.9" fill="#CD661D"/><rect x="1209.26" y="1412.8" width="1.92" height="14.9" fill="#CD661D"/><rect x="1209.26" y="1397.9" width="1.92" height="14.9" fill="#5F9EA0"/><rect x="1211.05" y="1383" width="1.92" height="44.7" fill="#68228B"/><rect x="1211.05" y="1353.2" width="1.92" height="29.8" fill="#5F9EA0"/><rect x="1212.84" y="1383" width="1.92" height="44.7" fill="#CD661D"/><rect x="1214.63" y="1412.8" width="1.92" height="14.9" fill="#CD661D"/><rect x="1214.63" y="1397.9" width="1.92" height="14.9" fill="#5F9EA0"/><rect x="1216.42" y="1412.8" width="1.92" height="14.9" fill="#5F9EA0"/><rect x="1218.22" y="1412.8" width="1.92" height="14.9" fill="#CD661D"/><rect x="1218.22" y="1397.9" width="1.92" height="14.9" fill="#68228B"/><rect x="1218.22" y="1383" width="1.92" height="14.9" fill="#B3B3B3"/><rect x="1218.22" y="1353.2" width="1.92" height="29.8" fill="#5F9EA0"/><rect x="1220.01" y="1383" width="1.92" height="44.7" fill="#CD661D"/><rect x="1220.01" y="1353.2" width="1.92" height="29.8" fill="#68228B"/><rect x="1223.59" y="1397.9" width="1.92" height="29.8" fill="#CD661D"/><rect x="1223.59" y="1383" width="1.92" height="14.9" fill="#68228B"/><rect x="1223.59" y="1368.1" width="1.92" height="14.9" fill="#B3B3B3"/><rect x="1223.59" y="1353.2" width="1.92" height="14.9" fill="#5F9EA0"/><rect x="1225.38" y="1412.8" width="1.92" height="14.9" fill="#CD661D"/><rect x="1225.38" y="1397.9" width="1.92" height="14.9" fill="#B3B3B3"/><rect x="1225.38" y="1383" width="1.92" height="14.9" fill="#5F9EA0"/><rect x="1227.18" y="1412.8" width="1.92" height="14.9" fill="#CD661D"/><rect x="1227.18" y="1397.9" width="1.92" height="14.9" fill="#68228B"/><rect x="1227.18" y="1383" width="1.92" height="14.9" fill="#5F9EA0"/><rect x="1227.18" y="1368.1" width="1.92" height="14.9" fill="#B23AEE"/><rect x="1228.97" y="1383" width="1.92" height="44.7" fill="#CD661D"/><rect x="1228.97" y="1368.1" width="1.92" height="14.9" fill="#68228B"/><rect x="1230.76" y="1368.1" width="1.92" height="59.6" fill="#CD661D"/><rect x="1230.76" y="1353.2" width="1.92" height="14.9" fill="#68228B"/><rect x="1232.55" y="1412.8" width="1.92" height="14.9" fill="#CD661D"/><rect x="1232.55" y="1397.9" width="1.92" height="14.9" fill="#5F9EA0"/><rect x="1234.34" y="1412.8" width="1.92" height="14.9" fill="#B3B3B3"/><rect x="1236.14" y="1397.9" width="1.92" height="29.8" fill="#CD661D"/><rect x="1236.14" y="1368.1" width="1.92" height="29.8" fill="#68228B"/><rect x="1237.93" y="1412.8" width="1.92" height="14.9" fill="#CD661D"/><rect x="1237.93" y="1383" width="1.92" height="29.8" fill="#5F9EA0"/><rect x="1239.72" y="1412.8" width="1.92" height="14.9" fill="#68228B"/><rect x="1241.51" y="1412.8" width="1.92" height="14.9" fill="#CD661D"/><rect x="1241.51" y="1397.9" width="1.92" height="14.9" fill="#68228B"/><rect x="1243.3" y="1397.9" width="1.92" height="29.8" fill="#5F9EA0"/><rect x="1245.1" y="1383" width="1.92" height="44.7" fill="#CD661D"/><rect x="1245.1" y="1353.2" width="1.92" height="29.8" fill="#68228B"/><rect x="1245.1" y="1338.3" width="1.92" height="14.9" fill="#5F9EA0"/><rect x="1246.89" y="1368.1" width="1.92" height="59.6" fill="#CD661D"/><rect x="1248.68" y="1412.8" width="1.92" height="14.9" fill="#5F9EA0"/><rect x="1250.47" y="1397.9" width="1.92" height="29.8" fill="#CD661D"/><rect x="1252.26" y="1412.8" width="1.92" height="14.9" fill="#CD661D"/><rect x="1252.26" y="1397.9" width="1.92" height="14.9" fill="#68228B"/><rect x="1254.06" y="1397.9" width="1.92" height="29.8" fill="#5F9EA0"/><rect x="1255.85" y="1412.8" width="1.92" height="14.9" fill="#CD661D"/><rect x="1257.64" y="1412.8" width="1.92" height="14.9" fill="#CD661D"/><rect x="1257.64" y="1397.9" width="1.92" height="14.9" fill="#B3B3B3"/><rect x="1257.64" y="1383" width="1.92" height="14.9" fill="#5F9EA0"/><rect x="1261.22" y="1412.8" width="1.92" height="14.9" fill="#5F9EA0"/><rect x="1263.02" y="1383" width="1.92" height="44.7" fill="#CD661D"/><rect x="1263.02" y="1368.1" width="1.92" height="14.9" fill="#5F9EA0"/><rect x="1264.81" y="1412.8" width="1.92" height="14.9" fill="#CD661D"/><rect x="1264.81" y="1397.9" width="1.92" height="14.9" fill="#5F9EA0"/><rect x="1266.6" y="1412.8" width="1.92" height="14.9" fill="#5F9EA0"/><rect x="1268.39" y="1412.8" width="1.92" height="14.9" fill="#CD661D"/><rect x="1270.18" y="1412.8" width="1.92" height="14.9" fill="#CD661D"/><rect x="1270.18" y="1397.9" width="1.92" height="14.9" fill="#68228B"/><rect x="1270.18" y="1383" width="1.92" height="14.9" fill="#B3B3B3"/><rect x="1271.98" y="1412.8" width="1.92" height="14.9" fill="#5F9EA0"/><rect x="1273.77" y="1412.8" width="1.92" height="14.9" fill="#68228B"/><rect x="1277.35" y="1412.8" width="1.92" height="14.9" fill="#CD661D"/><rect x="1277.35" y="1397.9" width="1.92" height="14.9" fill="#5F9EA0"/><rect x="1279.14" y="1397.9" width="1.92" height="29.8" fill="#68228B"/><rect x="1279.14" y="1383" width="1.92" height="14.9" fill="#5F9EA0"/><rect x="1280.94" y="1412.8" width="1.92" height="14.9" fill="#CD661D"/><rect x="1280.94" y="1397.9" width="1.92" height="14.9" fill="#68228B"/><rect x="1280.94" y="1383" width="1.92" height="14.9" fill="#5F9EA0"/><rect x="1282.73" y="1412.8" width="1.92" height="14.9" fill="#CD661D"/><rect x="1282.73" y="1397.9" width="1.92" height="14.9" fill="#68228B"/><rect x="1284.52" y="1412.8" width="1.92" height="14.9" fill="#5F9EA0"/><rect x="1286.31" y="1412.8" width="1.92" height="14.9" fill="#CD661D"/><rect x="1288.1" y="1412.8" width="1.92" height="14.9" fill="#CD661D"/><rect x="1289.9" y="1383" width="1.92" height="44.7" fill="#CD661D"/><rect x="1289.9" y="1368.1" width="1.92" height="14.9" fill="#68228B"/><rect x="1291.69" y="1412.8" width="1.92" height="14.9" fill="#CD661D"/><rect x="1291.69" y="1397.9" width="1.92" height="14.9" fill="#68228B"/><rect x="1291.69" y="1383" width="1.92" height="14.9" fill="#5F9EA0"/><rect x="1293.48" y="1412.8" width="1.92" height="14.9" fill="#68228B"/><rect x="1295.27" y="1412.8" width="1.92" height="14.9" fill="#68228B"/><rect x="1297.06" y="1412.8" width="1.92" height="14.9" fill="#CD661D"/><rect x="1297.06" y="1397.9" width="1.92" height="14.9" fill="#5F9EA0"/><rect x="1298.86" y="1412.8" width="1.92" height="14.9" fill="#B3B3B3"/><rect x="1300.65" y="1412.8" width="1.92" height="14.9" fill="#CD661D"/><rect x="1300.65" y="1397.9" width="1.92" height="14.9" fill="#68228B"/><rect x="1300.65" y="1383" width="1.92" height="14.9" fill="#B3B3B3"/><rect x="1302.44" y="1397.9" width="1.92" height="29.8" fill="#CD661D"/><rect x="1302.44" y="1383" width="1.92" height="14.9" fill="#68228B"/><rect x="1302.44" y="1353.2" width="1.92" height="29.8" fill="#5F9EA0"/><rect x="1304.23" y="1397.9" width="1.92" height="29.8" fill="#CD661D"/><rect x="1304.23" y="1383" width="1.92" height="14.9" fill="#68228B"/><rect x="1304.23" y="1338.3" width="1.92" height="44.7" fill="#5F9EA0"/><rect x="1306.02" y="1412.8" width="1.92" height="14.9" fill="#5F9EA0"/><rect x="1307.82" y="1412.8" width="1.92" height="14.9" fill="#CD661D"/><rect x="1309.61" y="1397.9" width="1.92" height="29.8" fill="#CD661D"/><rect x="1309.61" y="1383" width="1.92" height="14.9" fill="#5F9EA0"/><rect x="1311.4" y="1412.8" width="1.92" height="14.9" fill="#CD661D"/><rect x="1311.4" y="1397.9" width="1.92" height="14.9" fill="#68228B"/><rect x="1313.19" y="1383" width="1.92" height="44.7" fill="#68228B"/><rect x="1313.19" y="1368.1" width="1.92" height="14.9" fill="#5F9EA0"/><rect x="1314.98" y="1338.3" width="1.92" height="89.4" fill="#CD661D"/><rect x="1314.98" y="1323.4" width="1.92" height="14.9" fill="#5F9EA0"/><rect x="1316.78" y="1412.8" width="1.92" height="14.9" fill="#CD661D"/><rect x="1318.57" y="1383" width="1.92" height="44.7" fill="#CD661D"/><rect x="1318.57" y="1368.1" width="1.92" height="14.9" fill="#68228B"/><rect x="1318.57" y="1353.2" width="1.92" height="14.9" fill="#5F9EA0"/><rect x="1320.36" y="1412.8" width="1.92" height="14.9" fill="#CD661D"/><rect x="1320.36" y="1397.9" width="1.92" height="14.9" fill="#5F9EA0"/><rect x="1322.15" y="1397.9" width="1.92" height="29.8" fill="#CD661D"/><rect x="1322.15" y="1383" width="1.92" height="14.9" fill="#68228B"/><rect x="1323.94" y="1412.8" width="1.92" height="14.9" fill="#CD661D"/><rect x="1323.94" y="1397.9" width="1.92" height="14.9" fill="#68228B"/><rect x="1323.94" y="1383" width="1.92" height="14.9" fill="#B3B3B3"/><rect x="1323.94" y="1368.1" width="1.92" height="14.9" fill="#5F9EA0"/><rect x="1325.74" y="1412.8" width="1.92" height="14.9" fill="#5F9EA0"/><rect x="1327.53" y="1412.8" width="1.92" height="14.9" fill="#B3B3B3"/><rect x="1327.53" y="1397.9" width="1.92" height="14.9" fill="#5F9EA0"/><rect x="1329.32" y="1368.1" width="1.92" height="59.6" fill="#CD661D"/><rect x="1329.32" y="1353.2" width="1.92" height="14.9" fill="#68228B"/><rect x="1329.32" y="1338.3" width="1.92" height="14.9" fill="#B23AEE"/><rect x="1331.11" y="1368.1" width="1.92" height="59.6" fill="#CD661D"/><rect x="1331.11" y="1353.2" width="1.92" height="14.9" fill="#68228B"/><rect x="1332.9" y="1412.8" width="1.92" height="14.9" fill="#B3B3B3"/><rect x="1332.9" y="1383" width="1.92" height="29.8" fill="#5F9EA0"/><rect x="1334.7" y="1383" width="1.92" height="44.7" fill="#68228B"/><rect x="1334.7" y="1368.1" width="1.92" height="14.9" fill="#B3B3B3"/><rect x="1334.7" y="1338.3" width="1.92" height="29.8" fill="#5F9EA0"/><rect x="1336.49" y="1412.8" width="1.92" height="14.9" fill="#CD661D"/><rect x="1338.28" y="1412.8" width="1.92" height="14.9" fill="#CD661D"/><rect x="1340.07" y="1412.8" width="1.92" height="14.9" fill="#CD661D"/><rect x="1340.07" y="1397.9" width="1.92" height="14.9" fill="#5F9EA0"/><rect x="1341.86" y="1383" width="1.92" height="44.7" fill="#CD661D"/><rect x="1341.86" y="1323.4" width="1.92" height="59.6" fill="#5F9EA0"/><rect x="1343.66" y="1412.8" width="1.92" height="14.9" fill="#68228B"/><rect x="1343.66" y="1397.9" width="1.92" height="14.9" fill="#5F9EA0"/><rect x="1345.45" y="1397.9" width="1.92" height="29.8" fill="#CD661D"/><rect x="1345.45" y="1383" width="1.92" height="14.9" fill="#5F9EA0"/><rect x="1347.24" y="1383" width="1.92" height="44.7" fill="#CD661D"/><rect x="1347.24" y="1368.1" width="1.92" height="14.9" fill="#68228B"/><rect x="1347.24" y="1338.3" width="1.92" height="29.8" fill="#5F9EA0"/><rect x="1349.03" y="1397.9" width="1.92" height="29.8" fill="#CD661D"/><rect x="1349.03" y="1353.2" width="1.92" height="44.7" fill="#5F9EA0"/><rect x="1350.82" y="1412.8" width="1.92" height="14.9" fill="#CD661D"/><rect x="1352.62" y="1412.8" width="1.92" height="14.9" fill="#CD661D"/><rect x="1354.41" y="1412.8" width="1.92" height="14.9" fill="#68228B"/><rect x="1356.2" y="1412.8" width="1.92" height="14.9" fill="#CD661D"/><rect x="1356.2" y="1397.9" width="1.92" height="14.9" fill="#68228B"/><rect x="1356.2" y="1368.1" width="1.92" height="29.8" fill="#5F9EA0"/><rect x="1357.99" y="1383" width="1.92" height="44.7" fill="#CD661D"/><rect x="1357.99" y="1353.2" width="1.92" height="29.8" fill="#68228B"/><rect x="1359.78" y="1397.9" width="1.92" height="29.8" fill="#CD661D"/><rect x="1359.78" y="1383" width="1.92" height="14.9" fill="#5F9EA0"/><rect x="1361.58" y="1412.8" width="1.92" height="14.9" fill="#5F9EA0"/><rect x="1365.16" y="1353.2" width="1.92" height="74.5" fill="#CD661D"/><rect x="1365.16" y="1323.4" width="1.92" height="29.8" fill="#5F9EA0"/><rect x="1370.54" y="1353.2" width="1.92" height="74.5" fill="#CD661D"/><rect x="1372.33" y="1412.8" width="1.92" height="14.9" fill="#CD661D"/><rect x="1372.33" y="1397.9" width="1.92" height="14.9" fill="#68228B"/><rect x="1372.33" y="1383" width="1.92" height="14.9" fill="#B3B3B3"/><rect x="1374.12" y="1412.8" width="1.92" height="14.9" fill="#5F9EA0"/><rect x="1375.91" y="1412.8" width="1.92" height="14.9" fill="#CD661D"/><rect x="1377.7" y="1412.8" width="1.92" height="14.9" fill="#CD661D"/><rect x="1377.7" y="1397.9" width="1.92" height="14.9" fill="#68228B"/><rect x="1379.5" y="1308.5" width="1.92" height="119.2" fill="#CD661D"/><rect x="1379.5" y="1278.7" width="1.92" height="29.8" fill="#5F9EA0"/><rect x="1383.08" y="1412.8" width="1.92" height="14.9" fill="#CD661D"/><rect x="1383.08" y="1397.9" width="1.92" height="14.9" fill="#68228B"/><rect x="1384.87" y="1412.8" width="1.92" height="14.9" fill="#5F9EA0"/><rect x="1386.66" y="1412.8" width="1.92" height="14.9" fill="#5F9EA0"/><rect x="1388.46" y="1412.8" width="1.92" height="14.9" fill="#B3B3B3"/><rect x="1390.25" y="1412.8" width="1.92" height="14.9" fill="#CD661D"/><rect x="1392.04" y="1412.8" width="1.92" height="14.9" fill="#68228B"/><rect x="1393.83" y="1397.9" width="1.92" height="29.8" fill="#CD661D"/><rect x="1395.62" y="1412.8" width="1.92" height="14.9" fill="#CD661D"/><rect x="1397.42" y="1412.8" width="1.92" height="14.9" fill="#68228B"/><rect x="1397.42" y="1368.1" width="1.92" height="44.7" fill="#5F9EA0"/><rect x="1399.21" y="1412.8" width="1.92" height="14.9" fill="#68228B"/><rect x="1399.21" y="1397.9" width="1.92" height="14.9" fill="#5F9EA0"/><rect x="1401" y="1412.8" width="1.92" height="14.9" fill="#CD661D"/><rect x="1401" y="1397.9" width="1.92" height="14.9" fill="#B3B3B3"/><rect x="1402.79" y="1397.9" width="1.92" height="29.8" fill="#CD661D"/><rect x="1402.79" y="1383" width="1.92" height="14.9" fill="#68228B"/><rect x="1402.79" y="1338.3" width="1.92" height="44.7" fill="#5F9EA0"/><rect x="1404.58" y="1397.9" width="1.92" height="29.8" fill="#CD661D"/><rect x="1408.17" y="1397.9" width="1.92" height="29.8" fill="#CD661D"/><rect x="1411.75" y="1412.8" width="1.92" height="14.9" fill="#68228B"/><rect x="1411.75" y="1397.9" width="1.92" height="14.9" fill="#5F9EA0"/><rect x="1413.54" y="1412.8" width="1.92" height="14.9" fill="#CD661D"/><rect x="1413.54" y="1383" width="1.92" height="29.8" fill="#68228B"/><rect x="1413.54" y="1338.3" width="1.92" height="44.7" fill="#5F9EA0"/><rect x="1415.34" y="1397.9" width="1.92" height="29.8" fill="#CD661D"/><rect x="1415.34" y="1383" width="1.92" height="14.9" fill="#68228B"/><rect x="1417.13" y="1412.8" width="1.92" height="14.9" fill="#5F9EA0"/><rect x="1418.92" y="1397.9" width="1.92" height="29.8" fill="#CD661D"/><rect x="1418.92" y="1353.2" width="1.92" height="44.7" fill="#5F9EA0"/><rect x="1422.5" y="1412.8" width="1.92" height="14.9" fill="#CD661D"/><rect x="1422.5" y="1383" width="1.92" height="29.8" fill="#68228B"/><rect x="1422.5" y="1368.1" width="1.92" height="14.9" fill="#B3B3B3"/><rect x="1424.3" y="1412.8" width="1.92" height="14.9" fill="#CD661D"/><rect x="1426.09" y="1412.8" width="1.92" height="14.9" fill="#5F9EA0"/><rect x="1429.67" y="1412.8" width="1.92" height="14.9" fill="#CD661D"/><rect x="1431.46" y="1412.8" width="1.92" height="14.9" fill="#5F9EA0"/><rect x="1433.26" y="1397.9" width="1.92" height="29.8" fill="#5F9EA0"/><rect x="1435.05" y="1397.9" width="1.92" height="29.8" fill="#CD661D"/><rect x="1435.05" y="1368.1" width="1.92" height="29.8" fill="#68228B"/><rect x="1435.05" y="1338.3" width="1.92" height="29.8" fill="#5F9EA0"/><rect x="1436.84" y="1397.9" width="1.92" height="29.8" fill="#CD661D"/><rect x="1438.63" y="1368.1" width="1.92" height="59.6" fill="#CD661D"/><rect x="1438.63" y="1353.2" width="1.92" height="14.9" fill="#68228B"/><rect x="1440.42" y="1368.1" width="1.92" height="59.6" fill="#CD661D"/><rect x="1440.42" y="1353.2" width="1.92" height="14.9" fill="#68228B"/><rect x="1440.42" y="1338.3" width="1.92" height="14.9" fill="#5F9EA0"/><rect x="1442.22" y="1383" width="1.92" height="44.7" fill="#CD661D"/><rect x="1442.22" y="1338.3" width="1.92" height="44.7" fill="#5F9EA0"/><rect x="1444.01" y="1412.8" width="1.92" height="14.9" fill="#68228B"/><rect x="1444.01" y="1397.9" width="1.92" height="14.9" fill="#5F9EA0"/><rect x="1445.8" y="1412.8" width="1.92" height="14.9" fill="#68228B"/><rect x="1445.8" y="1397.9" width="1.92" height="14.9" fill="#5F9EA0"/><rect x="1445.8" y="1383" width="1.92" height="14.9" fill="#B23AEE"/><rect x="1447.59" y="1397.9" width="1.92" height="29.8" fill="#CD661D"/><rect x="1447.59" y="1308.5" width="1.92" height="89.4" fill="#68228B"/><rect x="1447.59" y="1293.6" width="1.92" height="14.9" fill="#5F9EA0"/><rect x="1449.38" y="1412.8" width="1.92" height="14.9" fill="#CD661D"/><rect x="1451.18" y="1397.9" width="1.92" height="29.8" fill="#5F9EA0"/><rect x="1454.76" y="1412.8" width="1.92" height="14.9" fill="#5F9EA0"/><rect x="1456.55" y="1412.8" width="1.92" height="14.9" fill="#CD661D"/><rect x="1456.55" y="1397.9" width="1.92" height="14.9" fill="#68228B"/><rect x="1456.55" y="1383" width="1.92" height="14.9" fill="#5F9EA0"/><rect x="1458.34" y="1412.8" width="1.92" height="14.9" fill="#68228B"/><rect x="1458.34" y="1397.9" width="1.92" height="14.9" fill="#B3B3B3"/><rect x="1458.34" y="1383" width="1.92" height="14.9" fill="#5F9EA0"/><rect x="1460.14" y="1412.8" width="1.92" height="14.9" fill="#CD661D"/><rect x="1465.51" y="1412.8" width="1.92" height="14.9" fill="#5F9EA0"/><rect x="1467.3" y="1368.1" width="1.92" height="59.6" fill="#CD661D"/><rect x="1467.3" y="1323.4" width="1.92" height="44.7" fill="#68228B"/><rect x="1470.89" y="1412.8" width="1.92" height="14.9" fill="#5F9EA0"/><rect x="1476.26" y="1397.9" width="1.92" height="29.8" fill="#CD661D"/><rect x="1476.26" y="1383" width="1.92" height="14.9" fill="#B23AEE"/><rect x="1478.06" y="1412.8" width="1.92" height="14.9" fill="#CD661D"/><rect x="1478.06" y="1397.9" width="1.92" height="14.9" fill="#68228B"/><rect x="1478.06" y="1383" width="1.92" height="14.9" fill="#B3B3B3"/><rect x="1479.85" y="1412.8" width="1.92" height="14.9" fill="#68228B"/><rect x="1479.85" y="1397.9" width="1.92" height="14.9" fill="#B3B3B3"/><rect x="1481.64" y="1412.8" width="1.92" height="14.9" fill="#B3B3B3"/><rect x="1481.64" y="1397.9" width="1.92" height="14.9" fill="#5F9EA0"/><rect x="1483.43" y="1412.8" width="1.92" height="14.9" fill="#CD661D"/><rect x="1483.43" y="1383" width="1.92" height="29.8" fill="#B3B3B3"/><rect x="1485.22" y="1368.1" width="1.92" height="59.6" fill="#CD661D"/><rect x="1485.22" y="1353.2" width="1.92" height="14.9" fill="#68228B"/><rect x="1485.22" y="1338.3" width="1.92" height="14.9" fill="#5F9EA0"/><rect x="1487.02" y="1412.8" width="1.92" height="14.9" fill="#CD661D"/><rect x="1488.81" y="1412.8" width="1.92" height="14.9" fill="#68228B"/><rect x="1490.6" y="1412.8" width="1.92" height="14.9" fill="#CD661D"/><rect x="1490.6" y="1397.9" width="1.92" height="14.9" fill="#68228B"/><rect x="1490.6" y="1383" width="1.92" height="14.9" fill="#B3B3B3"/><rect x="1492.39" y="1412.8" width="1.92" height="14.9" fill="#CD661D"/><rect x="1492.39" y="1397.9" width="1.92" height="14.9" fill="#B23AEE"/><rect x="1495.98" y="1383" width="1.92" height="44.7" fill="#CD661D"/><rect x="1495.98" y="1368.1" width="1.92" height="14.9" fill="#68228B"/><rect x="1497.77" y="1412.8" width="1.92" height="14.9" fill="#CD661D"/><rect x="1497.77" y="1397.9" width="1.92" height="14.9" fill="#5F9EA0"/><rect x="1499.56" y="1412.8" width="1.92" height="14.9" fill="#B3B3B3"/><rect x="1501.35" y="1412.8" width="1.92" height="14.9" fill="#CD661D"/><rect x="1501.35" y="1397.9" width="1.92" height="14.9" fill="#5F9EA0"/><rect x="1503.14" y="1397.9" width="1.92" height="29.8" fill="#CD661D"/><rect x="1503.14" y="1368.1" width="1.92" height="29.8" fill="#68228B"/><rect x="1503.14" y="1353.2" width="1.92" height="14.9" fill="#5F9EA0"/><rect x="1504.94" y="1397.9" width="1.92" height="29.8" fill="#CD661D"/><rect x="1504.94" y="1383" width="1.92" height="14.9" fill="#68228B"/><rect x="1506.73" y="1412.8" width="1.92" height="14.9" fill="#5F9EA0"/><rect x="1508.52" y="1412.8" width="1.92" height="14.9" fill="#5F9EA0"/><rect x="1508.52" y="1397.9" width="1.92" height="14.9" fill="#B23AEE"/><rect x="1510.31" y="1412.8" width="1.92" height="14.9" fill="#CD661D"/><rect x="1510.31" y="1383" width="1.92" height="29.8" fill="#5F9EA0"/><rect x="1512.1" y="1412.8" width="1.92" height="14.9" fill="#CD661D"/><rect x="1512.1" y="1397.9" width="1.92" height="14.9" fill="#68228B"/><rect x="1512.1" y="1383" width="1.92" height="14.9" fill="#5F9EA0"/><rect x="1513.9" y="1412.8" width="1.92" height="14.9" fill="#5F9EA0"/><rect x="1515.69" y="1412.8" width="1.92" height="14.9" fill="#68228B"/><rect x="1517.48" y="1412.8" width="1.92" height="14.9" fill="#CD661D"/><rect x="1517.48" y="1397.9" width="1.92" height="14.9" fill="#B3B3B3"/><rect x="1519.27" y="1412.8" width="1.92" height="14.9" fill="#CD661D"/><rect x="1519.27" y="1397.9" width="1.92" height="14.9" fill="#B3B3B3"/><rect x="1521.06" y="1412.8" width="1.92" height="14.9" fill="#CD661D"/><rect x="1522.86" y="1412.8" width="1.92" height="14.9" fill="#CD661D"/><rect x="1522.86" y="1397.9" width="1.92" height="14.9" fill="#B3B3B3"/><rect x="1524.65" y="1368.1" width="1.92" height="59.6" fill="#CD661D"/><rect x="1524.65" y="1353.2" width="1.92" height="14.9" fill="#68228B"/><rect x="1526.44" y="1412.8" width="1.92" height="14.9" fill="#5F9EA0"/><rect x="1528.23" y="1412.8" width="1.92" height="14.9" fill="#68228B"/><rect x="1530.02" y="1308.5" width="1.92" height="119.2" fill="#CD661D"/><rect x="1530.02" y="1293.6" width="1.92" height="14.9" fill="#5F9EA0"/><rect x="1531.82" y="1412.8" width="1.92" height="14.9" fill="#CD661D"/><rect x="1533.61" y="1412.8" width="1.92" height="14.9" fill="#5F9EA0"/><rect x="1535.4" y="1412.8" width="1.92" height="14.9" fill="#CD661D"/><rect x="1535.4" y="1397.9" width="1.92" height="14.9" fill="#5F9EA0"/><rect x="1537.19" y="1397.9" width="1.92" height="29.8" fill="#68228B"/><rect x="1538.98" y="1412.8" width="1.92" height="14.9" fill="#CD661D"/><rect x="1540.78" y="1412.8" width="1.92" height="14.9" fill="#68228B"/><rect x="1540.78" y="1397.9" width="1.92" height="14.9" fill="#5F9EA0"/><rect x="1542.57" y="1397.9" width="1.92" height="29.8" fill="#CD661D"/><rect x="1542.57" y="1323.4" width="1.92" height="74.5" fill="#5F9EA0"/><rect x="1544.36" y="1412.8" width="1.92" height="14.9" fill="#CD661D"/><rect x="1544.36" y="1368.1" width="1.92" height="44.7" fill="#68228B"/><rect x="1544.36" y="1293.6" width="1.92" height="74.5" fill="#5F9EA0"/><rect x="1546.15" y="1412.8" width="1.92" height="14.9" fill="#CD661D"/><rect x="1546.15" y="1383" width="1.92" height="29.8" fill="#68228B"/><rect x="1546.15" y="1368.1" width="1.92" height="14.9" fill="#B3B3B3"/><rect x="1549.74" y="1412.8" width="1.92" height="14.9" fill="#B3B3B3"/><rect x="1551.53" y="1412.8" width="1.92" height="14.9" fill="#CD661D"/><rect x="1553.32" y="1397.9" width="1.92" height="29.8" fill="#CD661D"/><rect x="1555.11" y="1412.8" width="1.92" height="14.9" fill="#CD661D"/><rect x="1556.9" y="1412.8" width="1.92" height="14.9" fill="#5F9EA0"/><rect x="1558.7" y="1412.8" width="1.92" height="14.9" fill="#68228B"/><rect x="1558.7" y="1397.9" width="1.92" height="14.9" fill="#5F9EA0"/><rect x="1558.7" y="1383" width="1.92" height="14.9" fill="#B23AEE"/><rect x="1560.49" y="1412.8" width="1.92" height="14.9" fill="#68228B"/><rect x="1560.49" y="1397.9" width="1.92" height="14.9" fill="#5F9EA0"/><rect x="1562.28" y="1368.1" width="1.92" height="59.6" fill="#5F9EA0"/><rect x="1565.86" y="1412.8" width="1.92" height="14.9" fill="#CD661D"/><rect x="1565.86" y="1383" width="1.92" height="29.8" fill="#68228B"/><rect x="1565.86" y="1338.3" width="1.92" height="44.7" fill="#5F9EA0"/><rect x="1567.66" y="1397.9" width="1.92" height="29.8" fill="#5F9EA0"/><rect x="1569.45" y="1397.9" width="1.92" height="29.8" fill="#CD661D"/><rect x="1571.24" y="1397.9" width="1.92" height="29.8" fill="#CD661D"/><rect x="1571.24" y="1383" width="1.92" height="14.9" fill="#5F9EA0"/><rect x="1573.03" y="1412.8" width="1.92" height="14.9" fill="#CD661D"/><rect x="1573.03" y="1368.1" width="1.92" height="44.7" fill="#68228B"/><rect x="1573.03" y="1353.2" width="1.92" height="14.9" fill="#5F9EA0"/><rect x="1573.03" y="1293.6" width="1.92" height="59.6" fill="#B23AEE"/><rect x="1574.82" y="1397.9" width="1.92" height="29.8" fill="#CD661D"/><rect x="1576.62" y="1412.8" width="1.92" height="14.9" fill="#CD661D"/><rect x="1576.62" y="1397.9" width="1.92" height="14.9" fill="#68228B"/><rect x="1576.62" y="1368.1" width="1.92" height="29.8" fill="#5F9EA0"/><rect x="1580.2" y="1397.9" width="1.92" height="29.8" fill="#5F9EA0"/><rect x="1580.2" y="1383" width="1.92" height="14.9" fill="#B23AEE"/><rect x="1581.99" y="1412.8" width="1.92" height="14.9" fill="#5F9EA0"/><rect x="1583.78" y="1412.8" width="1.92" height="14.9" fill="#5F9EA0"/><rect x="1583.78" y="1397.9" width="1.92" height="14.9" fill="#B23AEE"/><rect x="1585.58" y="1412.8" width="1.92" height="14.9" fill="#CD661D"/><rect x="1587.37" y="1412.8" width="1.92" height="14.9" fill="#5F9EA0"/><rect x="1589.16" y="1412.8" width="1.92" height="14.9" fill="#CD661D"/><rect x="1589.16" y="1397.9" width="1.92" height="14.9" fill="#68228B"/><rect x="1590.95" y="1412.8" width="1.92" height="14.9" fill="#B23AEE"/><rect x="1592.74" y="1412.8" width="1.92" height="14.9" fill="#CD661D"/><rect x="1592.74" y="1397.9" width="1.92" height="14.9" fill="#68228B"/><rect x="1592.74" y="1368.1" width="1.92" height="29.8" fill="#5F9EA0"/><rect x="1594.54" y="1412.8" width="1.92" height="14.9" fill="#CD661D"/><rect x="1594.54" y="1338.3" width="1.92" height="74.5" fill="#5F9EA0"/><rect x="1596.33" y="1412.8" width="1.92" height="14.9" fill="#5F9EA0"/><rect x="1598.12" y="1397.9" width="1.92" height="29.8" fill="#5F9EA0"/><rect x="1599.91" y="1412.8" width="1.92" height="14.9" fill="#5F9EA0"/><rect x="1601.7" y="1412.8" width="1.92" height="14.9" fill="#68228B"/><rect x="1601.7" y="1397.9" width="1.92" height="14.9" fill="#5F9EA0"/><rect x="1603.5" y="1412.8" width="1.92" height="14.9" fill="#CD661D"/><rect x="1603.5" y="1308.5" width="1.92" height="104.3" fill="#5F9EA0"/><rect x="1603.5" y="1219.1" width="1.92" height="89.4" fill="#B23AEE"/><rect x="1605.29" y="1412.8" width="1.92" height="14.9" fill="#CD661D"/><rect x="1607.08" y="1397.9" width="1.92" height="29.8" fill="#CD661D"/><rect x="1607.08" y="1338.3" width="1.92" height="59.6" fill="#5F9EA0"/><rect x="1608.87" y="1412.8" width="1.92" height="14.9" fill="#68228B"/><rect x="1610.66" y="1412.8" width="1.92" height="14.9" fill="#B23AEE"/><rect x="1612.46" y="1412.8" width="1.92" height="14.9" fill="#CD661D"/><rect x="1614.25" y="1397.9" width="1.92" height="29.8" fill="#CD661D"/><rect x="1614.25" y="1338.3" width="1.92" height="59.6" fill="#5F9EA0"/><rect x="1616.04" y="1412.8" width="1.92" height="14.9" fill="#5F9EA0"/><rect x="1617.83" y="1412.8" width="1.92" height="14.9" fill="#68228B"/><rect x="1619.62" y="1412.8" width="1.92" height="14.9" fill="#68228B"/><rect x="1621.42" y="1412.8" width="1.92" height="14.9" fill="#68228B"/><rect x="1623.21" y="1412.8" width="1.92" height="14.9" fill="#5F9EA0"/><rect x="1625" y="1412.8" width="1.92" height="14.9" fill="#CD661D"/><rect x="1625" y="1397.9" width="1.92" height="14.9" fill="#68228B"/><rect x="1625" y="1353.2" width="1.92" height="44.7" fill="#B23AEE"/><rect x="1628.58" y="1412.8" width="1.92" height="14.9" fill="#CD661D"/><rect x="1628.58" y="1368.1" width="1.92" height="44.7" fill="#68228B"/><rect x="1628.58" y="1353.2" width="1.92" height="14.9" fill="#B3B3B3"/><rect x="1628.58" y="1338.3" width="1.92" height="14.9" fill="#B23AEE"/><rect x="1632.17" y="1412.8" width="1.92" height="14.9" fill="#CD661D"/><rect x="1633.96" y="1412.8" width="1.92" height="14.9" fill="#CD661D"/><rect x="1633.96" y="1397.9" width="1.92" height="14.9" fill="#5F9EA0"/><rect x="1635.75" y="1383" width="1.92" height="44.7" fill="#CD661D"/><rect x="1635.75" y="1353.2" width="1.92" height="29.8" fill="#68228B"/><rect x="1635.75" y="1338.3" width="1.92" height="14.9" fill="#5F9EA0"/><rect x="1637.54" y="1397.9" width="1.92" height="29.8" fill="#CD661D"/><rect x="1637.54" y="1383" width="1.92" height="14.9" fill="#68228B"/><rect x="1637.54" y="1353.2" width="1.92" height="29.8" fill="#5F9EA0"/><rect x="1639.34" y="1368.1" width="1.92" height="59.6" fill="#CD661D"/><rect x="1639.34" y="1323.4" width="1.92" height="44.7" fill="#5F9EA0"/><rect x="1644.71" y="1412.8" width="1.92" height="14.9" fill="#CD661D"/><rect x="1644.71" y="1248.9" width="1.92" height="163.9" fill="#5F9EA0"/><rect x="1646.5" y="1412.8" width="1.92" height="14.9" fill="#68228B"/><rect x="1646.5" y="1397.9" width="1.92" height="14.9" fill="#B23AEE"/><rect x="1648.3" y="1412.8" width="1.92" height="14.9" fill="#CD661D"/><rect x="1650.09" y="1412.8" width="1.92" height="14.9" fill="#68228B"/><rect x="1650.09" y="1248.9" width="1.92" height="163.9" fill="#5F9EA0"/><rect x="1651.88" y="1412.8" width="1.92" height="14.9" fill="#B23AEE"/><rect x="1653.67" y="1412.8" width="1.92" height="14.9" fill="#CD661D"/><rect x="1653.67" y="1219.1" width="1.92" height="193.7" fill="#5F9EA0"/><rect x="1655.46" y="1412.8" width="1.92" height="14.9" fill="#68228B"/><rect x="1655.46" y="1397.9" width="1.92" height="14.9" fill="#5F9EA0"/><rect x="1657.26" y="1397.9" width="1.92" height="29.8" fill="#CD661D"/><rect x="1659.05" y="1412.8" width="1.92" height="14.9" fill="#CD661D"/><rect x="1659.05" y="1338.3" width="1.92" height="74.5" fill="#5F9EA0"/><rect x="1660.84" y="1412.8" width="1.92" height="14.9" fill="#68228B"/><rect x="1662.63" y="1412.8" width="1.92" height="14.9" fill="#CD661D"/><rect x="1664.42" y="1397.9" width="1.92" height="29.8" fill="#CD661D"/><rect x="1664.42" y="1383" width="1.92" height="14.9" fill="#68228B"/><rect x="1664.42" y="1338.3" width="1.92" height="44.7" fill="#5F9EA0"/><rect x="1666.22" y="1412.8" width="1.92" height="14.9" fill="#CD661D"/><rect x="1666.22" y="1397.9" width="1.92" height="14.9" fill="#B23AEE"/><rect x="1668.01" y="1412.8" width="1.92" height="14.9" fill="#5F9EA0"/><rect x="1669.8" y="1397.9" width="1.92" height="29.8" fill="#CD661D"/><rect x="1669.8" y="1368.1" width="1.92" height="29.8" fill="#5F9EA0"/><rect x="1669.8" y="1338.3" width="1.92" height="29.8" fill="#B23AEE"/><rect x="1671.59" y="1412.8" width="1.92" height="14.9" fill="#B3B3B3"/><rect x="1673.38" y="1412.8" width="1.92" height="14.9" fill="#CD661D"/><rect x="1673.38" y="1397.9" width="1.92" height="14.9" fill="#5F9EA0"/><rect x="1675.18" y="1412.8" width="1.92" height="14.9" fill="#68228B"/><rect x="1675.18" y="1397.9" width="1.92" height="14.9" fill="#B3B3B3"/><rect x="1675.18" y="1383" width="1.92" height="14.9" fill="#5F9EA0"/><rect x="1676.97" y="1397.9" width="1.92" height="29.8" fill="#CD661D"/><rect x="1678.76" y="1353.2" width="1.92" height="74.5" fill="#CD661D"/><rect x="1680.55" y="1412.8" width="1.92" height="14.9" fill="#CD661D"/><rect x="1682.34" y="1397.9" width="1.92" height="29.8" fill="#CD661D"/><rect x="1682.34" y="1383" width="1.92" height="14.9" fill="#68228B"/><rect x="1682.34" y="1353.2" width="1.92" height="29.8" fill="#5F9EA0"/><rect x="1682.34" y="1338.3" width="1.92" height="14.9" fill="#B23AEE"/><rect x="1684.14" y="1412.8" width="1.92" height="14.9" fill="#68228B"/><rect x="1687.72" y="1412.8" width="1.92" height="14.9" fill="#CD661D"/><rect x="1687.72" y="1308.5" width="1.92" height="104.3" fill="#68228B"/><rect x="1689.51" y="1412.8" width="1.92" height="14.9" fill="#CD661D"/><rect x="1691.3" y="1412.8" width="1.92" height="14.9" fill="#5F9EA0"/><rect x="1693.1" y="1412.8" width="1.92" height="14.9" fill="#CD661D"/><rect x="1693.1" y="1397.9" width="1.92" height="14.9" fill="#68228B"/><rect x="1693.1" y="1383" width="1.92" height="14.9" fill="#B3B3B3"/><rect x="1694.89" y="1412.8" width="1.92" height="14.9" fill="#5F9EA0"/><rect x="1696.68" y="1397.9" width="1.92" height="29.8" fill="#CD661D"/><rect x="1696.68" y="1308.5" width="1.92" height="89.4" fill="#68228B"/><rect x="1698.47" y="1412.8" width="1.92" height="14.9" fill="#CD661D"/><rect x="1698.47" y="1397.9" width="1.92" height="14.9" fill="#B23AEE"/><rect x="1703.85" y="1412.8" width="1.92" height="14.9" fill="#68228B"/><rect x="1707.43" y="1412.8" width="1.92" height="14.9" fill="#CD661D"/><rect x="1707.43" y="1383" width="1.92" height="29.8" fill="#5F9EA0"/><rect x="1709.22" y="1412.8" width="1.92" height="14.9" fill="#68228B"/><rect x="1711.02" y="1412.8" width="1.92" height="14.9" fill="#CD661D"/><rect x="1711.02" y="1397.9" width="1.92" height="14.9" fill="#68228B"/><rect x="1712.81" y="1383" width="1.92" height="44.7" fill="#CD661D"/><rect x="1712.81" y="1234" width="1.92" height="149" fill="#68228B"/><rect x="1714.6" y="1412.8" width="1.92" height="14.9" fill="#CD661D"/><rect x="1714.6" y="1397.9" width="1.92" height="14.9" fill="#B3B3B3"/><rect x="1714.6" y="1383" width="1.92" height="14.9" fill="#5F9EA0"/><rect x="1716.39" y="1383" width="1.92" height="44.7" fill="#CD661D"/><rect x="1716.39" y="1353.2" width="1.92" height="29.8" fill="#68228B"/><rect x="1721.77" y="1412.8" width="1.92" height="14.9" fill="#CD661D"/><rect x="1721.77" y="1397.9" width="1.92" height="14.9" fill="#B3B3B3"/><rect x="1721.77" y="1368.1" width="1.92" height="29.8" fill="#5F9EA0"/><rect x="1723.56" y="1397.9" width="1.92" height="29.8" fill="#CD661D"/><rect x="1723.56" y="1368.1" width="1.92" height="29.8" fill="#68228B"/><rect x="1723.56" y="1338.3" width="1.92" height="29.8" fill="#5F9EA0"/><rect x="1725.35" y="1412.8" width="1.92" height="14.9" fill="#CD661D"/><rect x="1727.14" y="1412.8" width="1.92" height="14.9" fill="#CD661D"/><rect x="1728.94" y="1412.8" width="1.92" height="14.9" fill="#CD661D"/><rect x="1728.94" y="1397.9" width="1.92" height="14.9" fill="#B3B3B3"/><rect x="1732.52" y="1412.8" width="1.92" height="14.9" fill="#CD661D"/><rect x="1734.31" y="1412.8" width="1.92" height="14.9" fill="#CD661D"/><rect x="1734.31" y="1397.9" width="1.92" height="14.9" fill="#B3B3B3"/><rect x="1736.1" y="1397.9" width="1.92" height="29.8" fill="#CD661D"/><rect x="1736.1" y="1383" width="1.92" height="14.9" fill="#B3B3B3"/><rect x="1739.69" y="1397.9" width="1.92" height="29.8" fill="#5F9EA0"/><rect x="1741.48" y="1412.8" width="1.92" height="14.9" fill="#5F9EA0"/><rect x="1743.27" y="1412.8" width="1.92" height="14.9" fill="#5F9EA0"/><rect x="1748.65" y="1412.8" width="1.92" height="14.9" fill="#CD661D"/><rect x="1750.44" y="1397.9" width="1.92" height="29.8" fill="#CD661D"/><rect x="1750.44" y="1383" width="1.92" height="14.9" fill="#68228B"/><rect x="1750.44" y="1353.2" width="1.92" height="29.8" fill="#5F9EA0"/><rect x="1752.23" y="1412.8" width="1.92" height="14.9" fill="#CD661D"/><rect x="1754.02" y="1353.2" width="1.92" height="74.5" fill="#CD661D"/><rect x="1754.02" y="1338.3" width="1.92" height="14.9" fill="#5F9EA0"/><rect x="1755.82" y="1397.9" width="1.92" height="29.8" fill="#CD661D"/><rect x="1755.82" y="1383" width="1.92" height="14.9" fill="#68228B"/><rect x="1759.4" y="1412.8" width="1.92" height="14.9" fill="#5F9EA0"/><rect x="1761.19" y="1412.8" width="1.92" height="14.9" fill="#CD661D"/><rect x="1762.98" y="1412.8" width="1.92" height="14.9" fill="#CD661D"/><rect x="1764.78" y="1397.9" width="1.92" height="29.8" fill="#CD661D"/><rect x="1764.78" y="1383" width="1.92" height="14.9" fill="#68228B"/><rect x="1764.78" y="1368.1" width="1.92" height="14.9" fill="#5F9EA0"/><rect x="1766.57" y="1412.8" width="1.92" height="14.9" fill="#CD661D"/><rect x="1766.57" y="1397.9" width="1.92" height="14.9" fill="#5F9EA0"/><rect x="1768.36" y="1383" width="1.92" height="44.7" fill="#CD661D"/><rect x="1768.36" y="1368.1" width="1.92" height="14.9" fill="#68228B"/><rect x="1768.36" y="1353.2" width="1.92" height="14.9" fill="#5F9EA0"/><rect x="1768.36" y="1338.3" width="1.92" height="14.9" fill="#B23AEE"/><rect x="1771.94" y="1412.8" width="1.92" height="14.9" fill="#5F9EA0"/><rect x="1773.74" y="1383" width="1.92" height="44.7" fill="#CD661D"/><rect x="1773.74" y="1353.2" width="1.92" height="29.8" fill="#5F9EA0"/><rect x="1775.53" y="1412.8" width="1.92" height="14.9" fill="#CD661D"/><rect x="1779.11" y="1397.9" width="1.92" height="29.8" fill="#CD661D"/><rect x="1779.11" y="1368.1" width="1.92" height="29.8" fill="#5F9EA0"/><rect x="1782.7" y="1412.8" width="1.92" height="14.9" fill="#B23AEE"/><rect x="1788.07" y="1412.8" width="1.92" height="14.9" fill="#5F9EA0"/><rect x="1789.86" y="1412.8" width="1.92" height="14.9" fill="#5F9EA0"/><rect x="1793.45" y="1412.8" width="1.92" height="14.9" fill="#CD661D"/><rect x="1793.45" y="1397.9" width="1.92" height="14.9" fill="#B3B3B3"/><rect x="1793.45" y="1383" width="1.92" height="14.9" fill="#B23AEE"/><rect x="1795.24" y="1397.9" width="1.92" height="29.8" fill="#CD661D"/><rect x="1795.24" y="1383" width="1.92" height="14.9" fill="#5F9EA0"/><rect x="1795.24" y="1368.1" width="1.92" height="14.9" fill="#B23AEE"/><rect x="1797.03" y="1412.8" width="1.92" height="14.9" fill="#CD661D"/><rect x="1798.82" y="1412.8" width="1.92" height="14.9" fill="#5F9EA0"/><rect x="1800.62" y="1412.8" width="1.92" height="14.9" fill="#68228B"/><rect x="1800.62" y="1383" width="1.92" height="29.8" fill="#5F9EA0"/><rect x="1802.41" y="1412.8" width="1.92" height="14.9" fill="#B3B3B3"/><rect x="1804.2" y="1412.8" width="1.92" height="14.9" fill="#5F9EA0"/><rect x="1805.99" y="1412.8" width="1.92" height="14.9" fill="#CD661D"/><rect x="1807.78" y="1412.8" width="1.92" height="14.9" fill="#5F9EA0"/><rect x="1809.58" y="1397.9" width="1.92" height="29.8" fill="#CD661D"/><rect x="1809.58" y="1368.1" width="1.92" height="29.8" fill="#68228B"/><rect x="1809.58" y="1338.3" width="1.92" height="29.8" fill="#5F9EA0"/><rect x="1811.37" y="1412.8" width="1.92" height="14.9" fill="#68228B"/><rect x="1813.16" y="1412.8" width="1.92" height="14.9" fill="#5F9EA0"/><rect x="1814.95" y="1412.8" width="1.92" height="14.9" fill="#CD661D"/><rect x="1814.95" y="1397.9" width="1.92" height="14.9" fill="#68228B"/><rect x="1814.95" y="1383" width="1.92" height="14.9" fill="#B3B3B3"/><rect x="1814.95" y="1368.1" width="1.92" height="14.9" fill="#5F9EA0"/><rect x="1816.74" y="1383" width="1.92" height="44.7" fill="#CD661D"/><rect x="1816.74" y="1353.2" width="1.92" height="29.8" fill="#5F9EA0"/><rect x="1818.54" y="1412.8" width="1.92" height="14.9" fill="#CD661D"/><rect x="1820.33" y="1383" width="1.92" height="44.7" fill="#CD661D"/><rect x="1822.12" y="1412.8" width="1.92" height="14.9" fill="#B23AEE"/><rect x="1823.91" y="1397.9" width="1.92" height="29.8" fill="#CD661D"/><rect x="1823.91" y="1383" width="1.92" height="14.9" fill="#68228B"/><rect x="1823.91" y="1368.1" width="1.92" height="14.9" fill="#5F9EA0"/><rect x="1825.7" y="1397.9" width="1.92" height="29.8" fill="#CD661D"/><rect x="1827.5" y="1412.8" width="1.92" height="14.9" fill="#5F9EA0"/><rect x="1829.29" y="1412.8" width="1.92" height="14.9" fill="#5F9EA0"/><rect x="1831.08" y="1412.8" width="1.92" height="14.9" fill="#CD661D"/><rect x="1831.08" y="1383" width="1.92" height="29.8" fill="#5F9EA0"/><rect x="1832.87" y="1397.9" width="1.92" height="29.8" fill="#CD661D"/><rect x="1832.87" y="1368.1" width="1.92" height="29.8" fill="#5F9EA0"/><rect x="1834.66" y="1412.8" width="1.92" height="14.9" fill="#CD661D"/><rect x="1834.66" y="1383" width="1.92" height="29.8" fill="#5F9EA0"/><rect x="1836.46" y="1412.8" width="1.92" height="14.9" fill="#CD661D"/><rect x="1836.46" y="1383" width="1.92" height="29.8" fill="#68228B"/><rect x="1836.46" y="1368.1" width="1.92" height="14.9" fill="#5F9EA0"/><rect x="1838.25" y="1412.8" width="1.92" height="14.9" fill="#68228B"/><rect x="1838.25" y="1397.9" width="1.92" height="14.9" fill="#5F9EA0"/><rect x="1840.04" y="1412.8" width="1.92" height="14.9" fill="#CD661D"/><rect x="1840.04" y="1397.9" width="1.92" height="14.9" fill="#68228B"/><rect x="1840.04" y="1383" width="1.92" height="14.9" fill="#5F9EA0"/><rect x="1843.62" y="1412.8" width="1.92" height="14.9" fill="#5F9EA0"/><rect x="1845.42" y="1412.8" width="1.92" height="14.9" fill="#5F9EA0"/><rect x="1849" y="1412.8" width="1.92" height="14.9" fill="#CD661D"/><rect x="1849" y="1397.9" width="1.92" height="14.9" fill="#68228B"/><rect x="1849" y="1368.1" width="1.92" height="29.8" fill="#5F9EA0"/><rect x="1852.58" y="1397.9" width="1.92" height="29.8" fill="#CD661D"/><rect x="1852.58" y="1383" width="1.92" height="14.9" fill="#68228B"/><rect x="1852.58" y="1368.1" width="1.92" height="14.9" fill="#5F9EA0"/><rect x="1854.38" y="1412.8" width="1.92" height="14.9" fill="#68228B"/><rect x="1854.38" y="1397.9" width="1.92" height="14.9" fill="#B3B3B3"/><rect x="1854.38" y="1368.1" width="1.92" height="29.8" fill="#5F9EA0"/><rect x="1856.17" y="1412.8" width="1.92" height="14.9" fill="#CD661D"/><rect x="1857.96" y="1397.9" width="1.92" height="29.8" fill="#68228B"/><rect x="1857.96" y="1353.2" width="1.92" height="44.7" fill="#5F9EA0"/><rect x="1859.75" y="1412.8" width="1.92" height="14.9" fill="#CD661D"/><rect x="1861.54" y="1412.8" width="1.92" height="14.9" fill="#5F9EA0"/><rect x="1863.34" y="1412.8" width="1.92" height="14.9" fill="#CD661D"/><rect x="1863.34" y="1383" width="1.92" height="29.8" fill="#68228B"/><rect x="1863.34" y="1353.2" width="1.92" height="29.8" fill="#5F9EA0"/><rect x="1865.13" y="1412.8" width="1.92" height="14.9" fill="#CD661D"/><rect x="1866.92" y="1412.8" width="1.92" height="14.9" fill="#CD661D"/><rect x="1866.92" y="1338.3" width="1.92" height="74.5" fill="#5F9EA0"/><rect x="1868.71" y="1412.8" width="1.92" height="14.9" fill="#CD661D"/><rect x="1868.71" y="1278.7" width="1.92" height="134.1" fill="#5F9EA0"/><rect x="1870.5" y="1412.8" width="1.92" height="14.9" fill="#CD661D"/><rect x="1870.5" y="1114.8" width="1.92" height="298" fill="#5F9EA0"/><rect x="1872.3" y="1412.8" width="1.92" height="14.9" fill="#CD661D"/><rect x="1872.3" y="1308.5" width="1.92" height="104.3" fill="#5F9EA0"/><rect x="1874.09" y="1308.5" width="1.92" height="119.2" fill="#5F9EA0"/><rect x="1877.67" y="1412.8" width="1.92" height="14.9" fill="#CD661D"/><rect x="1877.67" y="1293.6" width="1.92" height="119.2" fill="#5F9EA0"/><rect x="1879.46" y="1353.2" width="1.92" height="74.5" fill="#5F9EA0"/><rect x="1881.26" y="1338.3" width="1.92" height="89.4" fill="#5F9EA0"/><rect x="1883.05" y="1308.5" width="1.92" height="119.2" fill="#5F9EA0"/><rect x="1884.84" y="1353.2" width="1.92" height="74.5" fill="#5F9EA0"/><rect x="1886.63" y="1412.8" width="1.92" height="14.9" fill="#68228B"/><rect x="1888.42" y="1383" width="1.92" height="44.7" fill="#5F9EA0"/><rect x="1890.22" y="1383" width="1.92" height="44.7" fill="#5F9EA0"/><rect x="1892.01" y="1412.8" width="1.92" height="14.9" fill="#5F9EA0"/><rect x="1893.8" y="1412.8" width="1.92" height="14.9" fill="#5F9EA0"/><rect x="1902.76" y="1412.8" width="1.92" height="14.9" fill="#5F9EA0"/><rect x="1904.55" y="1412.8" width="1.92" height="14.9" fill="#68228B"/><rect x="1909.93" y="1412.8" width="1.92" height="14.9" fill="#CD661D"/><rect x="1913.51" y="1412.8" width="1.92" height="14.9" fill="#5F9EA0"/><rect x="1920.68" y="1412.8" width="1.92" height="14.9" fill="#68228B"/><rect x="1922.47" y="1412.8" width="1.92" height="14.9" fill="#5F9EA0"/><rect x="1924.26" y="1412.8" width="1.92" height="14.9" fill="#68228B"/><rect x="1926.06" y="1412.8" width="1.92" height="14.9" fill="#CD661D"/></g>
<rect x="1033.6" y="1069.8" width="897.2" height="357.9" fill="none" stroke="#2B2B2B" stroke-width="1.15"/>
<line x1="1030.7" y1="1427.7" x2="1033.6" y2="1427.7" stroke="#2B2B2B" stroke-width="1.1"/>
<text x="1027.4" y="1432.7" font-size="14.7" text-anchor="end">0</text>
<line x1="1030.7" y1="1353.2" x2="1033.6" y2="1353.2" stroke="#2B2B2B" stroke-width="1.1"/>
<text x="1027.4" y="1358.2" font-size="14.7" text-anchor="end">5</text>
<line x1="1030.7" y1="1278.7" x2="1033.6" y2="1278.7" stroke="#2B2B2B" stroke-width="1.1"/>
<text x="1027.4" y="1283.7" font-size="14.7" text-anchor="end">10</text>
<line x1="1030.7" y1="1204.2" x2="1033.6" y2="1204.2" stroke="#2B2B2B" stroke-width="1.1"/>
<text x="1027.4" y="1209.2" font-size="14.7" text-anchor="end">15</text>
<line x1="1030.7" y1="1129.7" x2="1033.6" y2="1129.7" stroke="#2B2B2B" stroke-width="1.1"/>
<text x="1027.4" y="1134.7" font-size="14.7" text-anchor="end">20</text>
<line x1="1930.8" y1="1091.7" x2="1933.7" y2="1091.7" stroke="#2B2B2B" stroke-width="1.1"/>
<text x="1937" y="1096.7" font-size="14.7">600,000</text>
<line x1="1930.8" y1="1203.9" x2="1933.7" y2="1203.9" stroke="#2B2B2B" stroke-width="1.1"/>
<line x1="1930.8" y1="1316.1" x2="1933.7" y2="1316.1" stroke="#2B2B2B" stroke-width="1.1"/>
<line x1="1930.8" y1="1427.7" x2="1933.7" y2="1427.7" stroke="#2B2B2B" stroke-width="1.1"/>
<text x="1937" y="1432.7" font-size="14.7">0</text>
<text x="1478.7" y="1041.2" font-size="14.7" text-anchor="middle">TET2 − 4 aa bins</text>
<text x="1478.7" y="1059.9" font-size="14.7" text-anchor="middle">1180 TwinsUK blood mutations</text>
<text font-size="14.7" text-anchor="middle" transform="translate(991.5 1257.5) rotate(-90)">TwinsUK mutation count</text>
<text font-size="14.7" text-anchor="middle" transform="translate(1952.8 1276.8) rotate(90)">Cumulative duplex coverage</text>
<rect x="1033.57" y="1440.2" width="3.74" height="16.2" fill="#222" stroke="#000" stroke-width="1.3"/>
<rect x="1037.31" y="1440.2" width="508.76" height="16.2" fill="#CC6C6B" stroke="#000" stroke-width="1.3"/>
<rect x="1546.07" y="1440.2" width="13.72" height="16.2" fill="#E6B2B3" stroke="#000" stroke-width="1.3"/>
<rect x="1559.79" y="1440.2" width="14.34" height="16.2" fill="#CC6C6B" stroke="#000" stroke-width="1.3"/>
<rect x="1574.13" y="1440.2" width="30.55" height="16.2" fill="#E6B2B3" stroke="#000" stroke-width="1.3"/>
<rect x="1604.68" y="1440.2" width="21.82" height="16.2" fill="#CC6C6B" stroke="#000" stroke-width="1.3"/>
<rect x="1626.5" y="1440.2" width="13.72" height="16.2" fill="#E6B2B3" stroke="#000" stroke-width="1.3"/>
<rect x="1640.22" y="1440.2" width="20.57" height="16.2" fill="#CC6C6B" stroke="#000" stroke-width="1.3"/>
<rect x="1660.79" y="1440.2" width="51.75" height="16.2" fill="#E6B2B3" stroke="#000" stroke-width="1.3"/>
<rect x="1712.54" y="1440.2" width="218.22" height="16.2" fill="#CC6C6B" stroke="#000" stroke-width="1.3"/>
<rect x="1033.57" y="1440.2" width="897.19" height="16.2" fill="none" stroke="#000" stroke-width="1.5"/>
<text x="1027.4" y="1453.3" font-size="14.7" text-anchor="end">Exons</text>
<line x1="1035.1" y1="1482.6" x2="1929.3" y2="1482.6" stroke="#5E5E5E" stroke-width="6.2"/>
<rect x="1614.03" y="1474.5" width="272.46" height="16.8" fill="#8DD3C7" stroke="#000" stroke-width="1.3"/>
<text x="1027.4" y="1487.6" font-size="14.7" text-anchor="end">Domains</text>
<line x1="1033.6" y1="1574.6" x2="1930.8" y2="1574.6" stroke="#EBEBEB" stroke-width="1"/>
<line x1="1033.6" y1="1646.3" x2="1930.8" y2="1646.3" stroke="#EBEBEB" stroke-width="1"/>
<line x1="1033.6" y1="1718" x2="1930.8" y2="1718" stroke="#EBEBEB" stroke-width="1"/>
<line x1="1033.6" y1="1789.7" x2="1930.8" y2="1789.7" stroke="#EBEBEB" stroke-width="1"/>
<line x1="1033.6" y1="1861.4" x2="1930.8" y2="1861.4" stroke="#EBEBEB" stroke-width="1"/>
<g><rect x="1052.51" y="1502.9" width="1.9" height="71.7" fill="#B3B3B3"/><rect x="1055.88" y="1502.9" width="1.9" height="71.7" fill="#5F9EA0"/><rect x="1093.41" y="1502.9" width="1.9" height="71.7" fill="#5F9EA0"/><rect x="1096.79" y="1502.9" width="1.9" height="71.7" fill="#68228B"/><rect x="1108.99" y="1502.9" width="1.9" height="71.7" fill="#CD661D"/><rect x="1108.99" y="1574.6" width="1.9" height="143.4" fill="#68228B"/><rect x="1112.56" y="1502.9" width="1.9" height="71.7" fill="#68228B"/><rect x="1117.81" y="1502.9" width="1.9" height="71.7" fill="#68228B"/><rect x="1135.64" y="1502.9" width="1.9" height="71.7" fill="#5F9EA0"/><rect x="1139.01" y="1502.9" width="1.9" height="71.7" fill="#CD661D"/><rect x="1139.01" y="1574.6" width="1.9" height="71.7" fill="#5F9EA0"/><rect x="1145.96" y="1502.9" width="1.9" height="143.4" fill="#68228B"/><rect x="1163.78" y="1502.9" width="1.9" height="71.7" fill="#68228B"/><rect x="1167.35" y="1502.9" width="1.9" height="143.4" fill="#CD661D"/><rect x="1181.42" y="1502.9" width="1.9" height="71.7" fill="#CD661D"/><rect x="1181.42" y="1574.6" width="1.9" height="71.7" fill="#5F9EA0"/><rect x="1182.93" y="1502.9" width="1.9" height="71.7" fill="#CD661D"/><rect x="1184.99" y="1502.9" width="1.9" height="143.4" fill="#68228B"/><rect x="1186.68" y="1502.9" width="1.9" height="71.7" fill="#68228B"/><rect x="1194" y="1502.9" width="1.9" height="143.4" fill="#CD661D"/><rect x="1197.56" y="1502.9" width="1.9" height="71.7" fill="#68228B"/><rect x="1211.82" y="1502.9" width="1.9" height="71.7" fill="#CD661D"/><rect x="1243.54" y="1502.9" width="1.9" height="71.7" fill="#68228B"/><rect x="1246.91" y="1502.9" width="1.9" height="71.7" fill="#CD661D"/><rect x="1273.37" y="1502.9" width="1.9" height="71.7" fill="#CD661D"/><rect x="1278.63" y="1502.9" width="1.9" height="71.7" fill="#CD661D"/><rect x="1284.26" y="1502.9" width="1.9" height="71.7" fill="#68228B"/><rect x="1285.95" y="1502.9" width="1.9" height="143.4" fill="#68228B"/><rect x="1292.89" y="1502.9" width="1.9" height="71.7" fill="#CD661D"/><rect x="1303.4" y="1502.9" width="1.9" height="71.7" fill="#68228B"/><rect x="1329.99" y="1502.9" width="1.9" height="143.4" fill="#68228B"/><rect x="1335.62" y="1502.9" width="1.9" height="71.7" fill="#5F9EA0"/><rect x="1349.69" y="1502.9" width="1.9" height="215.1" fill="#CD661D"/><rect x="1351.57" y="1502.9" width="1.9" height="71.7" fill="#CD661D"/><rect x="1354.95" y="1502.9" width="1.9" height="71.7" fill="#68228B"/><rect x="1367.52" y="1502.9" width="1.9" height="71.7" fill="#CD661D"/><rect x="1370.71" y="1502.9" width="1.9" height="71.7" fill="#CD661D"/><rect x="1377.84" y="1502.9" width="1.9" height="71.7" fill="#68228B"/><rect x="1381.22" y="1502.9" width="1.9" height="71.7" fill="#CD661D"/><rect x="1384.41" y="1502.9" width="1.9" height="71.7" fill="#CD661D"/><rect x="1386.85" y="1502.9" width="1.9" height="71.7" fill="#CD661D"/><rect x="1396.98" y="1502.9" width="1.9" height="71.7" fill="#CD661D"/><rect x="1400.92" y="1502.9" width="1.9" height="71.7" fill="#CD661D"/><rect x="1402.42" y="1502.9" width="1.9" height="71.7" fill="#68228B"/><rect x="1408.43" y="1502.9" width="1.9" height="71.7" fill="#CD661D"/><rect x="1409.93" y="1502.9" width="1.9" height="71.7" fill="#CD661D"/><rect x="1420.06" y="1502.9" width="1.9" height="71.7" fill="#CD661D"/><rect x="1420.06" y="1574.6" width="1.9" height="71.7" fill="#68228B"/><rect x="1423.81" y="1502.9" width="1.9" height="71.7" fill="#CD661D"/><rect x="1426.63" y="1502.9" width="1.9" height="71.7" fill="#CD661D"/><rect x="1428.51" y="1502.9" width="1.9" height="71.7" fill="#5F9EA0"/><rect x="1434.14" y="1502.9" width="1.9" height="71.7" fill="#68228B"/><rect x="1443.52" y="1502.9" width="1.9" height="71.7" fill="#CD661D"/><rect x="1447.08" y="1502.9" width="1.9" height="71.7" fill="#CD661D"/><rect x="1447.08" y="1574.6" width="1.9" height="143.4" fill="#68228B"/><rect x="1448.77" y="1502.9" width="1.9" height="71.7" fill="#CD661D"/><rect x="1448.77" y="1574.6" width="1.9" height="215.1" fill="#68228B"/><rect x="1456.09" y="1502.9" width="1.9" height="71.7" fill="#CD661D"/><rect x="1457.59" y="1502.9" width="1.9" height="71.7" fill="#CD661D"/><rect x="1460.97" y="1502.9" width="1.9" height="71.7" fill="#68228B"/><rect x="1466.22" y="1502.9" width="1.9" height="71.7" fill="#CD661D"/><rect x="1466.22" y="1574.6" width="1.9" height="71.7" fill="#68228B"/><rect x="1469.79" y="1502.9" width="1.9" height="71.7" fill="#68228B"/><rect x="1471.67" y="1502.9" width="1.9" height="71.7" fill="#5F9EA0"/><rect x="1478.61" y="1502.9" width="1.9" height="71.7" fill="#CD661D"/><rect x="1500.19" y="1502.9" width="1.9" height="71.7" fill="#68228B"/><rect x="1502.63" y="1502.9" width="1.9" height="71.7" fill="#B3B3B3"/><rect x="1506.94" y="1502.9" width="1.9" height="71.7" fill="#68228B"/><rect x="1515.76" y="1502.9" width="1.9" height="143.4" fill="#CD661D"/><rect x="1530.21" y="1502.9" width="1.9" height="71.7" fill="#CD661D"/><rect x="1531.71" y="1502.9" width="1.9" height="143.4" fill="#CD661D"/><rect x="1536.97" y="1502.9" width="1.9" height="71.7" fill="#CD661D"/><rect x="1538.47" y="1502.9" width="1.9" height="71.7" fill="#68228B"/><rect x="1546.16" y="1502.9" width="1.9" height="71.7" fill="#B23AEE"/><rect x="1552.92" y="1502.9" width="1.9" height="71.7" fill="#5F9EA0"/><rect x="1557.99" y="1502.9" width="1.9" height="71.7" fill="#5F9EA0"/><rect x="1557.99" y="1574.6" width="1.9" height="71.7" fill="#B23AEE"/><rect x="1563.62" y="1502.9" width="1.9" height="71.7" fill="#CD661D"/><rect x="1565.12" y="1502.9" width="1.9" height="71.7" fill="#B3B3B3"/><rect x="1566.62" y="1502.9" width="1.9" height="71.7" fill="#CD661D"/><rect x="1572.44" y="1502.9" width="1.9" height="71.7" fill="#CD661D"/><rect x="1579.75" y="1502.9" width="1.9" height="71.7" fill="#68228B"/><rect x="1581.25" y="1502.9" width="1.9" height="71.7" fill="#68228B"/><rect x="1588.01" y="1502.9" width="1.9" height="71.7" fill="#68228B"/><rect x="1592.14" y="1502.9" width="1.9" height="71.7" fill="#CD661D"/><rect x="1592.14" y="1574.6" width="1.9" height="71.7" fill="#5F9EA0"/><rect x="1594.02" y="1502.9" width="1.9" height="71.7" fill="#CD661D"/><rect x="1597.39" y="1502.9" width="1.9" height="143.4" fill="#CD661D"/><rect x="1597.39" y="1646.3" width="1.9" height="71.7" fill="#68228B"/><rect x="1600.77" y="1502.9" width="1.9" height="215.1" fill="#5F9EA0"/><rect x="1604.15" y="1502.9" width="1.9" height="215.1" fill="#5F9EA0"/><rect x="1611.09" y="1502.9" width="1.9" height="143.4" fill="#CD661D"/><rect x="1611.09" y="1646.3" width="1.9" height="71.7" fill="#5F9EA0"/><rect x="1613.16" y="1502.9" width="1.9" height="71.7" fill="#CD661D"/><rect x="1613.16" y="1574.6" width="1.9" height="215.1" fill="#5F9EA0"/><rect x="1616.72" y="1502.9" width="1.9" height="71.7" fill="#5F9EA0"/><rect x="1619.91" y="1502.9" width="1.9" height="71.7" fill="#CD661D"/><rect x="1621.79" y="1502.9" width="1.9" height="71.7" fill="#5F9EA0"/><rect x="1625.17" y="1502.9" width="1.9" height="71.7" fill="#CD661D"/><rect x="1626.85" y="1502.9" width="1.9" height="71.7" fill="#68228B"/><rect x="1630.55" y="1502.9" width="1.9" height="71.7" fill="#CD661D"/><rect x="1630.55" y="1574.6" width="1.9" height="71.7" fill="#5F9EA0"/><rect x="1639.93" y="1502.9" width="1.9" height="71.7" fill="#CD661D"/><rect x="1643.69" y="1502.9" width="1.9" height="71.7" fill="#CD661D"/><rect x="1645.38" y="1502.9" width="1.9" height="143.4" fill="#5F9EA0"/><rect x="1654.01" y="1502.9" width="1.9" height="215.1" fill="#5F9EA0"/><rect x="1655.51" y="1502.9" width="1.9" height="215.1" fill="#5F9EA0"/><rect x="1659.07" y="1502.9" width="1.9" height="143.4" fill="#CD661D"/><rect x="1670.33" y="1502.9" width="1.9" height="71.7" fill="#CD661D"/><rect x="1672.21" y="1502.9" width="1.9" height="71.7" fill="#CD661D"/><rect x="1675.4" y="1502.9" width="1.9" height="71.7" fill="#CD661D"/><rect x="1678.4" y="1502.9" width="1.9" height="71.7" fill="#CD661D"/><rect x="1685.91" y="1502.9" width="1.9" height="143.4" fill="#68228B"/><rect x="1690.98" y="1502.9" width="1.9" height="143.4" fill="#68228B"/><rect x="1701.67" y="1502.9" width="1.9" height="71.7" fill="#5F9EA0"/><rect x="1710.87" y="1502.9" width="1.9" height="71.7" fill="#CD661D"/><rect x="1712.37" y="1502.9" width="1.9" height="71.7" fill="#CD661D"/><rect x="1712.37" y="1574.6" width="1.9" height="71.7" fill="#5F9EA0"/><rect x="1713.87" y="1502.9" width="1.9" height="143.4" fill="#68228B"/><rect x="1722.69" y="1502.9" width="1.9" height="71.7" fill="#68228B"/><rect x="1724.19" y="1502.9" width="1.9" height="71.7" fill="#68228B"/><rect x="1729.82" y="1502.9" width="1.9" height="71.7" fill="#68228B"/><rect x="1733.57" y="1502.9" width="1.9" height="71.7" fill="#CD661D"/><rect x="1733.57" y="1574.6" width="1.9" height="71.7" fill="#5F9EA0"/><rect x="1736.95" y="1502.9" width="1.9" height="71.7" fill="#CD661D"/><rect x="1752.53" y="1502.9" width="1.9" height="71.7" fill="#5F9EA0"/><rect x="1765.1" y="1502.9" width="1.9" height="71.7" fill="#68228B"/><rect x="1770.16" y="1502.9" width="1.9" height="71.7" fill="#CD661D"/><rect x="1773.54" y="1502.9" width="1.9" height="71.7" fill="#B3B3B3"/><rect x="1773.54" y="1574.6" width="1.9" height="71.7" fill="#68228B"/><rect x="1775.42" y="1502.9" width="1.9" height="71.7" fill="#B3B3B3"/><rect x="1784.43" y="1502.9" width="1.9" height="71.7" fill="#CD661D"/><rect x="1786.3" y="1502.9" width="1.9" height="71.7" fill="#68228B"/><rect x="1802.07" y="1502.9" width="1.9" height="71.7" fill="#5F9EA0"/><rect x="1821.77" y="1502.9" width="1.9" height="143.4" fill="#5F9EA0"/><rect x="1827.02" y="1502.9" width="1.9" height="71.7" fill="#5F9EA0"/><rect x="1837.72" y="1502.9" width="1.9" height="71.7" fill="#68228B"/><rect x="1849.92" y="1502.9" width="1.9" height="71.7" fill="#68228B"/><rect x="1865.87" y="1502.9" width="1.9" height="71.7" fill="#5F9EA0"/><rect x="1869.43" y="1502.9" width="1.9" height="71.7" fill="#CD661D"/><rect x="1869.43" y="1574.6" width="1.9" height="71.7" fill="#5F9EA0"/><rect x="1871.12" y="1502.9" width="1.9" height="286.8" fill="#5F9EA0"/><rect x="1878.25" y="1502.9" width="1.9" height="71.7" fill="#CD661D"/><rect x="1878.25" y="1574.6" width="1.9" height="215.1" fill="#5F9EA0"/><rect x="1880.5" y="1502.9" width="1.9" height="71.7" fill="#5F9EA0"/><rect x="1881.82" y="1502.9" width="1.9" height="71.7" fill="#5F9EA0"/><rect x="1885.57" y="1502.9" width="1.9" height="71.7" fill="#5F9EA0"/><rect x="1897.96" y="1502.9" width="1.9" height="71.7" fill="#5F9EA0"/><rect x="1901.52" y="1502.9" width="1.9" height="71.7" fill="#68228B"/><rect x="1912.03" y="1502.9" width="1.9" height="71.7" fill="#B3B3B3"/></g>
<rect x="1033.6" y="1502.9" width="897.2" height="358.5" fill="none" stroke="#2B2B2B" stroke-width="1.15"/>
<line x1="1030.7" y1="1502.9" x2="1033.6" y2="1502.9" stroke="#2B2B2B" stroke-width="1.1"/>
<text x="1027.4" y="1507.9" font-size="14.7" text-anchor="end">0</text>
<line x1="1030.7" y1="1574.6" x2="1033.6" y2="1574.6" stroke="#2B2B2B" stroke-width="1.1"/>
<text x="1027.4" y="1579.6" font-size="14.7" text-anchor="end">1</text>
<line x1="1030.7" y1="1646.3" x2="1033.6" y2="1646.3" stroke="#2B2B2B" stroke-width="1.1"/>
<text x="1027.4" y="1651.3" font-size="14.7" text-anchor="end">2</text>
<line x1="1030.7" y1="1718" x2="1033.6" y2="1718" stroke="#2B2B2B" stroke-width="1.1"/>
<text x="1027.4" y="1723" font-size="14.7" text-anchor="end">3</text>
<line x1="1030.7" y1="1789.7" x2="1033.6" y2="1789.7" stroke="#2B2B2B" stroke-width="1.1"/>
<text x="1027.4" y="1794.7" font-size="14.7" text-anchor="end">4</text>
<line x1="1030.7" y1="1861.4" x2="1033.6" y2="1861.4" stroke="#2B2B2B" stroke-width="1.1"/>
<text x="1027.4" y="1866.4" font-size="14.7" text-anchor="end">5</text>
<text font-size="14.7" text-anchor="middle" transform="translate(991.5 1647.3) rotate(-90)">COSMIC mutation count</text>
<text x="1463.8" y="1884.5" font-size="14.7" text-anchor="middle">186 COSMIC mutations (lymphoid and haematopoietic neoplasms)</text>
<text x="1067.9" y="1814" font-size="14.7" font-weight="bold">Domain type</text>
<rect x="1068.5" y="1821.75" width="19.9" height="20.5" fill="#8DD3C7" stroke="#000" stroke-width="1"/>
<text x="1095.9" y="1837" font-size="14.7">2OGFeDO JBP1/TET, oxygenase domain</text>
<line x1="77.3" y1="2204.35" x2="889.7" y2="2204.35" stroke="#E4E4E4" stroke-width="1"/>
<line x1="77.3" y1="2110.6" x2="889.7" y2="2110.6" stroke="#E4E4E4" stroke-width="1"/>
<line x1="77.3" y1="2016.85" x2="889.7" y2="2016.85" stroke="#E4E4E4" stroke-width="1"/>
<path d="M77.29 2298.1L77.29 2251.24C78.45 2250.27 81.84 2247.27 84.26 2245.43C86.68 2243.59 89.4 2241.07 91.82 2240.2C94.24 2239.33 96.66 2238.84 98.79 2240.2C100.92 2241.56 102.18 2245.72 104.6 2248.34C107.02 2250.95 110.41 2253.66 113.32 2255.89C116.23 2258.12 119.13 2259.38 122.04 2261.7C124.94 2264.03 128.43 2267.71 130.75 2269.84C133.08 2271.97 135.11 2273.71 135.98 2274.49L137.15 2086.2C138.02 2087.17 140.24 2089.88 142.38 2092.01C144.51 2094.14 147.51 2098.11 149.93 2098.99C152.35 2099.86 154.29 2097.73 156.9 2097.24C159.52 2096.76 162.72 2095.21 165.62 2096.08C168.53 2096.95 171.43 2101.21 174.34 2102.47C177.24 2103.73 180.15 2103.73 183.05 2103.64C185.96 2103.54 188.87 2100.54 191.77 2101.89C194.68 2103.25 197.39 2108.38 200.49 2111.77C203.59 2115.16 207.46 2120.29 210.37 2122.23C213.27 2124.17 215.21 2122.23 217.92 2123.39C220.63 2124.56 223.73 2127.56 226.64 2129.21C229.54 2130.85 232.45 2131.53 235.36 2133.27C238.26 2135.02 240.97 2136.76 244.07 2139.67C247.17 2142.57 252.31 2148.87 253.95 2150.71L255.11 2213.47C256.66 2212.98 261.41 2211.43 264.41 2210.56C267.41 2209.69 270.71 2208.63 273.13 2208.24C275.55 2207.85 276.52 2206.4 278.94 2208.24C281.36 2210.08 284.75 2215.7 287.66 2219.28C290.56 2222.86 294.15 2227.61 296.37 2229.74C298.6 2231.87 300.25 2231.68 301.02 2232.06L302.19 2181.51C303.64 2178.6 308.19 2169.11 310.9 2164.07C313.61 2159.04 316.04 2153.61 318.46 2151.29C320.88 2148.96 322.52 2149.64 325.43 2150.13C328.34 2150.61 333.76 2152.55 335.89 2154.19C338.02 2155.84 336.57 2159.52 338.21 2160C339.86 2160.49 343.06 2156.91 345.77 2157.1C348.48 2157.29 351.29 2159.23 354.49 2161.17C357.68 2163.1 361.27 2167.46 364.95 2168.72C368.63 2169.98 374.63 2168.72 376.57 2168.72L378.31 2204.17C379.67 2202.33 383.64 2196.23 386.45 2193.13C389.26 2190.03 392.26 2186.83 395.17 2185.57C398.07 2184.32 402.43 2185.57 403.88 2185.57L405.04 2101.31C406.3 2099.76 409.89 2094.14 412.6 2092.01C415.31 2089.88 418.41 2089.11 421.32 2088.53C424.22 2087.95 427.13 2087.85 430.03 2088.53C432.94 2089.2 436.42 2092.21 438.75 2092.59C441.07 2092.98 443.11 2091.14 443.98 2090.85L445.14 2068.77C446.01 2068.57 448.53 2067.41 450.37 2067.61C452.21 2067.8 453.76 2068.67 456.18 2069.93C458.6 2071.19 462.28 2072.06 464.9 2075.16C467.52 2078.26 469.94 2082.42 471.87 2088.53C473.81 2094.63 474.78 2103.54 476.52 2111.77C478.27 2120 480.11 2130.37 482.33 2137.92C484.56 2145.48 487.95 2156.61 489.89 2157.1C491.83 2157.58 491.83 2144.99 493.96 2140.83C496.09 2136.66 501.22 2133.56 502.67 2132.11L504.42 2091.43C505.58 2090.46 508.97 2088.04 511.39 2085.62C513.81 2083.2 516.52 2078.84 518.94 2076.9C521.37 2074.97 523.3 2075.74 525.92 2074C528.53 2072.25 531.83 2068.38 534.64 2066.44C537.44 2064.51 541.41 2063.05 542.77 2062.38L543.93 1999.03C545.29 1999.9 549.26 2001.45 552.07 2004.26C554.88 2007.07 558.07 2010.56 560.79 2015.89C563.5 2021.21 565.92 2028.96 568.34 2036.23C570.76 2043.49 572.7 2054.92 575.31 2059.47C577.93 2064.02 581.13 2064.31 584.03 2063.54C586.94 2062.76 589.84 2057.44 592.75 2054.82C595.65 2052.21 598.56 2048.23 601.46 2047.85C604.37 2047.46 607.28 2049.78 610.18 2052.5C613.09 2055.21 615.99 2059.08 618.9 2064.12C621.8 2069.16 624.71 2076.52 627.62 2082.72C630.52 2088.91 633.43 2095.98 636.33 2101.31C639.24 2106.64 641.95 2109.06 645.05 2114.68C648.15 2120.29 653.28 2131.63 654.93 2135.02L656.09 2205.91C657.64 2205.43 662.39 2203.2 665.39 2203.01C668.39 2202.81 670.91 2204.27 674.11 2204.75C677.3 2205.24 681.18 2205.91 684.57 2205.91C687.96 2205.91 690.86 2204.27 694.44 2204.75C698.03 2205.24 702.1 2207.56 706.07 2208.82C710.04 2210.08 716.24 2211.72 718.27 2212.31L719.43 2197.2C721.56 2196.52 727.67 2193.42 732.22 2193.13C736.77 2192.84 744.32 2195.07 746.75 2195.45L748.49 2181.51C750.14 2180.63 755.27 2176.08 758.37 2176.28C761.47 2176.47 763.7 2180.83 767.09 2182.67C770.47 2184.51 774.83 2186.06 778.71 2187.32C782.58 2188.58 786.55 2190.03 790.33 2190.22C794.11 2190.42 799.53 2188.77 801.37 2188.48L802.53 2143.73C803.89 2143.25 807.86 2142.47 810.67 2140.83C813.48 2139.18 816.48 2136.28 819.39 2133.85C822.29 2131.43 825.2 2127.66 828.1 2126.3C831.01 2124.94 833.91 2124.46 836.82 2125.72C839.73 2126.98 842.63 2132.79 845.54 2133.85C848.44 2134.92 851.83 2133.37 854.25 2132.11C856.68 2130.85 857.64 2126.3 860.07 2126.3C862.49 2126.3 865.88 2128.24 868.78 2132.11C871.69 2135.98 874.59 2144.7 877.5 2149.54C880.4 2154.39 884.18 2158.94 886.22 2161.17C888.25 2163.39 889.12 2162.62 889.7 2162.91L889.7 2298.1Z" fill="#D8D8D8" fill-opacity="0.42"/>
<path d="M77.29 2251.24C78.45 2250.27 81.84 2247.27 84.26 2245.43C86.68 2243.59 89.4 2241.07 91.82 2240.2C94.24 2239.33 96.66 2238.84 98.79 2240.2C100.92 2241.56 102.18 2245.72 104.6 2248.34C107.02 2250.95 110.41 2253.66 113.32 2255.89C116.23 2258.12 119.13 2259.38 122.04 2261.7C124.94 2264.03 128.43 2267.71 130.75 2269.84C133.08 2271.97 135.11 2273.71 135.98 2274.49L137.15 2086.2C138.02 2087.17 140.24 2089.88 142.38 2092.01C144.51 2094.14 147.51 2098.11 149.93 2098.99C152.35 2099.86 154.29 2097.73 156.9 2097.24C159.52 2096.76 162.72 2095.21 165.62 2096.08C168.53 2096.95 171.43 2101.21 174.34 2102.47C177.24 2103.73 180.15 2103.73 183.05 2103.64C185.96 2103.54 188.87 2100.54 191.77 2101.89C194.68 2103.25 197.39 2108.38 200.49 2111.77C203.59 2115.16 207.46 2120.29 210.37 2122.23C213.27 2124.17 215.21 2122.23 217.92 2123.39C220.63 2124.56 223.73 2127.56 226.64 2129.21C229.54 2130.85 232.45 2131.53 235.36 2133.27C238.26 2135.02 240.97 2136.76 244.07 2139.67C247.17 2142.57 252.31 2148.87 253.95 2150.71L255.11 2213.47C256.66 2212.98 261.41 2211.43 264.41 2210.56C267.41 2209.69 270.71 2208.63 273.13 2208.24C275.55 2207.85 276.52 2206.4 278.94 2208.24C281.36 2210.08 284.75 2215.7 287.66 2219.28C290.56 2222.86 294.15 2227.61 296.37 2229.74C298.6 2231.87 300.25 2231.68 301.02 2232.06L302.19 2181.51C303.64 2178.6 308.19 2169.11 310.9 2164.07C313.61 2159.04 316.04 2153.61 318.46 2151.29C320.88 2148.96 322.52 2149.64 325.43 2150.13C328.34 2150.61 333.76 2152.55 335.89 2154.19C338.02 2155.84 336.57 2159.52 338.21 2160C339.86 2160.49 343.06 2156.91 345.77 2157.1C348.48 2157.29 351.29 2159.23 354.49 2161.17C357.68 2163.1 361.27 2167.46 364.95 2168.72C368.63 2169.98 374.63 2168.72 376.57 2168.72L378.31 2204.17C379.67 2202.33 383.64 2196.23 386.45 2193.13C389.26 2190.03 392.26 2186.83 395.17 2185.57C398.07 2184.32 402.43 2185.57 403.88 2185.57L405.04 2101.31C406.3 2099.76 409.89 2094.14 412.6 2092.01C415.31 2089.88 418.41 2089.11 421.32 2088.53C424.22 2087.95 427.13 2087.85 430.03 2088.53C432.94 2089.2 436.42 2092.21 438.75 2092.59C441.07 2092.98 443.11 2091.14 443.98 2090.85L445.14 2068.77C446.01 2068.57 448.53 2067.41 450.37 2067.61C452.21 2067.8 453.76 2068.67 456.18 2069.93C458.6 2071.19 462.28 2072.06 464.9 2075.16C467.52 2078.26 469.94 2082.42 471.87 2088.53C473.81 2094.63 474.78 2103.54 476.52 2111.77C478.27 2120 480.11 2130.37 482.33 2137.92C484.56 2145.48 487.95 2156.61 489.89 2157.1C491.83 2157.58 491.83 2144.99 493.96 2140.83C496.09 2136.66 501.22 2133.56 502.67 2132.11L504.42 2091.43C505.58 2090.46 508.97 2088.04 511.39 2085.62C513.81 2083.2 516.52 2078.84 518.94 2076.9C521.37 2074.97 523.3 2075.74 525.92 2074C528.53 2072.25 531.83 2068.38 534.64 2066.44C537.44 2064.51 541.41 2063.05 542.77 2062.38L543.93 1999.03C545.29 1999.9 549.26 2001.45 552.07 2004.26C554.88 2007.07 558.07 2010.56 560.79 2015.89C563.5 2021.21 565.92 2028.96 568.34 2036.23C570.76 2043.49 572.7 2054.92 575.31 2059.47C577.93 2064.02 581.13 2064.31 584.03 2063.54C586.94 2062.76 589.84 2057.44 592.75 2054.82C595.65 2052.21 598.56 2048.23 601.46 2047.85C604.37 2047.46 607.28 2049.78 610.18 2052.5C613.09 2055.21 615.99 2059.08 618.9 2064.12C621.8 2069.16 624.71 2076.52 627.62 2082.72C630.52 2088.91 633.43 2095.98 636.33 2101.31C639.24 2106.64 641.95 2109.06 645.05 2114.68C648.15 2120.29 653.28 2131.63 654.93 2135.02L656.09 2205.91C657.64 2205.43 662.39 2203.2 665.39 2203.01C668.39 2202.81 670.91 2204.27 674.11 2204.75C677.3 2205.24 681.18 2205.91 684.57 2205.91C687.96 2205.91 690.86 2204.27 694.44 2204.75C698.03 2205.24 702.1 2207.56 706.07 2208.82C710.04 2210.08 716.24 2211.72 718.27 2212.31L719.43 2197.2C721.56 2196.52 727.67 2193.42 732.22 2193.13C736.77 2192.84 744.32 2195.07 746.75 2195.45L748.49 2181.51C750.14 2180.63 755.27 2176.08 758.37 2176.28C761.47 2176.47 763.7 2180.83 767.09 2182.67C770.47 2184.51 774.83 2186.06 778.71 2187.32C782.58 2188.58 786.55 2190.03 790.33 2190.22C794.11 2190.42 799.53 2188.77 801.37 2188.48L802.53 2143.73C803.89 2143.25 807.86 2142.47 810.67 2140.83C813.48 2139.18 816.48 2136.28 819.39 2133.85C822.29 2131.43 825.2 2127.66 828.1 2126.3C831.01 2124.94 833.91 2124.46 836.82 2125.72C839.73 2126.98 842.63 2132.79 845.54 2133.85C848.44 2134.92 851.83 2133.37 854.25 2132.11C856.68 2130.85 857.64 2126.3 860.07 2126.3C862.49 2126.3 865.88 2128.24 868.78 2132.11C871.69 2135.98 874.59 2144.7 877.5 2149.54C880.4 2154.39 884.18 2158.94 886.22 2161.17C888.25 2163.39 889.12 2162.62 889.7 2162.91" fill="none" stroke="#A6A6A6" stroke-width="1.4" stroke-linejoin="round"/>
<g><rect x="101.88" y="2279.35" width="1.95" height="18.75" fill="#CD661D"/><rect x="136.17" y="2260.6" width="1.95" height="37.5" fill="#B23AEE"/><rect x="139.08" y="2279.35" width="1.95" height="18.75" fill="#B3B3B3"/><rect x="141.4" y="2260.6" width="1.95" height="37.5" fill="#5F9EA0"/><rect x="144.31" y="2279.35" width="1.95" height="18.75" fill="#B3B3B3"/><rect x="146.63" y="2279.35" width="1.95" height="18.75" fill="#CD661D"/><rect x="159.42" y="2279.35" width="1.95" height="18.75" fill="#CD661D"/><rect x="161.16" y="2260.6" width="1.95" height="37.5" fill="#68228B"/><rect x="162.9" y="2241.85" width="1.95" height="56.25" fill="#5F9EA0"/><rect x="167.55" y="2279.35" width="1.95" height="18.75" fill="#B3B3B3"/><rect x="177.43" y="2279.35" width="1.95" height="18.75" fill="#5F9EA0"/><rect x="180.34" y="2279.35" width="1.95" height="18.75" fill="#68228B"/><rect x="182.66" y="2279.35" width="1.95" height="18.75" fill="#5F9EA0"/><rect x="190.8" y="2279.35" width="1.95" height="18.75" fill="#5F9EA0"/><rect x="194.86" y="2279.35" width="1.95" height="18.75" fill="#5F9EA0"/><rect x="209.39" y="2279.35" width="1.95" height="18.75" fill="#68228B"/><rect x="209.39" y="2260.6" width="1.95" height="18.75" fill="#5F9EA0"/><rect x="211.72" y="2279.35" width="1.95" height="18.75" fill="#5F9EA0"/><rect x="211.72" y="2260.6" width="1.95" height="18.75" fill="#B23AEE"/><rect x="215.2" y="2279.35" width="1.95" height="18.75" fill="#B3B3B3"/><rect x="230.31" y="2279.35" width="1.95" height="18.75" fill="#5F9EA0"/><rect x="232.06" y="2279.35" width="1.95" height="18.75" fill="#B3B3B3"/><rect x="233.8" y="2279.35" width="1.95" height="18.75" fill="#5F9EA0"/><rect x="246.58" y="2279.35" width="1.95" height="18.75" fill="#5F9EA0"/><rect x="254.14" y="2279.35" width="1.95" height="18.75" fill="#B23AEE"/><rect x="256.46" y="2279.35" width="1.95" height="18.75" fill="#5F9EA0"/><rect x="265.18" y="2279.35" width="1.95" height="18.75" fill="#B3B3B3"/><rect x="276.8" y="2279.35" width="1.95" height="18.75" fill="#5F9EA0"/><rect x="284.94" y="2279.35" width="1.95" height="18.75" fill="#5F9EA0"/><rect x="288.43" y="2279.35" width="1.95" height="18.75" fill="#5F9EA0"/><rect x="301.79" y="2279.35" width="1.95" height="18.75" fill="#68228B"/><rect x="308.18" y="2279.35" width="1.95" height="18.75" fill="#B3B3B3"/><rect x="326.2" y="2260.6" width="1.95" height="37.5" fill="#5F9EA0"/><rect x="331.43" y="2279.35" width="1.95" height="18.75" fill="#5F9EA0"/><rect x="334.92" y="2279.35" width="1.95" height="18.75" fill="#5F9EA0"/><rect x="341.89" y="2279.35" width="1.95" height="18.75" fill="#68228B"/><rect x="345.38" y="2279.35" width="1.95" height="18.75" fill="#5F9EA0"/><rect x="347.7" y="2279.35" width="1.95" height="18.75" fill="#5F9EA0"/><rect x="349.44" y="2260.6" width="1.95" height="37.5" fill="#5F9EA0"/><rect x="354.67" y="2260.6" width="1.95" height="37.5" fill="#CD661D"/><rect x="354.67" y="2241.85" width="1.95" height="18.75" fill="#5F9EA0"/><rect x="362.23" y="2279.35" width="1.95" height="18.75" fill="#5F9EA0"/><rect x="372.69" y="2279.35" width="1.95" height="18.75" fill="#5F9EA0"/><rect x="502.28" y="2279.35" width="1.95" height="18.75" fill="#B23AEE"/><rect x="534.82" y="2279.35" width="1.95" height="18.75" fill="#5F9EA0"/><rect x="536.57" y="2279.35" width="1.95" height="18.75" fill="#CD661D"/><rect x="548.77" y="2279.35" width="1.95" height="18.75" fill="#CD661D"/><rect x="557.49" y="2279.35" width="1.95" height="18.75" fill="#68228B"/><rect x="558.65" y="2241.85" width="1.95" height="56.25" fill="#5F9EA0"/><rect x="567.37" y="2260.6" width="1.95" height="37.5" fill="#B3B3B3"/><rect x="572.01" y="2279.35" width="1.95" height="18.75" fill="#CD661D"/><rect x="574.34" y="2279.35" width="1.95" height="18.75" fill="#5F9EA0"/><rect x="581.89" y="2279.35" width="1.95" height="18.75" fill="#CD661D"/><rect x="583.64" y="2279.35" width="1.95" height="18.75" fill="#5F9EA0"/><rect x="591.77" y="2279.35" width="1.95" height="18.75" fill="#CD661D"/><rect x="594.1" y="2279.35" width="1.95" height="18.75" fill="#CD661D"/><rect x="598.75" y="2279.35" width="1.95" height="18.75" fill="#5F9EA0"/><rect x="627.8" y="2241.85" width="1.95" height="56.25" fill="#5F9EA0"/><rect x="638.26" y="2279.35" width="1.95" height="18.75" fill="#B3B3B3"/><rect x="645.82" y="2279.35" width="1.95" height="18.75" fill="#5F9EA0"/><rect x="652.79" y="2279.35" width="1.95" height="18.75" fill="#CD661D"/><rect x="654.53" y="2260.6" width="1.95" height="37.5" fill="#5F9EA0"/><rect x="666.16" y="2279.35" width="1.95" height="18.75" fill="#5F9EA0"/><rect x="689.98" y="2279.35" width="1.95" height="18.75" fill="#CD661D"/><rect x="696.38" y="2279.35" width="1.95" height="18.75" fill="#5F9EA0"/><rect x="712.65" y="2279.35" width="1.95" height="18.75" fill="#5F9EA0"/><rect x="717.3" y="2279.35" width="1.95" height="18.75" fill="#68228B"/><rect x="719.62" y="2279.35" width="1.95" height="18.75" fill="#5F9EA0"/><rect x="721.94" y="2279.35" width="1.95" height="18.75" fill="#B3B3B3"/><rect x="725.43" y="2279.35" width="1.95" height="18.75" fill="#B23AEE"/><rect x="738.8" y="2279.35" width="1.95" height="18.75" fill="#B3B3B3"/><rect x="746.93" y="2279.35" width="1.95" height="18.75" fill="#B23AEE"/><rect x="764.37" y="2279.35" width="1.95" height="18.75" fill="#5F9EA0"/><rect x="773.08" y="2279.35" width="1.95" height="18.75" fill="#5F9EA0"/><rect x="776.57" y="2279.35" width="1.95" height="18.75" fill="#5F9EA0"/><rect x="787.61" y="2279.35" width="1.95" height="18.75" fill="#5F9EA0"/><rect x="800.4" y="2260.6" width="1.95" height="37.5" fill="#5F9EA0"/><rect x="803.3" y="2279.35" width="1.95" height="18.75" fill="#5F9EA0"/><rect x="818.41" y="2279.35" width="1.95" height="18.75" fill="#CD661D"/><rect x="821.32" y="2260.6" width="1.95" height="37.5" fill="#5F9EA0"/><rect x="824.22" y="2279.35" width="1.95" height="18.75" fill="#B3B3B3"/><rect x="832.36" y="2279.35" width="1.95" height="18.75" fill="#B3B3B3"/><rect x="847.47" y="2279.35" width="1.95" height="18.75" fill="#68228B"/><rect x="850.37" y="2260.6" width="1.95" height="37.5" fill="#5F9EA0"/><rect x="853.28" y="2279.35" width="1.95" height="18.75" fill="#68228B"/><rect x="859.09" y="2279.35" width="1.95" height="18.75" fill="#5F9EA0"/><rect x="866.06" y="2279.35" width="1.95" height="18.75" fill="#5F9EA0"/><rect x="873.62" y="2260.6" width="1.95" height="37.5" fill="#5F9EA0"/><rect x="882.34" y="2279.35" width="1.95" height="18.75" fill="#B3B3B3"/><rect x="380.12" y="2279.35" width="1.95" height="18.75" fill="#5F9EA0"/><rect x="381.92" y="2279.35" width="1.95" height="18.75" fill="#68228B"/><rect x="383.52" y="2260.6" width="1.95" height="37.5" fill="#68228B"/><rect x="383.52" y="2241.85" width="1.95" height="18.75" fill="#5F9EA0"/><rect x="392.42" y="2279.35" width="1.95" height="18.75" fill="#5F9EA0"/><rect x="401.52" y="2279.35" width="1.95" height="18.75" fill="#5F9EA0"/><rect x="401.52" y="2260.6" width="1.95" height="18.75" fill="#B23AEE"/><rect x="403.32" y="2279.35" width="1.95" height="18.75" fill="#5F9EA0"/><rect x="403.32" y="2241.85" width="1.95" height="37.5" fill="#B23AEE"/><rect x="405.02" y="2223.1" width="1.95" height="75" fill="#5F9EA0"/><rect x="408.02" y="2279.35" width="1.95" height="18.75" fill="#68228B"/><rect x="408.02" y="2148.1" width="1.95" height="131.25" fill="#5F9EA0"/><rect x="410.22" y="2260.6" width="1.95" height="37.5" fill="#5F9EA0"/><rect x="412.02" y="2260.6" width="1.95" height="37.5" fill="#5F9EA0"/><rect x="416.02" y="2204.35" width="1.95" height="93.75" fill="#5F9EA0"/><rect x="417.62" y="2091.85" width="1.95" height="206.25" fill="#5F9EA0"/><rect x="419.32" y="2016.85" width="1.95" height="281.25" fill="#5F9EA0"/><rect x="422.62" y="2260.6" width="1.95" height="37.5" fill="#5F9EA0"/><rect x="424.42" y="2223.1" width="1.95" height="75" fill="#5F9EA0"/><rect x="428.42" y="2279.35" width="1.95" height="18.75" fill="#5F9EA0"/><rect x="430.22" y="2279.35" width="1.95" height="18.75" fill="#5F9EA0"/><rect x="433.52" y="2279.35" width="1.95" height="18.75" fill="#CD661D"/><rect x="433.52" y="2204.35" width="1.95" height="75" fill="#5F9EA0"/><rect x="435.32" y="2223.1" width="1.95" height="75" fill="#5F9EA0"/><rect x="437.12" y="2129.35" width="1.95" height="168.75" fill="#5F9EA0"/><rect x="442.22" y="2279.35" width="1.95" height="18.75" fill="#68228B"/><rect x="444.02" y="2279.35" width="1.95" height="18.75" fill="#5F9EA0"/><rect x="446.52" y="2260.6" width="1.95" height="37.5" fill="#5F9EA0"/><rect x="448.42" y="2260.6" width="1.95" height="37.5" fill="#5F9EA0"/><rect x="450.22" y="2091.85" width="1.95" height="206.25" fill="#5F9EA0"/><rect x="451.92" y="2279.35" width="1.95" height="18.75" fill="#68228B"/><rect x="451.92" y="2260.6" width="1.95" height="18.75" fill="#B3B3B3"/><rect x="454.22" y="2279.35" width="1.95" height="18.75" fill="#CD661D"/><rect x="456.72" y="2279.35" width="1.95" height="18.75" fill="#CD661D"/><rect x="456.72" y="2241.85" width="1.95" height="37.5" fill="#5F9EA0"/><rect x="460.02" y="2260.6" width="1.95" height="37.5" fill="#5F9EA0"/><rect x="461.82" y="2279.35" width="1.95" height="18.75" fill="#5F9EA0"/><rect x="464.02" y="2260.6" width="1.95" height="37.5" fill="#B3B3B3"/><rect x="464.02" y="2148.1" width="1.95" height="112.5" fill="#5F9EA0"/><rect x="476.32" y="2260.6" width="1.95" height="37.5" fill="#5F9EA0"/></g>
<rect x="77.3" y="1979.4" width="812.4" height="318.7" fill="none" stroke="#2B2B2B" stroke-width="1.15"/>
<line x1="74.4" y1="2298.1" x2="77.3" y2="2298.1" stroke="#2B2B2B" stroke-width="1.1"/>
<text x="71.1" y="2301.3" font-size="14.7" text-anchor="end">0</text>
<line x1="74.4" y1="2204.35" x2="77.3" y2="2204.35" stroke="#2B2B2B" stroke-width="1.1"/>
<text x="71.1" y="2207.55" font-size="14.7" text-anchor="end">5</text>
<line x1="74.4" y1="2110.6" x2="77.3" y2="2110.6" stroke="#2B2B2B" stroke-width="1.1"/>
<text x="71.1" y="2113.8" font-size="14.7" text-anchor="end">10</text>
<line x1="74.4" y1="2016.85" x2="77.3" y2="2016.85" stroke="#2B2B2B" stroke-width="1.1"/>
<text x="71.1" y="2020.05" font-size="14.7" text-anchor="end">15</text>
<line x1="889.7" y1="1996.3" x2="892.6" y2="1996.3" stroke="#2B2B2B" stroke-width="1.1"/>
<text x="895.9" y="2001.3" font-size="14.7">500,000</text>
<line x1="889.7" y1="2057.1" x2="892.6" y2="2057.1" stroke="#2B2B2B" stroke-width="1.1"/>
<line x1="889.7" y1="2117.8" x2="892.6" y2="2117.8" stroke="#2B2B2B" stroke-width="1.1"/>
<line x1="889.7" y1="2178" x2="892.6" y2="2178" stroke="#2B2B2B" stroke-width="1.1"/>
<line x1="889.7" y1="2238.3" x2="892.6" y2="2238.3" stroke="#2B2B2B" stroke-width="1.1"/>
<line x1="889.7" y1="2298.1" x2="892.6" y2="2298.1" stroke="#2B2B2B" stroke-width="1.1"/>
<text x="895.9" y="2303.1" font-size="14.7">0</text>
<text x="485" y="1954" font-size="14.7" text-anchor="middle">CBL − 2 aa bins</text>
<text x="480" y="1970.3" font-size="14.7" text-anchor="middle">236 TwinsUK blood mutations</text>
<text font-size="14.7" text-anchor="middle" transform="translate(42.5 2151.9) rotate(-90)">TwinsUK mutation count</text>
<text font-size="14.7" text-anchor="middle" transform="translate(910.5 2176.6) rotate(90)">Cumulative duplex coverage</text>
<rect x="77.29" y="2308.8" width="59.27" height="15.7" fill="#E6B2B3" stroke="#000" stroke-width="1.3"/>
<rect x="136.56" y="2308.8" width="73.8" height="15.7" fill="#CC6C6B" stroke="#000" stroke-width="1.3"/>
<rect x="210.37" y="2308.8" width="43.58" height="15.7" fill="#E6B2B3" stroke="#000" stroke-width="1.3"/>
<rect x="253.95" y="2308.8" width="47.07" height="15.7" fill="#CC6C6B" stroke="#000" stroke-width="1.3"/>
<rect x="301.02" y="2308.8" width="36.03" height="15.7" fill="#E6B2B3" stroke="#000" stroke-width="1.3"/>
<rect x="337.05" y="2308.8" width="41.26" height="15.7" fill="#CC6C6B" stroke="#000" stroke-width="1.3"/>
<rect x="378.31" y="2308.8" width="26.15" height="15.7" fill="#E6B2B3" stroke="#000" stroke-width="1.3"/>
<rect x="404.46" y="2308.8" width="39.52" height="15.7" fill="#CC6C6B" stroke="#000" stroke-width="1.3"/>
<rect x="443.98" y="2308.8" width="60.44" height="15.7" fill="#E6B2B3" stroke="#000" stroke-width="1.3"/>
<rect x="504.42" y="2308.8" width="39.52" height="15.7" fill="#CC6C6B" stroke="#000" stroke-width="1.3"/>
<rect x="543.93" y="2308.8" width="112.16" height="15.7" fill="#E6B2B3" stroke="#000" stroke-width="1.3"/>
<rect x="656.09" y="2308.8" width="28.48" height="15.7" fill="#CC6C6B" stroke="#000" stroke-width="1.3"/>
<rect x="684.57" y="2308.8" width="34.87" height="15.7" fill="#E6B2B3" stroke="#000" stroke-width="1.3"/>
<rect x="719.43" y="2308.8" width="28.48" height="15.7" fill="#CC6C6B" stroke="#000" stroke-width="1.3"/>
<rect x="747.91" y="2308.8" width="54.63" height="15.7" fill="#E6B2B3" stroke="#000" stroke-width="1.3"/>
<rect x="802.53" y="2308.8" width="86.59" height="15.7" fill="#CC6C6B" stroke="#000" stroke-width="1.3"/>
<rect x="77.29" y="2308.8" width="811.83" height="15.7" fill="none" stroke="#000" stroke-width="1.5"/>
<text x="71.1" y="2321.65" font-size="14.7" text-anchor="end">Exons</text>
<line x1="78.8" y1="2347.5" x2="888.2" y2="2347.5" stroke="#5E5E5E" stroke-width="6.2"/>
<rect x="119.71" y="2340" width="4.07" height="15.7" fill="#BEBADA" stroke="#000" stroke-width="1.3"/>
<rect x="123.78" y="2340" width="111.58" height="15.7" fill="#FFFFB3" stroke="#000" stroke-width="1.3"/>
<rect x="235.36" y="2340" width="2.91" height="15.7" fill="#BEBADA" stroke="#000" stroke-width="1.3"/>
<rect x="238.26" y="2340" width="68.57" height="15.7" fill="#8DD3C7" stroke="#000" stroke-width="1.3"/>
<rect x="306.83" y="2340" width="86.01" height="15.7" fill="#FB8072" stroke="#000" stroke-width="1.3"/>
<rect x="417.83" y="2340" width="35.45" height="15.7" fill="#FDB462" stroke="#000" stroke-width="1.3"/>
<rect x="842.05" y="2340" width="34.87" height="15.7" fill="#80B1D3" stroke="#000" stroke-width="1.3"/>
<text x="71.1" y="2352.5" font-size="14.7" text-anchor="end">Domains</text>
<line x1="77.3" y1="2419.23" x2="889.7" y2="2419.23" stroke="#EBEBEB" stroke-width="1"/>
<line x1="77.3" y1="2472.46" x2="889.7" y2="2472.46" stroke="#EBEBEB" stroke-width="1"/>
<line x1="77.3" y1="2525.69" x2="889.7" y2="2525.69" stroke="#EBEBEB" stroke-width="1"/>
<line x1="77.3" y1="2578.92" x2="889.7" y2="2578.92" stroke="#EBEBEB" stroke-width="1"/>
<line x1="77.3" y1="2632.15" x2="889.7" y2="2632.15" stroke="#EBEBEB" stroke-width="1"/>
<line x1="77.3" y1="2685.38" x2="889.7" y2="2685.38" stroke="#EBEBEB" stroke-width="1"/>
<g><rect x="319.27" y="2366" width="1.85" height="53.23" fill="#5F9EA0"/><rect x="339.03" y="2366" width="1.85" height="53.23" fill="#5F9EA0"/><rect x="377.97" y="2366" width="1.85" height="53.23" fill="#5F9EA0"/><rect x="395.98" y="2366" width="1.85" height="53.23" fill="#CD661D"/><rect x="407.02" y="2366" width="1.85" height="159.69" fill="#5F9EA0"/><rect x="408.77" y="2366" width="1.85" height="212.92" fill="#5F9EA0"/><rect x="411.09" y="2366" width="1.85" height="53.23" fill="#5F9EA0"/><rect x="415.74" y="2366" width="1.85" height="159.69" fill="#5F9EA0"/><rect x="418.65" y="2366" width="1.85" height="106.46" fill="#5F9EA0"/><rect x="429.69" y="2366" width="1.85" height="106.46" fill="#5F9EA0"/><rect x="432.59" y="2366" width="1.85" height="53.23" fill="#5F9EA0"/><rect x="435.5" y="2366" width="1.85" height="106.46" fill="#5F9EA0"/><rect x="437.24" y="2366" width="1.85" height="53.23" fill="#5F9EA0"/><rect x="447.7" y="2366" width="1.85" height="212.92" fill="#5F9EA0"/><rect x="451.19" y="2366" width="1.85" height="106.46" fill="#5F9EA0"/><rect x="523.83" y="2366" width="1.85" height="53.23" fill="#CD661D"/><rect x="558.12" y="2366" width="1.85" height="53.23" fill="#5F9EA0"/><rect x="577.88" y="2366" width="1.85" height="53.23" fill="#5F9EA0"/><rect x="716.76" y="2366" width="1.85" height="53.23" fill="#68228B"/><rect x="727.22" y="2366" width="1.85" height="53.23" fill="#B3B3B3"/><rect x="748.73" y="2366" width="1.85" height="53.23" fill="#B3B3B3"/><rect x="805.68" y="2366" width="1.85" height="53.23" fill="#B3B3B3"/><rect x="403.54" y="2366" width="1.85" height="212.92" fill="#CD661D"/><rect x="403.54" y="2578.92" width="1.85" height="53.23" fill="#B23AEE"/><rect x="404.91" y="2366" width="2.6" height="106.46" fill="#CD661D"/></g>
<rect x="77.3" y="2366" width="812.4" height="319.4" fill="none" stroke="#2B2B2B" stroke-width="1.15"/>
<line x1="74.4" y1="2366" x2="77.3" y2="2366" stroke="#2B2B2B" stroke-width="1.1"/>
<text x="71.1" y="2371" font-size="14.7" text-anchor="end">0</text>
<line x1="74.4" y1="2419.23" x2="77.3" y2="2419.23" stroke="#2B2B2B" stroke-width="1.1"/>
<text x="71.1" y="2424.23" font-size="14.7" text-anchor="end">1</text>
<line x1="74.4" y1="2472.46" x2="77.3" y2="2472.46" stroke="#2B2B2B" stroke-width="1.1"/>
<text x="71.1" y="2477.46" font-size="14.7" text-anchor="end">2</text>
<line x1="74.4" y1="2525.69" x2="77.3" y2="2525.69" stroke="#2B2B2B" stroke-width="1.1"/>
<text x="71.1" y="2530.69" font-size="14.7" text-anchor="end">3</text>
<line x1="74.4" y1="2578.92" x2="77.3" y2="2578.92" stroke="#2B2B2B" stroke-width="1.1"/>
<text x="71.1" y="2583.92" font-size="14.7" text-anchor="end">4</text>
<line x1="74.4" y1="2632.15" x2="77.3" y2="2632.15" stroke="#2B2B2B" stroke-width="1.1"/>
<text x="71.1" y="2637.15" font-size="14.7" text-anchor="end">5</text>
<line x1="74.4" y1="2685.38" x2="77.3" y2="2685.38" stroke="#2B2B2B" stroke-width="1.1"/>
<text x="71.1" y="2690.38" font-size="14.7" text-anchor="end">6</text>
<text font-size="14.7" text-anchor="middle" transform="translate(42.5 2527.4) rotate(-90)">COSMIC mutation count</text>
<text x="491" y="2705.3" font-size="14.7" text-anchor="middle">42 COSMIC mutations (lymphoid and haematopoietic neoplasms)</text>
<text x="109.3" y="2514.7" font-size="14.7" font-weight="bold">Domain type</text>
<rect x="109.8" y="2521.65" width="17.5" height="17.9" fill="#8DD3C7" stroke="#000" stroke-width="1"/>
<text x="134.2" y="2535.6" font-size="14.7">Adaptor protein Cbl, EF hand−like</text>
<rect x="109.8" y="2540.6" width="17.5" height="17.9" fill="#FFFFB3" stroke="#000" stroke-width="1"/>
<text x="134.2" y="2554.55" font-size="14.7">Adaptor protein Cbl, N−terminal helical</text>
<rect x="109.8" y="2559.55" width="17.5" height="17.9" fill="#BEBADA" stroke="#000" stroke-width="1"/>
<text x="134.2" y="2573.5" font-size="14.7">Adaptor protein Cbl, PTB domain</text>
<rect x="109.8" y="2578.5" width="17.5" height="17.9" fill="#FB8072" stroke="#000" stroke-width="1"/>
<text x="134.2" y="2592.45" font-size="14.7">Adaptor protein Cbl, SH2−like domain</text>
<rect x="109.8" y="2597.45" width="17.5" height="17.9" fill="#80B1D3" stroke="#000" stroke-width="1"/>
<text x="134.2" y="2611.4" font-size="14.7">Ubiquitin−associated domain</text>
<rect x="109.8" y="2616.4" width="17.5" height="17.9" fill="#FDB462" stroke="#000" stroke-width="1"/>
<text x="134.2" y="2630.35" font-size="14.7">Zinc finger, RING−type</text>
<line x1="1025.5" y1="2235.5" x2="1930.8" y2="2235.5" stroke="#E4E4E4" stroke-width="1"/>
<line x1="1025.5" y1="2161.3" x2="1930.8" y2="2161.3" stroke="#E4E4E4" stroke-width="1"/>
<line x1="1025.5" y1="2087.1" x2="1930.8" y2="2087.1" stroke="#E4E4E4" stroke-width="1"/>
<line x1="1025.5" y1="2012.9" x2="1930.8" y2="2012.9" stroke="#E4E4E4" stroke-width="1"/>
<path d="M1031.7 2309.7L1031.7 2102.06C1033.26 2101.54 1037.42 2099.77 1041.05 2098.94C1044.69 2098.11 1049.37 2098.63 1053.52 2097.07C1057.68 2095.51 1062.15 2091.66 1065.99 2089.59C1069.84 2087.51 1074.51 2084.7 1076.59 2084.6C1078.67 2084.49 1076.07 2089.38 1078.46 2088.96C1080.85 2088.55 1086.77 2085.01 1090.93 2082.1C1095.09 2079.2 1099.24 2075.04 1103.4 2071.51C1107.56 2067.97 1112.54 2063.09 1115.87 2060.91C1119.2 2058.72 1121.48 2060.28 1123.35 2058.41C1125.22 2056.54 1124.7 2053.01 1127.09 2049.68C1129.48 2046.36 1133.85 2041.37 1137.69 2038.46C1141.54 2035.55 1146 2034.3 1150.16 2032.23C1154.32 2030.15 1158.99 2027.86 1162.63 2025.99C1166.27 2024.12 1168.87 2022.04 1171.98 2021C1175.1 2019.96 1178.22 2019.76 1181.34 2019.76C1184.45 2019.76 1188.09 2020.9 1190.69 2021C1193.29 2021.11 1193.81 2019.34 1196.92 2020.38C1200.04 2021.42 1205.24 2025.06 1209.39 2027.24C1213.55 2029.42 1217.71 2031.6 1221.86 2033.47C1226.02 2035.34 1230.17 2037.11 1234.33 2038.46C1238.49 2039.81 1242.64 2040.23 1246.8 2041.58C1250.96 2042.93 1255.11 2045.22 1259.27 2046.57C1263.43 2047.92 1267.58 2048.13 1271.74 2049.68C1275.9 2051.24 1280.05 2054.26 1284.21 2055.92C1288.37 2057.58 1292.52 2058.2 1296.68 2059.66C1300.84 2061.11 1304.99 2063.3 1309.15 2064.65C1313.31 2066 1317.46 2066.62 1321.62 2067.76C1325.78 2068.91 1330.45 2070.15 1334.09 2071.51C1337.73 2072.86 1340.53 2073.9 1343.44 2075.87C1346.35 2077.84 1348.95 2081.79 1351.55 2083.35C1354.14 2084.91 1356.22 2084.18 1359.03 2085.22C1361.83 2086.26 1365.89 2088.24 1368.38 2089.59C1370.87 2090.94 1373.06 2092.7 1373.99 2093.33L1375.24 2161.91C1376.69 2161.29 1380.43 2160.04 1383.97 2158.17C1387.5 2156.3 1392.28 2153.18 1396.44 2150.69C1400.59 2148.19 1405.27 2145.6 1408.91 2143.21C1412.54 2140.82 1415.14 2138.11 1418.26 2136.35C1421.38 2134.58 1423.97 2133.23 1427.61 2132.61C1431.25 2131.98 1435.92 2132.4 1440.08 2132.61C1444.24 2132.81 1448.39 2132.92 1452.55 2133.85C1456.71 2134.79 1460.86 2136.97 1465.02 2138.22C1469.18 2139.47 1473.33 2140.3 1477.49 2141.34C1481.65 2142.37 1486.22 2143.41 1489.96 2144.45C1493.7 2145.49 1498.27 2147.05 1499.93 2147.57L1501.8 2123.25C1503.47 2122.42 1508.56 2120.45 1511.78 2118.27C1515 2116.08 1518.01 2113.59 1521.13 2110.16C1524.25 2106.73 1527.37 2102.16 1530.48 2097.69C1533.6 2093.22 1536.72 2088.03 1539.84 2083.35C1542.95 2078.68 1546.07 2074 1549.19 2069.64C1552.31 2065.27 1554.9 2061.11 1558.54 2057.17C1562.18 2053.22 1566.85 2049.27 1571.01 2045.94C1575.17 2042.62 1579.32 2040.33 1583.48 2037.21C1587.64 2034.1 1591.79 2030.67 1595.95 2027.24C1600.11 2023.81 1604.78 2019.45 1608.42 2016.64C1612.06 2013.83 1614.65 2012.17 1617.77 2010.4C1620.89 2008.64 1624.01 2006.77 1627.12 2006.04C1630.24 2005.31 1633.36 2005.62 1636.48 2006.04C1639.59 2006.46 1642.19 2007.5 1645.83 2008.53C1649.47 2009.57 1654.14 2011.34 1658.3 2012.28C1662.45 2013.21 1666.61 2013.94 1670.77 2014.15C1674.92 2014.35 1679.6 2013.83 1683.24 2013.52C1686.87 2013.21 1691.03 2012.48 1692.59 2012.28L1694.46 1989.83C1696.23 1990.25 1701.21 1991.28 1705.06 1992.32C1708.9 1993.36 1713.37 1994.92 1717.53 1996.06C1721.69 1997.21 1725.84 1998.04 1730 1999.18C1734.15 2000.33 1738.31 2001.78 1742.47 2002.92C1746.62 2004.07 1750.78 2005.11 1754.94 2006.04C1759.09 2006.98 1763.56 2007.91 1767.41 2008.53C1771.25 2009.16 1775.82 2008.64 1778.01 2009.78C1780.19 2010.92 1778.63 2013.73 1780.5 2015.39C1782.37 2017.06 1785.7 2017.78 1789.23 2019.76C1792.76 2021.73 1797.54 2024.85 1801.7 2027.24C1805.85 2029.63 1810.01 2031.91 1814.17 2034.1C1818.32 2036.28 1822.48 2038.25 1826.64 2040.33C1830.79 2042.41 1834.95 2045.11 1839.11 2046.57C1843.26 2048.02 1847.42 2048.33 1851.58 2049.06C1855.73 2049.79 1859.89 2050.2 1864.05 2050.93C1868.2 2051.66 1872.36 2052.8 1876.52 2053.42C1880.67 2054.05 1884.83 2054.46 1888.99 2054.67C1893.14 2054.88 1897.3 2054.78 1901.46 2054.67C1905.61 2054.57 1910.08 2054.05 1913.92 2054.05C1917.77 2054.05 1922.76 2054.57 1924.52 2054.67L1924.52 2309.7Z" fill="#D8D8D8" fill-opacity="0.42"/>
<path d="M1031.7 2102.06C1033.26 2101.54 1037.42 2099.77 1041.05 2098.94C1044.69 2098.11 1049.37 2098.63 1053.52 2097.07C1057.68 2095.51 1062.15 2091.66 1065.99 2089.59C1069.84 2087.51 1074.51 2084.7 1076.59 2084.6C1078.67 2084.49 1076.07 2089.38 1078.46 2088.96C1080.85 2088.55 1086.77 2085.01 1090.93 2082.1C1095.09 2079.2 1099.24 2075.04 1103.4 2071.51C1107.56 2067.97 1112.54 2063.09 1115.87 2060.91C1119.2 2058.72 1121.48 2060.28 1123.35 2058.41C1125.22 2056.54 1124.7 2053.01 1127.09 2049.68C1129.48 2046.36 1133.85 2041.37 1137.69 2038.46C1141.54 2035.55 1146 2034.3 1150.16 2032.23C1154.32 2030.15 1158.99 2027.86 1162.63 2025.99C1166.27 2024.12 1168.87 2022.04 1171.98 2021C1175.1 2019.96 1178.22 2019.76 1181.34 2019.76C1184.45 2019.76 1188.09 2020.9 1190.69 2021C1193.29 2021.11 1193.81 2019.34 1196.92 2020.38C1200.04 2021.42 1205.24 2025.06 1209.39 2027.24C1213.55 2029.42 1217.71 2031.6 1221.86 2033.47C1226.02 2035.34 1230.17 2037.11 1234.33 2038.46C1238.49 2039.81 1242.64 2040.23 1246.8 2041.58C1250.96 2042.93 1255.11 2045.22 1259.27 2046.57C1263.43 2047.92 1267.58 2048.13 1271.74 2049.68C1275.9 2051.24 1280.05 2054.26 1284.21 2055.92C1288.37 2057.58 1292.52 2058.2 1296.68 2059.66C1300.84 2061.11 1304.99 2063.3 1309.15 2064.65C1313.31 2066 1317.46 2066.62 1321.62 2067.76C1325.78 2068.91 1330.45 2070.15 1334.09 2071.51C1337.73 2072.86 1340.53 2073.9 1343.44 2075.87C1346.35 2077.84 1348.95 2081.79 1351.55 2083.35C1354.14 2084.91 1356.22 2084.18 1359.03 2085.22C1361.83 2086.26 1365.89 2088.24 1368.38 2089.59C1370.87 2090.94 1373.06 2092.7 1373.99 2093.33L1375.24 2161.91C1376.69 2161.29 1380.43 2160.04 1383.97 2158.17C1387.5 2156.3 1392.28 2153.18 1396.44 2150.69C1400.59 2148.19 1405.27 2145.6 1408.91 2143.21C1412.54 2140.82 1415.14 2138.11 1418.26 2136.35C1421.38 2134.58 1423.97 2133.23 1427.61 2132.61C1431.25 2131.98 1435.92 2132.4 1440.08 2132.61C1444.24 2132.81 1448.39 2132.92 1452.55 2133.85C1456.71 2134.79 1460.86 2136.97 1465.02 2138.22C1469.18 2139.47 1473.33 2140.3 1477.49 2141.34C1481.65 2142.37 1486.22 2143.41 1489.96 2144.45C1493.7 2145.49 1498.27 2147.05 1499.93 2147.57L1501.8 2123.25C1503.47 2122.42 1508.56 2120.45 1511.78 2118.27C1515 2116.08 1518.01 2113.59 1521.13 2110.16C1524.25 2106.73 1527.37 2102.16 1530.48 2097.69C1533.6 2093.22 1536.72 2088.03 1539.84 2083.35C1542.95 2078.68 1546.07 2074 1549.19 2069.64C1552.31 2065.27 1554.9 2061.11 1558.54 2057.17C1562.18 2053.22 1566.85 2049.27 1571.01 2045.94C1575.17 2042.62 1579.32 2040.33 1583.48 2037.21C1587.64 2034.1 1591.79 2030.67 1595.95 2027.24C1600.11 2023.81 1604.78 2019.45 1608.42 2016.64C1612.06 2013.83 1614.65 2012.17 1617.77 2010.4C1620.89 2008.64 1624.01 2006.77 1627.12 2006.04C1630.24 2005.31 1633.36 2005.62 1636.48 2006.04C1639.59 2006.46 1642.19 2007.5 1645.83 2008.53C1649.47 2009.57 1654.14 2011.34 1658.3 2012.28C1662.45 2013.21 1666.61 2013.94 1670.77 2014.15C1674.92 2014.35 1679.6 2013.83 1683.24 2013.52C1686.87 2013.21 1691.03 2012.48 1692.59 2012.28L1694.46 1989.83C1696.23 1990.25 1701.21 1991.28 1705.06 1992.32C1708.9 1993.36 1713.37 1994.92 1717.53 1996.06C1721.69 1997.21 1725.84 1998.04 1730 1999.18C1734.15 2000.33 1738.31 2001.78 1742.47 2002.92C1746.62 2004.07 1750.78 2005.11 1754.94 2006.04C1759.09 2006.98 1763.56 2007.91 1767.41 2008.53C1771.25 2009.16 1775.82 2008.64 1778.01 2009.78C1780.19 2010.92 1778.63 2013.73 1780.5 2015.39C1782.37 2017.06 1785.7 2017.78 1789.23 2019.76C1792.76 2021.73 1797.54 2024.85 1801.7 2027.24C1805.85 2029.63 1810.01 2031.91 1814.17 2034.1C1818.32 2036.28 1822.48 2038.25 1826.64 2040.33C1830.79 2042.41 1834.95 2045.11 1839.11 2046.57C1843.26 2048.02 1847.42 2048.33 1851.58 2049.06C1855.73 2049.79 1859.89 2050.2 1864.05 2050.93C1868.2 2051.66 1872.36 2052.8 1876.52 2053.42C1880.67 2054.05 1884.83 2054.46 1888.99 2054.67C1893.14 2054.88 1897.3 2054.78 1901.46 2054.67C1905.61 2054.57 1910.08 2054.05 1913.92 2054.05C1917.77 2054.05 1922.76 2054.57 1924.52 2054.67" fill="none" stroke="#A6A6A6" stroke-width="1.4" stroke-linejoin="round"/>
<g><rect x="1073.32" y="2272.6" width="2.8" height="37.1" fill="#B3B3B3"/><rect x="1095.77" y="2272.6" width="2.8" height="37.1" fill="#5F9EA0"/><rect x="1123.82" y="2272.6" width="2.8" height="37.1" fill="#B3B3B3"/><rect x="1126.94" y="2272.6" width="2.8" height="37.1" fill="#5F9EA0"/><rect x="1129.43" y="2272.6" width="2.8" height="37.1" fill="#B3B3B3"/><rect x="1131.93" y="2235.5" width="2.8" height="74.2" fill="#B3B3B3"/><rect x="1179.94" y="2272.6" width="2.8" height="37.1" fill="#5F9EA0"/><rect x="1224.83" y="2272.6" width="2.8" height="37.1" fill="#B3B3B3"/><rect x="1312.11" y="2272.6" width="2.8" height="37.1" fill="#5F9EA0"/><rect x="1317.72" y="2272.6" width="2.8" height="37.1" fill="#5F9EA0"/><rect x="1353.89" y="2272.6" width="2.8" height="37.1" fill="#B3B3B3"/><rect x="1410.62" y="2272.6" width="2.8" height="37.1" fill="#B3B3B3"/><rect x="1474.84" y="2272.6" width="2.8" height="37.1" fill="#5F9EA0"/><rect x="1499.78" y="2272.6" width="2.8" height="37.1" fill="#B23AEE"/><rect x="1509.13" y="2272.6" width="2.8" height="37.1" fill="#5F9EA0"/><rect x="1582.08" y="2272.6" width="2.8" height="37.1" fill="#68228B"/><rect x="1587.07" y="2272.6" width="2.8" height="37.1" fill="#5F9EA0"/><rect x="1615.75" y="2272.6" width="2.8" height="37.1" fill="#5F9EA0"/><rect x="1624.48" y="2272.6" width="2.8" height="37.1" fill="#B3B3B3"/><rect x="1703.04" y="2235.5" width="2.8" height="74.2" fill="#5F9EA0"/><rect x="1722.36" y="2272.6" width="2.8" height="37.1" fill="#5F9EA0"/><rect x="1725.48" y="2272.6" width="2.8" height="37.1" fill="#B3B3B3"/><rect x="1733.59" y="2272.6" width="2.8" height="37.1" fill="#5F9EA0"/><rect x="1739.2" y="2272.6" width="2.8" height="37.1" fill="#B3B3B3"/><rect x="1781.59" y="2235.5" width="2.8" height="74.2" fill="#5F9EA0"/><rect x="1784.71" y="2272.6" width="2.8" height="37.1" fill="#5F9EA0"/><rect x="1792.82" y="2272.6" width="2.8" height="37.1" fill="#68228B"/><rect x="1795.31" y="2012.9" width="2.8" height="296.8" fill="#5F9EA0"/><rect x="1817.76" y="2272.6" width="2.8" height="37.1" fill="#5F9EA0"/><rect x="1826.48" y="2272.6" width="2.8" height="37.1" fill="#5F9EA0"/><rect x="1851.42" y="2272.6" width="2.8" height="37.1" fill="#B3B3B3"/><rect x="1876.36" y="2272.6" width="2.8" height="37.1" fill="#5F9EA0"/><rect x="1884.47" y="2272.6" width="2.8" height="37.1" fill="#5F9EA0"/><rect x="1891.33" y="2272.6" width="2.8" height="37.1" fill="#68228B"/><rect x="1913.77" y="2272.6" width="2.8" height="37.1" fill="#5F9EA0"/></g>
<rect x="1025.5" y="1976.7" width="905.3" height="333" fill="none" stroke="#2B2B2B" stroke-width="1.15"/>
<line x1="1022.6" y1="2309.7" x2="1025.5" y2="2309.7" stroke="#2B2B2B" stroke-width="1.1"/>
<text x="1019.3" y="2314.7" font-size="14.7" text-anchor="end">0</text>
<line x1="1022.6" y1="2235.5" x2="1025.5" y2="2235.5" stroke="#2B2B2B" stroke-width="1.1"/>
<text x="1019.3" y="2240.5" font-size="14.7" text-anchor="end">2</text>
<line x1="1022.6" y1="2161.3" x2="1025.5" y2="2161.3" stroke="#2B2B2B" stroke-width="1.1"/>
<text x="1019.3" y="2166.3" font-size="14.7" text-anchor="end">4</text>
<line x1="1022.6" y1="2087.1" x2="1025.5" y2="2087.1" stroke="#2B2B2B" stroke-width="1.1"/>
<text x="1019.3" y="2092.1" font-size="14.7" text-anchor="end">6</text>
<line x1="1022.6" y1="2012.9" x2="1025.5" y2="2012.9" stroke="#2B2B2B" stroke-width="1.1"/>
<text x="1019.3" y="2017.9" font-size="14.7" text-anchor="end">8</text>
<line x1="1930.8" y1="1995.4" x2="1933.7" y2="1995.4" stroke="#2B2B2B" stroke-width="1.1"/>
<text x="1937" y="2000.4" font-size="14.7">300,000</text>
<line x1="1930.8" y1="2101.4" x2="1933.7" y2="2101.4" stroke="#2B2B2B" stroke-width="1.1"/>
<line x1="1930.8" y1="2206.2" x2="1933.7" y2="2206.2" stroke="#2B2B2B" stroke-width="1.1"/>
<line x1="1930.8" y1="2309.7" x2="1933.7" y2="2309.7" stroke="#2B2B2B" stroke-width="1.1"/>
<text x="1937" y="2314.7" font-size="14.7">0</text>
<text x="1478.7" y="1951.2" font-size="14.7" text-anchor="middle">MYD88 − 1 aa bins</text>
<text x="1478.7" y="1967.4" font-size="14.7" text-anchor="middle">45 TwinsUK blood mutations</text>
<text font-size="14.7" text-anchor="middle" transform="translate(991.5 2152.9) rotate(-90)">TwinsUK mutation count</text>
<text font-size="14.7" text-anchor="middle" transform="translate(1952.8 2152.2) rotate(90)">Cumulative duplex coverage</text>
<rect x="1025.47" y="2320.3" width="6.23" height="16.2" fill="#fff" stroke="#000" stroke-width="1.3"/>
<rect x="1031.7" y="2320.3" width="342.91" height="16.2" fill="#E6B2B3" stroke="#000" stroke-width="1.3"/>
<rect x="1374.61" y="2320.3" width="126.57" height="16.2" fill="#CC6C6B" stroke="#000" stroke-width="1.3"/>
<rect x="1501.18" y="2320.3" width="192.66" height="16.2" fill="#E6B2B3" stroke="#000" stroke-width="1.3"/>
<rect x="1693.84" y="2320.3" width="86.04" height="16.2" fill="#CC6C6B" stroke="#000" stroke-width="1.3"/>
<rect x="1779.88" y="2320.3" width="145.27" height="16.2" fill="#E6B2B3" stroke="#000" stroke-width="1.3"/>
<rect x="1925.15" y="2320.3" width="5.61" height="16.2" fill="#fff" stroke="#000" stroke-width="1.3"/>
<rect x="1025.47" y="2320.3" width="905.29" height="16.2" fill="none" stroke="#000" stroke-width="1.5"/>
<text x="1019.3" y="2333.4" font-size="14.7" text-anchor="end">Exons</text>
<line x1="1025.5" y1="2434.66" x2="1930.8" y2="2434.66" stroke="#EBEBEB" stroke-width="1"/>
<line x1="1025.5" y1="2523.82" x2="1930.8" y2="2523.82" stroke="#EBEBEB" stroke-width="1"/>
<line x1="1025.5" y1="2612.98" x2="1930.8" y2="2612.98" stroke="#EBEBEB" stroke-width="1"/>
<g><rect x="1216.1" y="2345.5" width="2.8" height="4.46" fill="#5F9EA0"/><rect x="1438.06" y="2345.5" width="2.8" height="8.92" fill="#5F9EA0"/><rect x="1441.17" y="2345.5" width="2.8" height="4.46" fill="#5F9EA0"/><rect x="1528.46" y="2345.5" width="2.8" height="4.46" fill="#5F9EA0"/><rect x="1637.57" y="2345.5" width="2.8" height="17.83" fill="#5F9EA0"/><rect x="1643.8" y="2345.5" width="2.8" height="40.12" fill="#5F9EA0"/><rect x="1702.41" y="2345.5" width="2.8" height="26.75" fill="#5F9EA0"/><rect x="1733.59" y="2345.5" width="2.8" height="26.75" fill="#5F9EA0"/><rect x="1775.98" y="2345.5" width="2.8" height="4.46" fill="#5F9EA0"/><rect x="1792.82" y="2345.5" width="2.8" height="4.46" fill="#5F9EA0"/><rect x="1795.31" y="2345.5" width="2.8" height="303.14" fill="#5F9EA0"/><rect x="1905.04" y="2345.5" width="2.8" height="4.46" fill="#5F9EA0"/></g>
<rect x="1025.5" y="2345.5" width="905.3" height="333.5" fill="none" stroke="#2B2B2B" stroke-width="1.15"/>
<line x1="1022.6" y1="2345.5" x2="1025.5" y2="2345.5" stroke="#2B2B2B" stroke-width="1.1"/>
<text x="1019.3" y="2350.5" font-size="14.7" text-anchor="end">0</text>
<line x1="1022.6" y1="2434.66" x2="1025.5" y2="2434.66" stroke="#2B2B2B" stroke-width="1.1"/>
<text x="1019.3" y="2439.66" font-size="14.7" text-anchor="end">20</text>
<line x1="1022.6" y1="2523.82" x2="1025.5" y2="2523.82" stroke="#2B2B2B" stroke-width="1.1"/>
<text x="1019.3" y="2528.82" font-size="14.7" text-anchor="end">40</text>
<line x1="1022.6" y1="2612.98" x2="1025.5" y2="2612.98" stroke="#2B2B2B" stroke-width="1.1"/>
<text x="1019.3" y="2617.98" font-size="14.7" text-anchor="end">60</text>
<text font-size="14.7" text-anchor="middle" transform="translate(991.5 2527.5) rotate(-90)">COSMIC mutation count</text>
<text x="1485.6" y="2699" font-size="14.7" text-anchor="middle">101 COSMIC mutations (lymphoid and haematopoietic neoplasms)</text>
</svg>
</body></html>
